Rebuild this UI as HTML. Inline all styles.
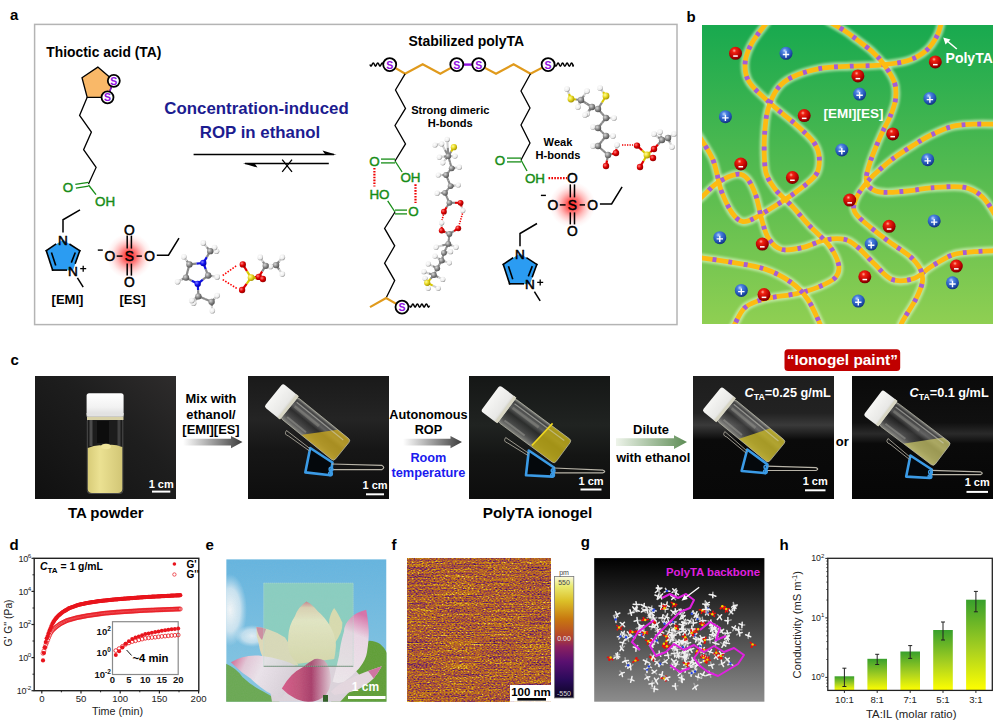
<!DOCTYPE html>
<html><head><meta charset="utf-8"><style>
html,body{margin:0;padding:0;background:#fff;}
body{width:1000px;height:721px;overflow:hidden;}
svg{display:block;font-family:"Liberation Sans", sans-serif;}
</style></head><body>
<svg width="1000" height="721" viewBox="0 0 1000 721" font-family='"Liberation Sans", sans-serif'>
<text x="10.0" y="19.5" font-size="15" font-weight="bold" fill="#000" text-anchor="start" >a</text>
<text x="686.5" y="21.6" font-size="15" font-weight="bold" fill="#000" text-anchor="start" >b</text>
<text x="10.5" y="364.8" font-size="15" font-weight="bold" fill="#000" text-anchor="start" >c</text>
<text x="9.5" y="549.5" font-size="15" font-weight="bold" fill="#000" text-anchor="start" >d</text>
<text x="205.5" y="550.0" font-size="15" font-weight="bold" fill="#000" text-anchor="start" >e</text>
<text x="391.5" y="550.0" font-size="15" font-weight="bold" fill="#000" text-anchor="start" >f</text>
<text x="580.8" y="547.0" font-size="15" font-weight="bold" fill="#000" text-anchor="start" >g</text>
<text x="779.5" y="550.0" font-size="15" font-weight="bold" fill="#000" text-anchor="start" >h</text>
<defs>
<radialGradient id="glow"><stop offset="0" stop-color="#ff1010" stop-opacity="0.95"/><stop offset="0.25" stop-color="#ff2a2a" stop-opacity="0.75"/><stop offset="0.55" stop-color="#ff4040" stop-opacity="0.35"/><stop offset="0.8" stop-color="#ff6060" stop-opacity="0.1"/><stop offset="1" stop-color="#ff8080" stop-opacity="0"/></radialGradient>
<radialGradient id="atomC" cx="0.35" cy="0.35" r="0.7"><stop offset="0" stop-color="#d8d8d8"/><stop offset="0.6" stop-color="#808080"/><stop offset="1" stop-color="#505050"/></radialGradient>
<radialGradient id="atomH" cx="0.38" cy="0.35" r="0.7"><stop offset="0" stop-color="#ffffff"/><stop offset="0.65" stop-color="#ececec"/><stop offset="1" stop-color="#8c8c8c"/></radialGradient>
<radialGradient id="atomO" cx="0.35" cy="0.35" r="0.7"><stop offset="0" stop-color="#ff8080"/><stop offset="0.5" stop-color="#e00000"/><stop offset="1" stop-color="#900000"/></radialGradient>
<radialGradient id="atomS" cx="0.35" cy="0.35" r="0.7"><stop offset="0" stop-color="#ffffa0"/><stop offset="0.5" stop-color="#e8d820"/><stop offset="1" stop-color="#a09000"/></radialGradient>
<radialGradient id="atomN" cx="0.35" cy="0.35" r="0.7"><stop offset="0" stop-color="#8080ff"/><stop offset="0.5" stop-color="#1010f0"/><stop offset="1" stop-color="#0000a0"/></radialGradient>
</defs>
<rect x="34.6" y="24.4" width="642.4" height="300.2" fill="none" stroke="#b4b4b4" stroke-width="1.5"/>
<text x="46.3" y="57.3" font-size="13.85" font-weight="bold" fill="#000" text-anchor="start" >Thioctic acid (TA)</text>
<polygon points="97.8,67.1 113.8,80.8 107.5,97.3 87.2,97.3 82,77.7" fill="#f9b868" stroke="#000" stroke-width="1.3"/>
<line x1="113.8" y1="80.8" x2="107.5" y2="97.3" stroke="#9010e0" stroke-width="1.4"/>
<circle cx="113.8" cy="80.8" r="6.0" fill="#fff" stroke="#000" stroke-width="1.8"/>
<text x="113.8" y="84.9" font-size="10.5" font-weight="bold" fill="#9010e0" text-anchor="middle" >S</text>
<circle cx="107.5" cy="97.3" r="6.0" fill="#fff" stroke="#000" stroke-width="1.8"/>
<text x="107.5" y="101.4" font-size="10.5" font-weight="bold" fill="#9010e0" text-anchor="middle" >S</text>
<polyline points="87.2,97.3 79.6,115.5 91.4,132.0 83.6,149.7 96.1,167.4 88.5,184.1" fill="none" stroke="#000" stroke-width="1.3" stroke-linejoin="miter" />
<line x1="88.5" y1="182.3" x2="75.3" y2="184.3" stroke="#168c16" stroke-width="1.3"/>
<line x1="88.5" y1="186.2" x2="75.9" y2="188.1" stroke="#168c16" stroke-width="1.3"/>
<line x1="88.5" y1="185" x2="96" y2="194.6" stroke="#168c16" stroke-width="1.3"/>
<text x="68.0" y="191.9" font-size="13.4" font-weight="normal" fill="#168c16" text-anchor="middle" stroke="#168c16" stroke-width="0.45">O</text>
<text x="95.1" y="205.7" font-size="13.4" font-weight="normal" fill="#168c16" text-anchor="start" stroke="#168c16" stroke-width="0.45">OH</text>
<text x="256.5" y="113.8" font-size="16.85" font-weight="bold" fill="#1c1c90" text-anchor="middle" >Concentration-induced</text>
<text x="260.0" y="137.6" font-size="16.85" font-weight="bold" fill="#1c1c90" text-anchor="middle" >ROP in ethanol</text>
<line x1="193.6" y1="154.6" x2="334" y2="154.6" stroke="#000" stroke-width="1.5"/>
<polygon points="336.5,154.8 322.5,150.6 325.5,154.8" fill="#000"/>
<line x1="245" y1="163.5" x2="328.8" y2="163.5" stroke="#000" stroke-width="1.5"/>
<polygon points="242.9,163.3 257.5,167.6 254.5,163.3" fill="#000"/>
<path d="M282.2,159.6 L292,171.8 M292,159.6 L282.2,171.8" stroke="#000" stroke-width="1.3"/>
<polygon points="63.0,239.8 79.8,250.7 73.0,270.6 52.6,270.1 46.3,250.7" fill="#2b9cf2"/>
<line x1="46.3" y1="250.7" x2="55.5" y2="244.4" stroke="#000" stroke-width="1.6" stroke-linecap="square"/>
<line x1="70.1" y1="244.4" x2="79.8" y2="250.7" stroke="#000" stroke-width="1.6" stroke-linecap="square"/>
<line x1="79.8" y1="250.7" x2="75.4" y2="262.9" stroke="#000" stroke-width="1.6" stroke-linecap="square"/>
<line x1="52.6" y1="270.1" x2="66.2" y2="270.1" stroke="#000" stroke-width="1.6" stroke-linecap="square"/>
<line x1="46.3" y1="250.7" x2="52.6" y2="270.1" stroke="#000" stroke-width="1.6" stroke-linecap="square"/>
<line x1="51.7" y1="253.2" x2="55.5" y2="264.8" stroke="#000" stroke-width="1.6" stroke-linecap="square"/>
<line x1="75.0" y1="253.2" x2="71.6" y2="261.9" stroke="#000" stroke-width="1.6" stroke-linecap="square"/>
<text x="63.0" y="244.8" font-size="13.6" font-weight="normal" fill="#000" text-anchor="middle" stroke="#000" stroke-width="0.5">N</text>
<text x="73.0" y="275.6" font-size="13.6" font-weight="normal" fill="#000" text-anchor="middle" stroke="#000" stroke-width="0.5">N</text>
<path d="M80.2,268.7 H86.2 M83.2,265.7 V271.7" stroke="#000" stroke-width="1.3"/>
<polyline points="63.0,232.5 63.0,219.8 80.0,209.8" fill="none" stroke="#000" stroke-width="1.5" stroke-linejoin="miter" />
<polyline points="77.4,277.9 83.2,287.1" fill="none" stroke="#000" stroke-width="1.5" stroke-linejoin="miter" />
<text x="67.5" y="303.5" font-size="13" font-weight="bold" fill="#000" text-anchor="middle" >[EMI]</text>
<circle cx="129.3" cy="256.1" r="23" fill="url(#glow)"/>
<line x1="127.20000000000002" y1="248.60000000000002" x2="127.20000000000002" y2="235.60000000000002" stroke="#000" stroke-width="1.5"/>
<line x1="127.20000000000002" y1="263.6" x2="127.20000000000002" y2="275.6" stroke="#000" stroke-width="1.5"/>
<line x1="131.4" y1="248.60000000000002" x2="131.4" y2="235.60000000000002" stroke="#000" stroke-width="1.5"/>
<line x1="131.4" y1="263.6" x2="131.4" y2="275.6" stroke="#000" stroke-width="1.5"/>
<line x1="116.70000000000002" y1="256.1" x2="122.50000000000001" y2="256.1" stroke="#000" stroke-width="1.5"/>
<line x1="136.5" y1="256.1" x2="141.9" y2="256.1" stroke="#000" stroke-width="1.5"/>
<text x="129.3" y="260.9" font-size="13.8" font-weight="normal" fill="#000" text-anchor="middle" stroke="#000" stroke-width="0.5">S</text>
<text x="129.3" y="234.6" font-size="13.8" font-weight="normal" fill="#000" text-anchor="middle" stroke="#000" stroke-width="0.5">O</text>
<text x="129.3" y="286.7" font-size="13.8" font-weight="normal" fill="#000" text-anchor="middle" stroke="#000" stroke-width="0.5">O</text>
<text x="109.8" y="260.9" font-size="13.8" font-weight="normal" fill="#000" text-anchor="middle" stroke="#000" stroke-width="0.5">O</text>
<text x="149.6" y="260.9" font-size="13.8" font-weight="normal" fill="#000" text-anchor="middle" stroke="#000" stroke-width="0.5">O</text>
<line x1="97.80000000000001" y1="250.10000000000002" x2="102.80000000000001" y2="250.10000000000002" stroke="#000" stroke-width="1.4"/>
<polyline points="156.8,255.2 168.5,255.2 179.0,238.1" fill="none" stroke="#000" stroke-width="1.5" stroke-linejoin="miter" />
<text x="132.5" y="303.5" font-size="13" font-weight="bold" fill="#000" text-anchor="middle" >[ES]</text>
<line x1="203.3" y1="263.0" x2="196.4" y2="263.7" stroke="#1010e0" stroke-width="2.2"/>
<line x1="196.4" y1="263.7" x2="189.4" y2="264.4" stroke="#8a8a8a" stroke-width="2.2"/>
<line x1="189.4" y1="264.4" x2="187.7" y2="271.0" stroke="#8a8a8a" stroke-width="2.2"/>
<line x1="187.7" y1="271.0" x2="186.0" y2="277.6" stroke="#8a8a8a" stroke-width="2.2"/>
<line x1="186.0" y1="277.6" x2="191.8" y2="280.7" stroke="#8a8a8a" stroke-width="2.2"/>
<line x1="191.8" y1="280.7" x2="197.7" y2="283.8" stroke="#1010e0" stroke-width="2.2"/>
<line x1="197.7" y1="283.8" x2="202.9" y2="279.6" stroke="#1010e0" stroke-width="2.2"/>
<line x1="202.9" y1="279.6" x2="208.1" y2="275.5" stroke="#8a8a8a" stroke-width="2.2"/>
<line x1="208.1" y1="275.5" x2="205.7" y2="269.2" stroke="#8a8a8a" stroke-width="2.2"/>
<line x1="205.7" y1="269.2" x2="203.3" y2="263.0" stroke="#1010e0" stroke-width="2.2"/>
<line x1="208.1" y1="275.5" x2="212.6" y2="276.2" stroke="#8a8a8a" stroke-width="2.2"/>
<line x1="212.6" y1="276.2" x2="217.2" y2="276.9" stroke="#d0d0d0" stroke-width="2.2"/>
<line x1="189.4" y1="264.4" x2="186.7" y2="260.6" stroke="#8a8a8a" stroke-width="2.2"/>
<line x1="186.7" y1="260.6" x2="183.9" y2="256.8" stroke="#d0d0d0" stroke-width="2.2"/>
<line x1="186.0" y1="277.6" x2="181.8" y2="279.6" stroke="#8a8a8a" stroke-width="2.2"/>
<line x1="181.8" y1="279.6" x2="177.6" y2="281.7" stroke="#d0d0d0" stroke-width="2.2"/>
<line x1="203.3" y1="263.0" x2="206.8" y2="257.1" stroke="#1010e0" stroke-width="2.2"/>
<line x1="206.8" y1="257.1" x2="210.2" y2="251.2" stroke="#8a8a8a" stroke-width="2.2"/>
<line x1="210.2" y1="251.2" x2="206.8" y2="247.1" stroke="#8a8a8a" stroke-width="2.2"/>
<line x1="206.8" y1="247.1" x2="203.3" y2="242.9" stroke="#d0d0d0" stroke-width="2.2"/>
<line x1="210.2" y1="251.2" x2="213.3" y2="251.2" stroke="#8a8a8a" stroke-width="2.2"/>
<line x1="213.3" y1="251.2" x2="216.5" y2="251.2" stroke="#d0d0d0" stroke-width="2.2"/>
<line x1="210.2" y1="251.2" x2="212.3" y2="249.3" stroke="#8a8a8a" stroke-width="2.2"/>
<line x1="212.3" y1="249.3" x2="214.5" y2="247.5" stroke="#d0d0d0" stroke-width="2.2"/>
<line x1="197.7" y1="283.8" x2="198.1" y2="290.1" stroke="#1010e0" stroke-width="2.2"/>
<line x1="198.1" y1="290.1" x2="198.4" y2="296.3" stroke="#8a8a8a" stroke-width="2.2"/>
<line x1="198.4" y1="296.3" x2="205.0" y2="299.1" stroke="#8a8a8a" stroke-width="2.2"/>
<line x1="205.0" y1="299.1" x2="211.6" y2="301.8" stroke="#8a8a8a" stroke-width="2.2"/>
<line x1="198.4" y1="296.3" x2="196.0" y2="299.8" stroke="#8a8a8a" stroke-width="2.2"/>
<line x1="196.0" y1="299.8" x2="193.6" y2="303.2" stroke="#d0d0d0" stroke-width="2.2"/>
<line x1="211.6" y1="301.8" x2="214.4" y2="298.7" stroke="#8a8a8a" stroke-width="2.2"/>
<line x1="214.4" y1="298.7" x2="217.2" y2="295.6" stroke="#d0d0d0" stroke-width="2.2"/>
<line x1="211.6" y1="301.8" x2="211.9" y2="306.3" stroke="#8a8a8a" stroke-width="2.2"/>
<line x1="211.9" y1="306.3" x2="212.3" y2="310.8" stroke="#d0d0d0" stroke-width="2.2"/>
<line x1="198.4" y1="296.3" x2="195.1" y2="298.4" stroke="#8a8a8a" stroke-width="2.2"/>
<line x1="195.1" y1="298.4" x2="191.8" y2="300.5" stroke="#d0d0d0" stroke-width="2.2"/>
<circle cx="217.2" cy="276.9" r="2.81" fill="url(#atomH)"/>
<circle cx="183.9" cy="256.8" r="2.81" fill="url(#atomH)"/>
<circle cx="177.6" cy="281.7" r="2.81" fill="url(#atomH)"/>
<circle cx="203.3" cy="242.9" r="2.81" fill="url(#atomH)"/>
<circle cx="216.5" cy="251.2" r="2.81" fill="url(#atomH)"/>
<circle cx="214.5" cy="247.5" r="2.81" fill="url(#atomH)"/>
<circle cx="193.6" cy="303.2" r="2.81" fill="url(#atomH)"/>
<circle cx="217.2" cy="295.6" r="2.81" fill="url(#atomH)"/>
<circle cx="212.3" cy="310.8" r="2.81" fill="url(#atomH)"/>
<circle cx="191.8" cy="300.5" r="2.81" fill="url(#atomH)"/>
<circle cx="203.3" cy="263.0" r="3.17" fill="url(#atomN)"/>
<circle cx="189.4" cy="264.4" r="3.17" fill="url(#atomC)"/>
<circle cx="186.0" cy="277.6" r="3.17" fill="url(#atomC)"/>
<circle cx="197.7" cy="283.8" r="3.17" fill="url(#atomN)"/>
<circle cx="208.1" cy="275.5" r="3.17" fill="url(#atomC)"/>
<circle cx="210.2" cy="251.2" r="3.17" fill="url(#atomC)"/>
<circle cx="198.4" cy="296.3" r="3.17" fill="url(#atomC)"/>
<circle cx="211.6" cy="301.8" r="3.17" fill="url(#atomC)"/>
<line x1="222.7" y1="275.5" x2="237.3" y2="265.1" stroke="#ff0000" stroke-width="1.6" stroke-dasharray="1.5 1.5"/>
<line x1="222.7" y1="279.6" x2="237.3" y2="288.7" stroke="#ff0000" stroke-width="1.6" stroke-dasharray="1.5 1.5"/>
<line x1="251.1" y1="277.6" x2="246.9" y2="271.0" stroke="#d8c800" stroke-width="2.2"/>
<line x1="246.9" y1="271.0" x2="242.8" y2="264.4" stroke="#e00000" stroke-width="2.2"/>
<line x1="251.1" y1="277.6" x2="246.6" y2="283.8" stroke="#d8c800" stroke-width="2.2"/>
<line x1="246.6" y1="283.8" x2="242.1" y2="290.0" stroke="#e00000" stroke-width="2.2"/>
<line x1="251.1" y1="277.6" x2="254.9" y2="277.2" stroke="#d8c800" stroke-width="2.2"/>
<line x1="254.9" y1="277.2" x2="258.8" y2="276.9" stroke="#e00000" stroke-width="2.2"/>
<line x1="258.8" y1="276.9" x2="262.2" y2="271.4" stroke="#e00000" stroke-width="2.2"/>
<line x1="262.2" y1="271.4" x2="265.7" y2="265.8" stroke="#8a8a8a" stroke-width="2.2"/>
<line x1="265.7" y1="265.8" x2="270.9" y2="265.5" stroke="#8a8a8a" stroke-width="2.2"/>
<line x1="270.9" y1="265.5" x2="276.1" y2="265.1" stroke="#8a8a8a" stroke-width="2.2"/>
<line x1="265.7" y1="265.8" x2="262.9" y2="261.6" stroke="#8a8a8a" stroke-width="2.2"/>
<line x1="262.9" y1="261.6" x2="260.2" y2="257.4" stroke="#d0d0d0" stroke-width="2.2"/>
<line x1="265.7" y1="265.8" x2="268.1" y2="266.1" stroke="#8a8a8a" stroke-width="2.2"/>
<line x1="268.1" y1="266.1" x2="270.6" y2="266.5" stroke="#d0d0d0" stroke-width="2.2"/>
<line x1="276.1" y1="265.1" x2="279.2" y2="261.2" stroke="#8a8a8a" stroke-width="2.2"/>
<line x1="279.2" y1="261.2" x2="282.3" y2="257.4" stroke="#d0d0d0" stroke-width="2.2"/>
<line x1="276.1" y1="265.1" x2="279.2" y2="269.6" stroke="#8a8a8a" stroke-width="2.2"/>
<line x1="279.2" y1="269.6" x2="282.3" y2="274.1" stroke="#d0d0d0" stroke-width="2.2"/>
<line x1="251.1" y1="277.6" x2="257.0" y2="278.3" stroke="#d8c800" stroke-width="2.2"/>
<line x1="257.0" y1="278.3" x2="262.9" y2="279.0" stroke="#e00000" stroke-width="2.2"/>
<circle cx="260.2" cy="257.4" r="2.81" fill="url(#atomH)"/>
<circle cx="270.6" cy="266.5" r="2.81" fill="url(#atomH)"/>
<circle cx="282.3" cy="257.4" r="2.81" fill="url(#atomH)"/>
<circle cx="282.3" cy="274.1" r="2.81" fill="url(#atomH)"/>
<circle cx="265.7" cy="265.8" r="3.17" fill="url(#atomC)"/>
<circle cx="276.1" cy="265.1" r="3.17" fill="url(#atomC)"/>
<circle cx="251.1" cy="277.6" r="3.42" fill="url(#atomS)"/>
<circle cx="242.8" cy="264.4" r="3.17" fill="url(#atomO)"/>
<circle cx="242.1" cy="290.0" r="3.17" fill="url(#atomO)"/>
<circle cx="258.8" cy="276.9" r="3.17" fill="url(#atomO)"/>
<circle cx="262.9" cy="279.0" r="3.17" fill="url(#atomO)"/>
<text x="466.3" y="45.9" font-size="14" font-weight="bold" fill="#000" text-anchor="middle" >Stabilized polyTA</text>
<path d="M369.9,64.6 Q371.0,67.8 372.1,64.6 Q373.3,61.4 374.4,64.6 Q375.5,67.8 376.6,64.6 Q377.8,61.4 378.9,64.6 Q380.0,67.8 381.1,64.6 Q382.3,61.4 383.4,64.6" fill="none" stroke="#000" stroke-width="1.5"/>
<path d="M554.7,64.6 Q555.8,67.8 557.0,64.6 Q558.1,61.4 559.2,64.6 Q560.3,67.8 561.5,64.6 Q562.6,61.4 563.7,64.6 Q564.8,67.8 566.0,64.6 Q567.1,61.4 568.2,64.6 Q569.3,67.8 570.5,64.6 Q571.6,61.4 572.7,64.6 Q573.0,67.8 573.4,64.6" fill="none" stroke="#000" stroke-width="1.5"/>
<polyline points="389.7,64.6 405.1,73.8 422.7,64.2 440.3,73.8 456.8,64.6" fill="none" stroke="#e09a1c" stroke-width="2.2" stroke-linejoin="miter" />
<polyline points="478.8,64.6 496.0,73.8 513.6,64.2 530.5,73.8 548.1,64.6" fill="none" stroke="#e09a1c" stroke-width="2.2" stroke-linejoin="miter" />
<line x1="456.8" y1="64.6" x2="478.8" y2="64.6" stroke="#9010e0" stroke-width="2.4"/>
<circle cx="389.7" cy="64.6" r="6.5" fill="#fff" stroke="#000" stroke-width="1.8"/>
<text x="389.7" y="68.7" font-size="10.5" font-weight="bold" fill="#9010e0" text-anchor="middle" >S</text>
<circle cx="456.8" cy="64.6" r="6.5" fill="#fff" stroke="#000" stroke-width="1.8"/>
<text x="456.8" y="68.7" font-size="10.5" font-weight="bold" fill="#9010e0" text-anchor="middle" >S</text>
<circle cx="478.8" cy="64.6" r="6.5" fill="#fff" stroke="#000" stroke-width="1.8"/>
<text x="478.8" y="68.7" font-size="10.5" font-weight="bold" fill="#9010e0" text-anchor="middle" >S</text>
<circle cx="548.1" cy="64.6" r="6.5" fill="#fff" stroke="#000" stroke-width="1.8"/>
<text x="548.1" y="68.7" font-size="10.5" font-weight="bold" fill="#9010e0" text-anchor="middle" >S</text>
<polyline points="405.1,73.8 395.5,90.0 405.5,108.4 395.0,125.5 405.5,143.9 395.0,161.0" fill="none" stroke="#000" stroke-width="1.3" stroke-linejoin="miter" />
<line x1="395" y1="159.1" x2="381" y2="159.1" stroke="#168c16" stroke-width="1.3"/>
<line x1="395" y1="162.9" x2="381" y2="162.9" stroke="#168c16" stroke-width="1.3"/>
<line x1="395" y1="161" x2="402.1" y2="172" stroke="#168c16" stroke-width="1.3"/>
<text x="374.4" y="165.8" font-size="13.4" font-weight="normal" fill="#168c16" text-anchor="middle" stroke="#168c16" stroke-width="0.45">O</text>
<text x="410.5" y="182.4" font-size="13.4" font-weight="normal" fill="#168c16" text-anchor="middle" stroke="#168c16" stroke-width="0.45">OH</text>
<line x1="374.4" y1="168" x2="374.4" y2="186.5" stroke="#f00000" stroke-width="2.2" stroke-dasharray="1.6 1.3"/>
<line x1="415.5" y1="184.3" x2="415.5" y2="203.1" stroke="#f00000" stroke-width="2.2" stroke-dasharray="1.6 1.3"/>
<text x="379.5" y="199.0" font-size="13.4" font-weight="normal" fill="#168c16" text-anchor="middle" stroke="#168c16" stroke-width="0.45">HO</text>
<line x1="387.7" y1="200.9" x2="395" y2="212" stroke="#168c16" stroke-width="1.3"/>
<line x1="395" y1="210.1" x2="407" y2="210.1" stroke="#168c16" stroke-width="1.3"/>
<line x1="395" y1="213.9" x2="407" y2="213.9" stroke="#168c16" stroke-width="1.3"/>
<text x="413.5" y="215.7" font-size="13.4" font-weight="normal" fill="#168c16" text-anchor="middle" stroke="#168c16" stroke-width="0.45">O</text>
<polyline points="395.0,212.0 384.6,228.4 394.7,245.8 384.6,263.2 394.7,280.6 386.1,298.0" fill="none" stroke="#000" stroke-width="1.3" stroke-linejoin="miter" />
<polyline points="370.0,307.1 386.1,298.0 402.0,307.1" fill="none" stroke="#e09a1c" stroke-width="2.2" stroke-linejoin="miter" />
<circle cx="402.0" cy="307.1" r="6.5" fill="#fff" stroke="#000" stroke-width="1.8"/>
<text x="402.0" y="311.2" font-size="10.5" font-weight="bold" fill="#9010e0" text-anchor="middle" >S</text>
<path d="M409.5,305.6 Q410.6,308.8 411.8,305.6 Q412.9,302.4 414.0,305.6 Q415.1,308.8 416.2,305.6 Q417.4,302.4 418.5,305.6 Q419.6,308.8 420.8,305.6 Q421.9,302.4 423.0,305.6 Q424.1,308.8 425.2,305.6 Q426.4,302.4 427.5,305.6 Q428.5,308.8 429.5,305.6" fill="none" stroke="#000" stroke-width="1.5"/>
<text x="450.3" y="113.7" font-size="11.1" font-weight="bold" fill="#000" text-anchor="middle" >Strong dimeric</text>
<text x="450.3" y="126.6" font-size="11.1" font-weight="bold" fill="#000" text-anchor="middle" >H-bonds</text>
<polyline points="530.5,73.8 521.0,91.0 530.0,108.0 521.0,125.0 530.0,143.0 521.0,160.0" fill="none" stroke="#000" stroke-width="1.3" stroke-linejoin="miter" />
<line x1="521" y1="158.1" x2="507" y2="158.1" stroke="#168c16" stroke-width="1.3"/>
<line x1="521" y1="161.9" x2="507" y2="161.9" stroke="#168c16" stroke-width="1.3"/>
<line x1="521" y1="160" x2="527" y2="171" stroke="#168c16" stroke-width="1.3"/>
<text x="500.0" y="165.0" font-size="13.4" font-weight="normal" fill="#168c16" text-anchor="middle" stroke="#168c16" stroke-width="0.45">O</text>
<text x="535.0" y="182.8" font-size="13.4" font-weight="normal" fill="#168c16" text-anchor="middle" stroke="#168c16" stroke-width="0.45">OH</text>
<line x1="548.5" y1="178.2" x2="567" y2="178.2" stroke="#f00000" stroke-width="2.2" stroke-dasharray="1.6 1.3"/>
<text x="558.0" y="145.5" font-size="11.1" font-weight="bold" fill="#000" text-anchor="middle" >Weak</text>
<text x="558.0" y="159.0" font-size="11.1" font-weight="bold" fill="#000" text-anchor="middle" >H-bonds</text>
<circle cx="572.4" cy="204.9" r="23" fill="url(#glow)"/>
<line x1="570.3" y1="197.4" x2="570.3" y2="184.4" stroke="#000" stroke-width="1.5"/>
<line x1="570.3" y1="212.4" x2="570.3" y2="224.4" stroke="#000" stroke-width="1.5"/>
<line x1="574.5" y1="197.4" x2="574.5" y2="184.4" stroke="#000" stroke-width="1.5"/>
<line x1="574.5" y1="212.4" x2="574.5" y2="224.4" stroke="#000" stroke-width="1.5"/>
<line x1="559.8" y1="204.9" x2="565.6" y2="204.9" stroke="#000" stroke-width="1.5"/>
<line x1="579.6" y1="204.9" x2="585.0" y2="204.9" stroke="#000" stroke-width="1.5"/>
<text x="572.4" y="209.7" font-size="13.8" font-weight="normal" fill="#000" text-anchor="middle" stroke="#000" stroke-width="0.5">S</text>
<text x="572.4" y="183.4" font-size="13.8" font-weight="normal" fill="#000" text-anchor="middle" stroke="#000" stroke-width="0.5">O</text>
<text x="572.4" y="235.5" font-size="13.8" font-weight="normal" fill="#000" text-anchor="middle" stroke="#000" stroke-width="0.5">O</text>
<text x="552.9" y="209.7" font-size="13.8" font-weight="normal" fill="#000" text-anchor="middle" stroke="#000" stroke-width="0.5">O</text>
<text x="592.7" y="209.7" font-size="13.8" font-weight="normal" fill="#000" text-anchor="middle" stroke="#000" stroke-width="0.5">O</text>
<line x1="540.9" y1="195.4" x2="545.9" y2="195.4" stroke="#000" stroke-width="1.4"/>
<polyline points="599.9,204.0 611.6,204.0 622.1,186.9" fill="none" stroke="#000" stroke-width="1.5" stroke-linejoin="miter" />
<polygon points="520.0,253.5 536.8,264.4 530.0,284.3 509.6,283.8 503.3,264.4" fill="#2b9cf2"/>
<line x1="503.3" y1="264.4" x2="512.5" y2="258.1" stroke="#000" stroke-width="1.6" stroke-linecap="square"/>
<line x1="527.1" y1="258.1" x2="536.8" y2="264.4" stroke="#000" stroke-width="1.6" stroke-linecap="square"/>
<line x1="536.8" y1="264.4" x2="532.4" y2="276.6" stroke="#000" stroke-width="1.6" stroke-linecap="square"/>
<line x1="509.6" y1="283.8" x2="523.2" y2="283.8" stroke="#000" stroke-width="1.6" stroke-linecap="square"/>
<line x1="503.3" y1="264.4" x2="509.6" y2="283.8" stroke="#000" stroke-width="1.6" stroke-linecap="square"/>
<line x1="508.7" y1="266.9" x2="512.5" y2="278.5" stroke="#000" stroke-width="1.6" stroke-linecap="square"/>
<line x1="532.0" y1="266.9" x2="528.6" y2="275.6" stroke="#000" stroke-width="1.6" stroke-linecap="square"/>
<text x="520.0" y="258.5" font-size="13.6" font-weight="normal" fill="#000" text-anchor="middle" stroke="#000" stroke-width="0.5">N</text>
<text x="530.0" y="289.3" font-size="13.6" font-weight="normal" fill="#000" text-anchor="middle" stroke="#000" stroke-width="0.5">N</text>
<path d="M537.2,282.4 H543.2 M540.2,279.4 V285.4" stroke="#000" stroke-width="1.3"/>
<polyline points="520.0,246.2 520.0,233.5 537.0,223.5" fill="none" stroke="#000" stroke-width="1.5" stroke-linejoin="miter" />
<polyline points="534.4,291.6 540.2,300.8" fill="none" stroke="#000" stroke-width="1.5" stroke-linejoin="miter" />
<line x1="447.2" y1="139.4" x2="447.8" y2="147.8" stroke="#d0d0d0" stroke-width="2.1"/>
<line x1="447.8" y1="147.8" x2="448.3" y2="156.1" stroke="#8a8a8a" stroke-width="2.1"/>
<line x1="435.0" y1="145.0" x2="438.4" y2="144.4" stroke="#d0d0d0" stroke-width="2.1"/>
<line x1="438.4" y1="144.4" x2="441.7" y2="143.9" stroke="#d0d0d0" stroke-width="2.1"/>
<line x1="441.7" y1="143.9" x2="445.0" y2="150.0" stroke="#d0d0d0" stroke-width="2.1"/>
<line x1="445.0" y1="150.0" x2="448.3" y2="156.1" stroke="#8a8a8a" stroke-width="2.1"/>
<line x1="453.9" y1="147.2" x2="451.1" y2="151.6" stroke="#d8c800" stroke-width="2.1"/>
<line x1="451.1" y1="151.6" x2="448.3" y2="156.1" stroke="#8a8a8a" stroke-width="2.1"/>
<line x1="448.3" y1="156.1" x2="451.6" y2="156.1" stroke="#8a8a8a" stroke-width="2.1"/>
<line x1="451.6" y1="156.1" x2="455.0" y2="156.1" stroke="#d0d0d0" stroke-width="2.1"/>
<line x1="448.3" y1="156.1" x2="443.9" y2="156.6" stroke="#8a8a8a" stroke-width="2.1"/>
<line x1="443.9" y1="156.6" x2="439.4" y2="157.2" stroke="#d0d0d0" stroke-width="2.1"/>
<line x1="448.3" y1="156.1" x2="445.6" y2="159.4" stroke="#8a8a8a" stroke-width="2.1"/>
<line x1="445.6" y1="159.4" x2="442.8" y2="162.8" stroke="#d0d0d0" stroke-width="2.1"/>
<line x1="448.3" y1="156.1" x2="450.0" y2="162.2" stroke="#8a8a8a" stroke-width="2.1"/>
<line x1="450.0" y1="162.2" x2="451.7" y2="168.3" stroke="#8a8a8a" stroke-width="2.1"/>
<line x1="451.7" y1="168.3" x2="455.5" y2="167.8" stroke="#8a8a8a" stroke-width="2.1"/>
<line x1="455.5" y1="167.8" x2="459.4" y2="167.2" stroke="#d0d0d0" stroke-width="2.1"/>
<line x1="451.7" y1="168.3" x2="448.9" y2="171.7" stroke="#8a8a8a" stroke-width="2.1"/>
<line x1="448.9" y1="171.7" x2="446.1" y2="175.0" stroke="#8a8a8a" stroke-width="2.1"/>
<line x1="446.1" y1="175.0" x2="442.2" y2="175.0" stroke="#8a8a8a" stroke-width="2.1"/>
<line x1="442.2" y1="175.0" x2="438.3" y2="175.0" stroke="#d0d0d0" stroke-width="2.1"/>
<line x1="446.1" y1="175.0" x2="448.4" y2="180.6" stroke="#8a8a8a" stroke-width="2.1"/>
<line x1="448.4" y1="180.6" x2="450.6" y2="186.1" stroke="#8a8a8a" stroke-width="2.1"/>
<line x1="450.6" y1="186.1" x2="454.5" y2="185.6" stroke="#8a8a8a" stroke-width="2.1"/>
<line x1="454.5" y1="185.6" x2="458.3" y2="185.0" stroke="#d0d0d0" stroke-width="2.1"/>
<line x1="450.6" y1="186.1" x2="447.8" y2="189.4" stroke="#8a8a8a" stroke-width="2.1"/>
<line x1="447.8" y1="189.4" x2="445.0" y2="192.8" stroke="#8a8a8a" stroke-width="2.1"/>
<line x1="445.0" y1="192.8" x2="441.1" y2="193.0" stroke="#8a8a8a" stroke-width="2.1"/>
<line x1="441.1" y1="193.0" x2="437.2" y2="193.2" stroke="#d0d0d0" stroke-width="2.1"/>
<line x1="445.0" y1="192.8" x2="447.2" y2="197.8" stroke="#8a8a8a" stroke-width="2.1"/>
<line x1="447.2" y1="197.8" x2="449.4" y2="202.8" stroke="#8a8a8a" stroke-width="2.1"/>
<line x1="449.4" y1="202.8" x2="455.0" y2="202.8" stroke="#8a8a8a" stroke-width="2.1"/>
<line x1="455.0" y1="202.8" x2="460.6" y2="202.8" stroke="#e00000" stroke-width="2.1"/>
<line x1="460.6" y1="202.8" x2="461.7" y2="206.7" stroke="#e00000" stroke-width="2.1"/>
<line x1="461.7" y1="206.7" x2="462.8" y2="210.6" stroke="#d0d0d0" stroke-width="2.1"/>
<line x1="449.4" y1="202.8" x2="446.6" y2="207.2" stroke="#8a8a8a" stroke-width="2.1"/>
<line x1="446.6" y1="207.2" x2="443.9" y2="211.7" stroke="#e00000" stroke-width="2.1"/>
<line x1="441.7" y1="230.6" x2="445.5" y2="232.2" stroke="#e00000" stroke-width="2.1"/>
<line x1="445.5" y1="232.2" x2="449.4" y2="233.9" stroke="#8a8a8a" stroke-width="2.1"/>
<line x1="458.3" y1="228.3" x2="453.9" y2="231.1" stroke="#e00000" stroke-width="2.1"/>
<line x1="453.9" y1="231.1" x2="449.4" y2="233.9" stroke="#8a8a8a" stroke-width="2.1"/>
<line x1="449.4" y1="233.9" x2="448.9" y2="238.9" stroke="#8a8a8a" stroke-width="2.1"/>
<line x1="448.9" y1="238.9" x2="448.3" y2="243.9" stroke="#8a8a8a" stroke-width="2.1"/>
<line x1="441.7" y1="230.6" x2="441.7" y2="226.7" stroke="#e00000" stroke-width="2.1"/>
<line x1="441.7" y1="226.7" x2="441.7" y2="222.8" stroke="#d0d0d0" stroke-width="2.1"/>
<line x1="448.3" y1="243.9" x2="452.2" y2="245.6" stroke="#8a8a8a" stroke-width="2.1"/>
<line x1="452.2" y1="245.6" x2="456.1" y2="247.2" stroke="#d0d0d0" stroke-width="2.1"/>
<line x1="448.3" y1="243.9" x2="442.2" y2="245.6" stroke="#8a8a8a" stroke-width="2.1"/>
<line x1="442.2" y1="245.6" x2="436.1" y2="247.2" stroke="#d0d0d0" stroke-width="2.1"/>
<line x1="448.3" y1="243.9" x2="446.1" y2="248.4" stroke="#8a8a8a" stroke-width="2.1"/>
<line x1="446.1" y1="248.4" x2="443.9" y2="252.8" stroke="#8a8a8a" stroke-width="2.1"/>
<line x1="443.9" y1="252.8" x2="447.2" y2="252.2" stroke="#8a8a8a" stroke-width="2.1"/>
<line x1="447.2" y1="252.2" x2="450.6" y2="251.7" stroke="#d0d0d0" stroke-width="2.1"/>
<line x1="443.9" y1="252.8" x2="442.8" y2="256.7" stroke="#8a8a8a" stroke-width="2.1"/>
<line x1="442.8" y1="256.7" x2="441.7" y2="260.6" stroke="#8a8a8a" stroke-width="2.1"/>
<line x1="441.7" y1="260.6" x2="445.5" y2="261.7" stroke="#8a8a8a" stroke-width="2.1"/>
<line x1="445.5" y1="261.7" x2="449.4" y2="262.8" stroke="#d0d0d0" stroke-width="2.1"/>
<line x1="441.7" y1="260.6" x2="438.4" y2="258.4" stroke="#8a8a8a" stroke-width="2.1"/>
<line x1="438.4" y1="258.4" x2="435.0" y2="256.1" stroke="#d0d0d0" stroke-width="2.1"/>
<line x1="441.7" y1="260.6" x2="439.4" y2="264.5" stroke="#8a8a8a" stroke-width="2.1"/>
<line x1="439.4" y1="264.5" x2="437.2" y2="268.3" stroke="#8a8a8a" stroke-width="2.1"/>
<line x1="437.2" y1="268.3" x2="432.8" y2="266.1" stroke="#8a8a8a" stroke-width="2.1"/>
<line x1="432.8" y1="266.1" x2="428.3" y2="263.9" stroke="#d0d0d0" stroke-width="2.1"/>
<line x1="437.2" y1="268.3" x2="435.5" y2="271.6" stroke="#8a8a8a" stroke-width="2.1"/>
<line x1="435.5" y1="271.6" x2="433.9" y2="275.0" stroke="#8a8a8a" stroke-width="2.1"/>
<line x1="433.9" y1="275.0" x2="428.9" y2="273.4" stroke="#8a8a8a" stroke-width="2.1"/>
<line x1="428.9" y1="273.4" x2="423.9" y2="271.7" stroke="#d0d0d0" stroke-width="2.1"/>
<line x1="433.9" y1="275.0" x2="438.4" y2="277.2" stroke="#8a8a8a" stroke-width="2.1"/>
<line x1="438.4" y1="277.2" x2="442.8" y2="279.4" stroke="#d0d0d0" stroke-width="2.1"/>
<line x1="433.9" y1="275.0" x2="430.5" y2="278.9" stroke="#8a8a8a" stroke-width="2.1"/>
<line x1="430.5" y1="278.9" x2="427.2" y2="282.8" stroke="#d8c800" stroke-width="2.1"/>
<line x1="427.2" y1="282.8" x2="426.1" y2="280.6" stroke="#d8c800" stroke-width="2.1"/>
<line x1="426.1" y1="280.6" x2="425.0" y2="278.3" stroke="#d0d0d0" stroke-width="2.1"/>
<line x1="427.2" y1="282.8" x2="432.8" y2="285.6" stroke="#d8c800" stroke-width="2.1"/>
<line x1="432.8" y1="285.6" x2="438.3" y2="288.3" stroke="#d0d0d0" stroke-width="2.1"/>
<line x1="427.2" y1="282.8" x2="427.8" y2="285.6" stroke="#d8c800" stroke-width="2.1"/>
<line x1="427.8" y1="285.6" x2="428.3" y2="288.3" stroke="#d0d0d0" stroke-width="2.1"/>
<circle cx="447.2" cy="139.4" r="2.58" fill="url(#atomH)"/>
<circle cx="435.0" cy="145.0" r="2.58" fill="url(#atomH)"/>
<circle cx="441.7" cy="143.9" r="2.58" fill="url(#atomH)"/>
<circle cx="455.0" cy="156.1" r="2.58" fill="url(#atomH)"/>
<circle cx="439.4" cy="157.2" r="2.58" fill="url(#atomH)"/>
<circle cx="442.8" cy="162.8" r="2.58" fill="url(#atomH)"/>
<circle cx="459.4" cy="167.2" r="2.58" fill="url(#atomH)"/>
<circle cx="438.3" cy="175.0" r="2.58" fill="url(#atomH)"/>
<circle cx="458.3" cy="185.0" r="2.58" fill="url(#atomH)"/>
<circle cx="437.2" cy="193.2" r="2.58" fill="url(#atomH)"/>
<circle cx="462.8" cy="210.6" r="2.58" fill="url(#atomH)"/>
<circle cx="441.7" cy="222.8" r="2.58" fill="url(#atomH)"/>
<circle cx="456.1" cy="247.2" r="2.58" fill="url(#atomH)"/>
<circle cx="436.1" cy="247.2" r="2.58" fill="url(#atomH)"/>
<circle cx="450.6" cy="251.7" r="2.58" fill="url(#atomH)"/>
<circle cx="449.4" cy="262.8" r="2.58" fill="url(#atomH)"/>
<circle cx="435.0" cy="256.1" r="2.58" fill="url(#atomH)"/>
<circle cx="428.3" cy="263.9" r="2.58" fill="url(#atomH)"/>
<circle cx="423.9" cy="271.7" r="2.58" fill="url(#atomH)"/>
<circle cx="442.8" cy="279.4" r="2.58" fill="url(#atomH)"/>
<circle cx="425.0" cy="278.3" r="2.58" fill="url(#atomH)"/>
<circle cx="438.3" cy="288.3" r="2.58" fill="url(#atomH)"/>
<circle cx="428.3" cy="288.3" r="2.58" fill="url(#atomH)"/>
<circle cx="448.3" cy="156.1" r="2.91" fill="url(#atomC)"/>
<circle cx="451.7" cy="168.3" r="2.91" fill="url(#atomC)"/>
<circle cx="446.1" cy="175.0" r="2.91" fill="url(#atomC)"/>
<circle cx="450.6" cy="186.1" r="2.91" fill="url(#atomC)"/>
<circle cx="445.0" cy="192.8" r="2.91" fill="url(#atomC)"/>
<circle cx="449.4" cy="202.8" r="2.91" fill="url(#atomC)"/>
<circle cx="449.4" cy="233.9" r="2.91" fill="url(#atomC)"/>
<circle cx="448.3" cy="243.9" r="2.91" fill="url(#atomC)"/>
<circle cx="443.9" cy="252.8" r="2.91" fill="url(#atomC)"/>
<circle cx="441.7" cy="260.6" r="2.91" fill="url(#atomC)"/>
<circle cx="437.2" cy="268.3" r="2.91" fill="url(#atomC)"/>
<circle cx="433.9" cy="275.0" r="2.91" fill="url(#atomC)"/>
<circle cx="453.9" cy="147.2" r="3.14" fill="url(#atomS)"/>
<circle cx="460.6" cy="202.8" r="2.91" fill="url(#atomO)"/>
<circle cx="443.9" cy="211.7" r="2.91" fill="url(#atomO)"/>
<circle cx="441.7" cy="230.6" r="2.91" fill="url(#atomO)"/>
<circle cx="458.3" cy="228.3" r="2.91" fill="url(#atomO)"/>
<circle cx="427.2" cy="282.8" r="3.14" fill="url(#atomS)"/>
<line x1="443.5" y1="214.5" x2="442" y2="220" stroke="#f00000" stroke-width="1.6" stroke-dasharray="1.3 1.2"/>
<line x1="462.5" y1="213.5" x2="459" y2="225.5" stroke="#f00000" stroke-width="1.6" stroke-dasharray="1.3 1.2"/>
<line x1="567.0" y1="89.0" x2="569.0" y2="94.0" stroke="#d0d0d0" stroke-width="2.2"/>
<line x1="569.0" y1="94.0" x2="571.0" y2="99.0" stroke="#d8c800" stroke-width="2.2"/>
<line x1="571.0" y1="99.0" x2="576.0" y2="99.5" stroke="#d8c800" stroke-width="2.2"/>
<line x1="576.0" y1="99.5" x2="581.0" y2="100.0" stroke="#8a8a8a" stroke-width="2.2"/>
<line x1="581.0" y1="100.0" x2="584.0" y2="95.5" stroke="#8a8a8a" stroke-width="2.2"/>
<line x1="584.0" y1="95.5" x2="587.0" y2="91.0" stroke="#d0d0d0" stroke-width="2.2"/>
<line x1="581.0" y1="100.0" x2="579.5" y2="103.5" stroke="#8a8a8a" stroke-width="2.2"/>
<line x1="579.5" y1="103.5" x2="578.0" y2="107.0" stroke="#d0d0d0" stroke-width="2.2"/>
<line x1="581.0" y1="100.0" x2="586.5" y2="103.5" stroke="#8a8a8a" stroke-width="2.2"/>
<line x1="586.5" y1="103.5" x2="592.0" y2="107.0" stroke="#8a8a8a" stroke-width="2.2"/>
<line x1="592.0" y1="107.0" x2="589.5" y2="110.5" stroke="#8a8a8a" stroke-width="2.2"/>
<line x1="589.5" y1="110.5" x2="587.0" y2="114.0" stroke="#d0d0d0" stroke-width="2.2"/>
<line x1="592.0" y1="107.0" x2="595.0" y2="108.0" stroke="#8a8a8a" stroke-width="2.2"/>
<line x1="595.0" y1="108.0" x2="598.0" y2="109.0" stroke="#8a8a8a" stroke-width="2.2"/>
<line x1="598.0" y1="109.0" x2="602.0" y2="102.5" stroke="#8a8a8a" stroke-width="2.2"/>
<line x1="602.0" y1="102.5" x2="606.0" y2="96.0" stroke="#d8c800" stroke-width="2.2"/>
<line x1="606.0" y1="96.0" x2="603.0" y2="92.0" stroke="#d8c800" stroke-width="2.2"/>
<line x1="603.0" y1="92.0" x2="600.0" y2="88.0" stroke="#d0d0d0" stroke-width="2.2"/>
<line x1="598.0" y1="109.0" x2="602.0" y2="113.5" stroke="#8a8a8a" stroke-width="2.2"/>
<line x1="602.0" y1="113.5" x2="606.0" y2="118.0" stroke="#8a8a8a" stroke-width="2.2"/>
<line x1="606.0" y1="118.0" x2="610.0" y2="118.0" stroke="#8a8a8a" stroke-width="2.2"/>
<line x1="610.0" y1="118.0" x2="614.0" y2="118.0" stroke="#d0d0d0" stroke-width="2.2"/>
<line x1="592.0" y1="107.0" x2="588.5" y2="111.0" stroke="#8a8a8a" stroke-width="2.2"/>
<line x1="588.5" y1="111.0" x2="585.0" y2="115.0" stroke="#d0d0d0" stroke-width="2.2"/>
<line x1="606.0" y1="118.0" x2="602.0" y2="123.0" stroke="#8a8a8a" stroke-width="2.2"/>
<line x1="602.0" y1="123.0" x2="598.0" y2="128.0" stroke="#8a8a8a" stroke-width="2.2"/>
<line x1="598.0" y1="128.0" x2="595.5" y2="127.5" stroke="#8a8a8a" stroke-width="2.2"/>
<line x1="595.5" y1="127.5" x2="593.0" y2="127.0" stroke="#d0d0d0" stroke-width="2.2"/>
<line x1="598.0" y1="128.0" x2="602.0" y2="132.0" stroke="#8a8a8a" stroke-width="2.2"/>
<line x1="602.0" y1="132.0" x2="606.0" y2="136.0" stroke="#8a8a8a" stroke-width="2.2"/>
<line x1="606.0" y1="136.0" x2="609.5" y2="136.0" stroke="#8a8a8a" stroke-width="2.2"/>
<line x1="609.5" y1="136.0" x2="613.0" y2="136.0" stroke="#d0d0d0" stroke-width="2.2"/>
<line x1="606.0" y1="136.0" x2="602.0" y2="141.0" stroke="#8a8a8a" stroke-width="2.2"/>
<line x1="602.0" y1="141.0" x2="598.0" y2="146.0" stroke="#8a8a8a" stroke-width="2.2"/>
<line x1="598.0" y1="146.0" x2="595.5" y2="146.0" stroke="#8a8a8a" stroke-width="2.2"/>
<line x1="595.5" y1="146.0" x2="593.0" y2="146.0" stroke="#d0d0d0" stroke-width="2.2"/>
<line x1="598.0" y1="146.0" x2="603.0" y2="150.5" stroke="#8a8a8a" stroke-width="2.2"/>
<line x1="603.0" y1="150.5" x2="608.0" y2="155.0" stroke="#8a8a8a" stroke-width="2.2"/>
<line x1="608.0" y1="155.0" x2="612.0" y2="154.0" stroke="#8a8a8a" stroke-width="2.2"/>
<line x1="612.0" y1="154.0" x2="616.0" y2="153.0" stroke="#e00000" stroke-width="2.2"/>
<line x1="616.0" y1="153.0" x2="616.5" y2="149.0" stroke="#e00000" stroke-width="2.2"/>
<line x1="616.5" y1="149.0" x2="617.0" y2="145.0" stroke="#d0d0d0" stroke-width="2.2"/>
<line x1="608.0" y1="155.0" x2="607.0" y2="160.5" stroke="#8a8a8a" stroke-width="2.2"/>
<line x1="607.0" y1="160.5" x2="606.0" y2="166.0" stroke="#e00000" stroke-width="2.2"/>
<circle cx="567.0" cy="89.0" r="2.81" fill="url(#atomH)"/>
<circle cx="587.0" cy="91.0" r="2.81" fill="url(#atomH)"/>
<circle cx="578.0" cy="107.0" r="2.81" fill="url(#atomH)"/>
<circle cx="587.0" cy="114.0" r="2.81" fill="url(#atomH)"/>
<circle cx="600.0" cy="88.0" r="2.81" fill="url(#atomH)"/>
<circle cx="614.0" cy="118.0" r="2.81" fill="url(#atomH)"/>
<circle cx="585.0" cy="115.0" r="2.81" fill="url(#atomH)"/>
<circle cx="593.0" cy="127.0" r="2.81" fill="url(#atomH)"/>
<circle cx="613.0" cy="136.0" r="2.81" fill="url(#atomH)"/>
<circle cx="593.0" cy="146.0" r="2.81" fill="url(#atomH)"/>
<circle cx="617.0" cy="145.0" r="2.81" fill="url(#atomH)"/>
<circle cx="581.0" cy="100.0" r="3.17" fill="url(#atomC)"/>
<circle cx="592.0" cy="107.0" r="3.17" fill="url(#atomC)"/>
<circle cx="598.0" cy="109.0" r="3.17" fill="url(#atomC)"/>
<circle cx="606.0" cy="118.0" r="3.17" fill="url(#atomC)"/>
<circle cx="598.0" cy="128.0" r="3.17" fill="url(#atomC)"/>
<circle cx="606.0" cy="136.0" r="3.17" fill="url(#atomC)"/>
<circle cx="598.0" cy="146.0" r="3.17" fill="url(#atomC)"/>
<circle cx="608.0" cy="155.0" r="3.17" fill="url(#atomC)"/>
<circle cx="571.0" cy="99.0" r="3.42" fill="url(#atomS)"/>
<circle cx="606.0" cy="96.0" r="3.42" fill="url(#atomS)"/>
<circle cx="616.0" cy="153.0" r="3.17" fill="url(#atomO)"/>
<circle cx="606.0" cy="166.0" r="3.17" fill="url(#atomO)"/>
<line x1="622" y1="145" x2="633" y2="145" stroke="#f00000" stroke-width="1.5" stroke-dasharray="1.3 1.2"/>
<line x1="647.0" y1="155.0" x2="642.0" y2="150.3" stroke="#d8c800" stroke-width="2.2"/>
<line x1="642.0" y1="150.3" x2="637.0" y2="145.6" stroke="#e00000" stroke-width="2.2"/>
<line x1="647.0" y1="155.0" x2="650.5" y2="152.0" stroke="#d8c800" stroke-width="2.2"/>
<line x1="650.5" y1="152.0" x2="654.0" y2="149.0" stroke="#e00000" stroke-width="2.2"/>
<line x1="647.0" y1="155.0" x2="650.0" y2="156.5" stroke="#d8c800" stroke-width="2.2"/>
<line x1="650.0" y1="156.5" x2="653.0" y2="158.0" stroke="#e00000" stroke-width="2.2"/>
<line x1="647.0" y1="155.0" x2="643.5" y2="161.0" stroke="#d8c800" stroke-width="2.2"/>
<line x1="643.5" y1="161.0" x2="640.0" y2="167.0" stroke="#e00000" stroke-width="2.2"/>
<line x1="654.0" y1="149.0" x2="658.0" y2="144.5" stroke="#e00000" stroke-width="2.2"/>
<line x1="658.0" y1="144.5" x2="662.0" y2="140.0" stroke="#8a8a8a" stroke-width="2.2"/>
<line x1="662.0" y1="140.0" x2="665.0" y2="139.0" stroke="#8a8a8a" stroke-width="2.2"/>
<line x1="665.0" y1="139.0" x2="668.0" y2="138.0" stroke="#8a8a8a" stroke-width="2.2"/>
<line x1="662.0" y1="140.0" x2="658.0" y2="137.0" stroke="#8a8a8a" stroke-width="2.2"/>
<line x1="658.0" y1="137.0" x2="654.0" y2="134.0" stroke="#d0d0d0" stroke-width="2.2"/>
<line x1="662.0" y1="140.0" x2="661.0" y2="136.0" stroke="#8a8a8a" stroke-width="2.2"/>
<line x1="661.0" y1="136.0" x2="660.0" y2="132.0" stroke="#d0d0d0" stroke-width="2.2"/>
<line x1="668.0" y1="138.0" x2="670.0" y2="142.5" stroke="#8a8a8a" stroke-width="2.2"/>
<line x1="670.0" y1="142.5" x2="672.0" y2="147.0" stroke="#d0d0d0" stroke-width="2.2"/>
<line x1="668.0" y1="138.0" x2="671.0" y2="136.0" stroke="#8a8a8a" stroke-width="2.2"/>
<line x1="671.0" y1="136.0" x2="674.0" y2="134.0" stroke="#d0d0d0" stroke-width="2.2"/>
<circle cx="654.0" cy="134.0" r="2.81" fill="url(#atomH)"/>
<circle cx="660.0" cy="132.0" r="2.81" fill="url(#atomH)"/>
<circle cx="672.0" cy="147.0" r="2.81" fill="url(#atomH)"/>
<circle cx="674.0" cy="134.0" r="2.81" fill="url(#atomH)"/>
<circle cx="662.0" cy="140.0" r="3.17" fill="url(#atomC)"/>
<circle cx="668.0" cy="138.0" r="3.17" fill="url(#atomC)"/>
<circle cx="647.0" cy="155.0" r="3.42" fill="url(#atomS)"/>
<circle cx="637.0" cy="145.6" r="3.17" fill="url(#atomO)"/>
<circle cx="654.0" cy="149.0" r="3.17" fill="url(#atomO)"/>
<circle cx="653.0" cy="158.0" r="3.17" fill="url(#atomO)"/>
<circle cx="640.0" cy="167.0" r="3.17" fill="url(#atomO)"/>
<defs>
<linearGradient id="bgB" x1="0" y1="0" x2="0" y2="1"><stop offset="0" stop-color="#18a94f"/><stop offset="0.5" stop-color="#55bb50"/><stop offset="1" stop-color="#8fcf52"/></linearGradient>
<radialGradient id="redS" cx="0.4" cy="0.3" r="0.75"><stop offset="0" stop-color="#ffb0a0"/><stop offset="0.2" stop-color="#f02010"/><stop offset="0.7" stop-color="#b00000"/><stop offset="1" stop-color="#600000"/></radialGradient>
<radialGradient id="bluS" cx="0.4" cy="0.3" r="0.75"><stop offset="0" stop-color="#c0d8ff"/><stop offset="0.25" stop-color="#4a80e0"/><stop offset="0.7" stop-color="#2050b0"/><stop offset="1" stop-color="#102a70"/></radialGradient>
<filter id="blur2" x="-10%" y="-10%" width="120%" height="120%"><feGaussianBlur stdDeviation="1.3"/></filter>
<clipPath id="clipB"><rect x="702" y="25" width="291" height="299"/></clipPath>
</defs>
<rect x="702" y="25" width="291" height="299" fill="url(#bgB)"/>
<g clip-path="url(#clipB)">
<path d="M768.8,20.0 C765.9,23.9 755.5,36.4 751.6,43.6 C747.7,50.8 745.5,56.5 745.1,63.0 C744.7,69.5 745.1,75.5 749.4,82.3 C753.7,89.1 763.0,96.6 770.9,103.8 C778.8,111.0 789.5,118.8 796.7,125.3 C803.9,131.8 810.1,137.1 813.9,142.5 C817.7,147.9 818.9,152.1 819.3,157.5 C819.6,162.9 819.8,169.0 816.0,174.7 C812.2,180.4 803.1,186.6 796.7,191.5 C790.3,196.4 784.2,200.1 777.4,204.4 C770.6,208.7 761.6,214.4 755.9,217.3 C750.2,220.2 747.0,222.3 743.0,221.6 C739.0,220.9 735.8,218.0 732.2,213.0 C728.6,208.0 724.0,197.9 721.5,191.5 C719.0,185.1 718.6,180.0 717.2,174.7 C715.8,169.4 715.2,165.1 712.9,159.7 C710.6,154.3 705.9,146.9 703.2,142.5 C700.6,138.1 698.0,134.6 697.0,133.0" fill="none" stroke="#d8f4c0" stroke-opacity="0.65" stroke-width="9" filter="url(#blur2)"/>
<path d="M697.0,201.0 C698.0,200.1 699.8,198.8 703.2,195.8 C706.6,192.8 711.7,186.5 717.2,182.9 C722.8,179.3 731.5,175.0 736.5,174.3 C741.5,173.6 744.1,175.0 747.3,178.6 C750.5,182.2 753.4,188.6 755.9,195.8 C758.4,203.0 760.1,214.4 762.3,221.6 C764.4,228.8 765.6,234.2 768.8,238.8 C772.0,243.5 776.0,248.1 781.7,249.5 C787.4,250.9 796.0,249.0 803.2,247.4 C810.4,245.8 817.7,241.3 824.7,240.0 C831.7,238.7 839.5,238.3 845.0,239.5 C850.5,240.7 852.9,243.2 857.9,247.4 C862.9,251.6 869.4,259.2 875.1,264.6 C880.8,270.0 885.8,277.3 892.3,279.6 C898.8,281.9 907.3,280.6 913.8,278.5 C920.2,276.4 924.5,270.6 931.0,266.7 C937.5,262.8 945.3,257.4 952.5,254.9 C959.7,252.4 966.6,252.4 974.0,251.7 C981.4,251.0 993.2,250.8 997.0,250.6" fill="none" stroke="#d8f4c0" stroke-opacity="0.65" stroke-width="9" filter="url(#blur2)"/>
<path d="M942.0,20.0 C941.2,22.5 939.9,30.0 937.4,35.0 C934.9,40.0 931.7,45.8 926.7,50.1 C921.7,54.4 915.2,58.3 907.3,60.8 C899.4,63.3 888.9,64.2 879.4,65.1 C869.9,66.0 859.8,65.7 850.0,66.2 C840.2,66.8 830.0,66.6 820.4,68.4 C810.8,70.2 799.6,73.6 792.4,77.0 C785.2,80.4 781.5,83.2 777.4,88.8 C773.3,94.3 769.9,102.4 767.7,110.3 C765.6,118.2 765.0,127.8 764.5,136.0 C764.0,144.2 764.1,153.2 764.5,159.7 C764.9,166.1 764.8,169.8 766.6,174.7 C768.4,179.6 770.9,184.0 775.2,189.3 C779.5,194.6 786.7,200.4 792.4,206.5 C798.1,212.6 803.5,219.5 809.6,225.9 C815.7,232.3 824.2,238.8 829.0,245.2 C833.8,251.6 837.5,259.2 838.6,264.6 C839.7,270.0 838.8,273.8 835.4,277.5 C832.0,281.2 824.7,284.4 818.2,287.1 C811.8,289.8 805.7,291.6 796.7,293.6 C787.8,295.6 773.1,296.7 764.5,299.0 C755.9,301.3 750.1,303.2 745.1,307.5 C740.1,311.8 736.8,320.8 734.4,324.7 C732.0,328.6 731.6,329.9 731.0,331.0" fill="none" stroke="#d8f4c0" stroke-opacity="0.65" stroke-width="9" filter="url(#blur2)"/>
<path d="M826.0,20.0 C829.2,21.8 839.7,27.6 845.0,31.0 C850.3,34.4 853.2,36.9 857.9,40.4 C862.5,43.9 868.6,48.2 872.9,52.2 C877.2,56.2 880.1,59.1 883.7,64.1 C887.3,69.1 892.4,76.4 894.4,82.3 C896.4,88.2 896.2,93.8 895.5,99.5 C894.8,105.2 892.1,111.6 890.1,116.7 C888.1,121.8 885.5,125.5 883.4,130.0 C881.2,134.5 879.4,138.6 877.2,143.9 C875.0,149.2 872.0,156.4 870.2,161.9 C868.4,167.4 866.6,173.3 866.3,177.2 C865.9,181.1 866.5,183.2 868.1,185.5 C869.7,187.8 872.4,189.8 875.8,191.0 C879.2,192.2 882.1,192.5 888.3,192.4 C894.5,192.3 906.1,191.1 913.2,190.3 C920.3,189.5 922.7,188.3 931.0,187.8 C939.3,187.3 954.6,185.7 963.2,187.2 C971.8,188.7 976.9,191.8 982.5,196.9 C988.1,202.0 994.6,214.5 997.0,218.0" fill="none" stroke="#d8f4c0" stroke-opacity="0.65" stroke-width="9" filter="url(#blur2)"/>
<path d="M997.0,124.2 C993.2,124.2 981.4,123.8 974.0,124.2 C966.6,124.6 959.8,124.5 952.5,126.4 C945.2,128.3 936.5,132.3 930.0,135.5 C923.5,138.7 919.5,141.4 913.2,145.3 C906.9,149.2 899.1,154.0 892.4,159.1 C885.7,164.2 877.9,171.2 873.0,175.8 C868.1,180.4 866.0,183.4 863.3,186.9 C860.6,190.4 858.6,193.1 857.0,196.6 C855.4,200.1 853.5,204.5 853.6,207.7 C853.7,210.9 854.9,212.8 857.7,216.0 C860.5,219.2 865.2,222.9 870.2,227.1 C875.2,231.2 881.5,236.1 888.0,240.9 C894.5,245.7 904.1,251.3 909.5,256.0 C914.9,260.7 918.1,264.6 920.2,268.9 C922.4,273.2 923.1,276.8 922.4,281.8 C921.7,286.8 919.1,292.6 915.9,299.0 C912.7,305.4 905.8,315.2 903.0,320.4 C900.2,325.6 899.7,328.4 899.0,330.0" fill="none" stroke="#d8f4c0" stroke-opacity="0.65" stroke-width="9" filter="url(#blur2)"/>
<path d="M697.0,258.0 C698.0,258.0 697.3,257.4 703.2,258.1 C709.1,258.8 722.0,260.6 732.2,262.4 C742.4,264.2 754.8,265.7 764.5,268.9 C774.2,272.1 783.1,276.8 790.3,281.8 C797.5,286.8 802.5,291.9 807.5,299.0 C812.5,306.1 817.8,319.4 820.4,324.7 C823.0,330.0 822.6,329.9 823.0,331.0" fill="none" stroke="#d8f4c0" stroke-opacity="0.65" stroke-width="9" filter="url(#blur2)"/>
<path d="M768.8,20.0 C765.9,23.9 755.5,36.4 751.6,43.6 C747.7,50.8 745.5,56.5 745.1,63.0 C744.7,69.5 745.1,75.5 749.4,82.3 C753.7,89.1 763.0,96.6 770.9,103.8 C778.8,111.0 789.5,118.8 796.7,125.3 C803.9,131.8 810.1,137.1 813.9,142.5 C817.7,147.9 818.9,152.1 819.3,157.5 C819.6,162.9 819.8,169.0 816.0,174.7 C812.2,180.4 803.1,186.6 796.7,191.5 C790.3,196.4 784.2,200.1 777.4,204.4 C770.6,208.7 761.6,214.4 755.9,217.3 C750.2,220.2 747.0,222.3 743.0,221.6 C739.0,220.9 735.8,218.0 732.2,213.0 C728.6,208.0 724.0,197.9 721.5,191.5 C719.0,185.1 718.6,180.0 717.2,174.7 C715.8,169.4 715.2,165.1 712.9,159.7 C710.6,154.3 705.9,146.9 703.2,142.5 C700.6,138.1 698.0,134.6 697.0,133.0" fill="none" stroke="#fdbb12" stroke-width="4.8"/>
<path d="M768.8,20.0 C765.9,23.9 755.5,36.4 751.6,43.6 C747.7,50.8 745.5,56.5 745.1,63.0 C744.7,69.5 745.1,75.5 749.4,82.3 C753.7,89.1 763.0,96.6 770.9,103.8 C778.8,111.0 789.5,118.8 796.7,125.3 C803.9,131.8 810.1,137.1 813.9,142.5 C817.7,147.9 818.9,152.1 819.3,157.5 C819.6,162.9 819.8,169.0 816.0,174.7 C812.2,180.4 803.1,186.6 796.7,191.5 C790.3,196.4 784.2,200.1 777.4,204.4 C770.6,208.7 761.6,214.4 755.9,217.3 C750.2,220.2 747.0,222.3 743.0,221.6 C739.0,220.9 735.8,218.0 732.2,213.0 C728.6,208.0 724.0,197.9 721.5,191.5 C719.0,185.1 718.6,180.0 717.2,174.7 C715.8,169.4 715.2,165.1 712.9,159.7 C710.6,154.3 705.9,146.9 703.2,142.5 C700.6,138.1 698.0,134.6 697.0,133.0" fill="none" stroke="#a35cd8" stroke-width="4.8" stroke-dasharray="3.8 12"/>
<path d="M697.0,201.0 C698.0,200.1 699.8,198.8 703.2,195.8 C706.6,192.8 711.7,186.5 717.2,182.9 C722.8,179.3 731.5,175.0 736.5,174.3 C741.5,173.6 744.1,175.0 747.3,178.6 C750.5,182.2 753.4,188.6 755.9,195.8 C758.4,203.0 760.1,214.4 762.3,221.6 C764.4,228.8 765.6,234.2 768.8,238.8 C772.0,243.5 776.0,248.1 781.7,249.5 C787.4,250.9 796.0,249.0 803.2,247.4 C810.4,245.8 817.7,241.3 824.7,240.0 C831.7,238.7 839.5,238.3 845.0,239.5 C850.5,240.7 852.9,243.2 857.9,247.4 C862.9,251.6 869.4,259.2 875.1,264.6 C880.8,270.0 885.8,277.3 892.3,279.6 C898.8,281.9 907.3,280.6 913.8,278.5 C920.2,276.4 924.5,270.6 931.0,266.7 C937.5,262.8 945.3,257.4 952.5,254.9 C959.7,252.4 966.6,252.4 974.0,251.7 C981.4,251.0 993.2,250.8 997.0,250.6" fill="none" stroke="#fdbb12" stroke-width="4.8"/>
<path d="M697.0,201.0 C698.0,200.1 699.8,198.8 703.2,195.8 C706.6,192.8 711.7,186.5 717.2,182.9 C722.8,179.3 731.5,175.0 736.5,174.3 C741.5,173.6 744.1,175.0 747.3,178.6 C750.5,182.2 753.4,188.6 755.9,195.8 C758.4,203.0 760.1,214.4 762.3,221.6 C764.4,228.8 765.6,234.2 768.8,238.8 C772.0,243.5 776.0,248.1 781.7,249.5 C787.4,250.9 796.0,249.0 803.2,247.4 C810.4,245.8 817.7,241.3 824.7,240.0 C831.7,238.7 839.5,238.3 845.0,239.5 C850.5,240.7 852.9,243.2 857.9,247.4 C862.9,251.6 869.4,259.2 875.1,264.6 C880.8,270.0 885.8,277.3 892.3,279.6 C898.8,281.9 907.3,280.6 913.8,278.5 C920.2,276.4 924.5,270.6 931.0,266.7 C937.5,262.8 945.3,257.4 952.5,254.9 C959.7,252.4 966.6,252.4 974.0,251.7 C981.4,251.0 993.2,250.8 997.0,250.6" fill="none" stroke="#a35cd8" stroke-width="4.8" stroke-dasharray="3.8 12"/>
<path d="M942.0,20.0 C941.2,22.5 939.9,30.0 937.4,35.0 C934.9,40.0 931.7,45.8 926.7,50.1 C921.7,54.4 915.2,58.3 907.3,60.8 C899.4,63.3 888.9,64.2 879.4,65.1 C869.9,66.0 859.8,65.7 850.0,66.2 C840.2,66.8 830.0,66.6 820.4,68.4 C810.8,70.2 799.6,73.6 792.4,77.0 C785.2,80.4 781.5,83.2 777.4,88.8 C773.3,94.3 769.9,102.4 767.7,110.3 C765.6,118.2 765.0,127.8 764.5,136.0 C764.0,144.2 764.1,153.2 764.5,159.7 C764.9,166.1 764.8,169.8 766.6,174.7 C768.4,179.6 770.9,184.0 775.2,189.3 C779.5,194.6 786.7,200.4 792.4,206.5 C798.1,212.6 803.5,219.5 809.6,225.9 C815.7,232.3 824.2,238.8 829.0,245.2 C833.8,251.6 837.5,259.2 838.6,264.6 C839.7,270.0 838.8,273.8 835.4,277.5 C832.0,281.2 824.7,284.4 818.2,287.1 C811.8,289.8 805.7,291.6 796.7,293.6 C787.8,295.6 773.1,296.7 764.5,299.0 C755.9,301.3 750.1,303.2 745.1,307.5 C740.1,311.8 736.8,320.8 734.4,324.7 C732.0,328.6 731.6,329.9 731.0,331.0" fill="none" stroke="#fdbb12" stroke-width="4.8"/>
<path d="M942.0,20.0 C941.2,22.5 939.9,30.0 937.4,35.0 C934.9,40.0 931.7,45.8 926.7,50.1 C921.7,54.4 915.2,58.3 907.3,60.8 C899.4,63.3 888.9,64.2 879.4,65.1 C869.9,66.0 859.8,65.7 850.0,66.2 C840.2,66.8 830.0,66.6 820.4,68.4 C810.8,70.2 799.6,73.6 792.4,77.0 C785.2,80.4 781.5,83.2 777.4,88.8 C773.3,94.3 769.9,102.4 767.7,110.3 C765.6,118.2 765.0,127.8 764.5,136.0 C764.0,144.2 764.1,153.2 764.5,159.7 C764.9,166.1 764.8,169.8 766.6,174.7 C768.4,179.6 770.9,184.0 775.2,189.3 C779.5,194.6 786.7,200.4 792.4,206.5 C798.1,212.6 803.5,219.5 809.6,225.9 C815.7,232.3 824.2,238.8 829.0,245.2 C833.8,251.6 837.5,259.2 838.6,264.6 C839.7,270.0 838.8,273.8 835.4,277.5 C832.0,281.2 824.7,284.4 818.2,287.1 C811.8,289.8 805.7,291.6 796.7,293.6 C787.8,295.6 773.1,296.7 764.5,299.0 C755.9,301.3 750.1,303.2 745.1,307.5 C740.1,311.8 736.8,320.8 734.4,324.7 C732.0,328.6 731.6,329.9 731.0,331.0" fill="none" stroke="#a35cd8" stroke-width="4.8" stroke-dasharray="3.8 12"/>
<path d="M826.0,20.0 C829.2,21.8 839.7,27.6 845.0,31.0 C850.3,34.4 853.2,36.9 857.9,40.4 C862.5,43.9 868.6,48.2 872.9,52.2 C877.2,56.2 880.1,59.1 883.7,64.1 C887.3,69.1 892.4,76.4 894.4,82.3 C896.4,88.2 896.2,93.8 895.5,99.5 C894.8,105.2 892.1,111.6 890.1,116.7 C888.1,121.8 885.5,125.5 883.4,130.0 C881.2,134.5 879.4,138.6 877.2,143.9 C875.0,149.2 872.0,156.4 870.2,161.9 C868.4,167.4 866.6,173.3 866.3,177.2 C865.9,181.1 866.5,183.2 868.1,185.5 C869.7,187.8 872.4,189.8 875.8,191.0 C879.2,192.2 882.1,192.5 888.3,192.4 C894.5,192.3 906.1,191.1 913.2,190.3 C920.3,189.5 922.7,188.3 931.0,187.8 C939.3,187.3 954.6,185.7 963.2,187.2 C971.8,188.7 976.9,191.8 982.5,196.9 C988.1,202.0 994.6,214.5 997.0,218.0" fill="none" stroke="#fdbb12" stroke-width="4.8"/>
<path d="M826.0,20.0 C829.2,21.8 839.7,27.6 845.0,31.0 C850.3,34.4 853.2,36.9 857.9,40.4 C862.5,43.9 868.6,48.2 872.9,52.2 C877.2,56.2 880.1,59.1 883.7,64.1 C887.3,69.1 892.4,76.4 894.4,82.3 C896.4,88.2 896.2,93.8 895.5,99.5 C894.8,105.2 892.1,111.6 890.1,116.7 C888.1,121.8 885.5,125.5 883.4,130.0 C881.2,134.5 879.4,138.6 877.2,143.9 C875.0,149.2 872.0,156.4 870.2,161.9 C868.4,167.4 866.6,173.3 866.3,177.2 C865.9,181.1 866.5,183.2 868.1,185.5 C869.7,187.8 872.4,189.8 875.8,191.0 C879.2,192.2 882.1,192.5 888.3,192.4 C894.5,192.3 906.1,191.1 913.2,190.3 C920.3,189.5 922.7,188.3 931.0,187.8 C939.3,187.3 954.6,185.7 963.2,187.2 C971.8,188.7 976.9,191.8 982.5,196.9 C988.1,202.0 994.6,214.5 997.0,218.0" fill="none" stroke="#a35cd8" stroke-width="4.8" stroke-dasharray="3.8 12"/>
<path d="M997.0,124.2 C993.2,124.2 981.4,123.8 974.0,124.2 C966.6,124.6 959.8,124.5 952.5,126.4 C945.2,128.3 936.5,132.3 930.0,135.5 C923.5,138.7 919.5,141.4 913.2,145.3 C906.9,149.2 899.1,154.0 892.4,159.1 C885.7,164.2 877.9,171.2 873.0,175.8 C868.1,180.4 866.0,183.4 863.3,186.9 C860.6,190.4 858.6,193.1 857.0,196.6 C855.4,200.1 853.5,204.5 853.6,207.7 C853.7,210.9 854.9,212.8 857.7,216.0 C860.5,219.2 865.2,222.9 870.2,227.1 C875.2,231.2 881.5,236.1 888.0,240.9 C894.5,245.7 904.1,251.3 909.5,256.0 C914.9,260.7 918.1,264.6 920.2,268.9 C922.4,273.2 923.1,276.8 922.4,281.8 C921.7,286.8 919.1,292.6 915.9,299.0 C912.7,305.4 905.8,315.2 903.0,320.4 C900.2,325.6 899.7,328.4 899.0,330.0" fill="none" stroke="#fdbb12" stroke-width="4.8"/>
<path d="M997.0,124.2 C993.2,124.2 981.4,123.8 974.0,124.2 C966.6,124.6 959.8,124.5 952.5,126.4 C945.2,128.3 936.5,132.3 930.0,135.5 C923.5,138.7 919.5,141.4 913.2,145.3 C906.9,149.2 899.1,154.0 892.4,159.1 C885.7,164.2 877.9,171.2 873.0,175.8 C868.1,180.4 866.0,183.4 863.3,186.9 C860.6,190.4 858.6,193.1 857.0,196.6 C855.4,200.1 853.5,204.5 853.6,207.7 C853.7,210.9 854.9,212.8 857.7,216.0 C860.5,219.2 865.2,222.9 870.2,227.1 C875.2,231.2 881.5,236.1 888.0,240.9 C894.5,245.7 904.1,251.3 909.5,256.0 C914.9,260.7 918.1,264.6 920.2,268.9 C922.4,273.2 923.1,276.8 922.4,281.8 C921.7,286.8 919.1,292.6 915.9,299.0 C912.7,305.4 905.8,315.2 903.0,320.4 C900.2,325.6 899.7,328.4 899.0,330.0" fill="none" stroke="#a35cd8" stroke-width="4.8" stroke-dasharray="3.8 12"/>
<path d="M697.0,258.0 C698.0,258.0 697.3,257.4 703.2,258.1 C709.1,258.8 722.0,260.6 732.2,262.4 C742.4,264.2 754.8,265.7 764.5,268.9 C774.2,272.1 783.1,276.8 790.3,281.8 C797.5,286.8 802.5,291.9 807.5,299.0 C812.5,306.1 817.8,319.4 820.4,324.7 C823.0,330.0 822.6,329.9 823.0,331.0" fill="none" stroke="#fdbb12" stroke-width="4.8"/>
<path d="M697.0,258.0 C698.0,258.0 697.3,257.4 703.2,258.1 C709.1,258.8 722.0,260.6 732.2,262.4 C742.4,264.2 754.8,265.7 764.5,268.9 C774.2,272.1 783.1,276.8 790.3,281.8 C797.5,286.8 802.5,291.9 807.5,299.0 C812.5,306.1 817.8,319.4 820.4,324.7 C823.0,330.0 822.6,329.9 823.0,331.0" fill="none" stroke="#a35cd8" stroke-width="4.8" stroke-dasharray="3.8 12"/>
<circle cx="735.5" cy="53.3" r="6.5" fill="url(#redS)"/>
<rect x="733.2" y="55.3" width="4.6" height="1.5" fill="#fff"/>
<circle cx="804.2" cy="115.6" r="6.5" fill="url(#redS)"/>
<rect x="801.9" y="117.6" width="4.6" height="1.5" fill="#fff"/>
<circle cx="740.8" cy="164" r="6.5" fill="url(#redS)"/>
<rect x="738.5" y="166.0" width="4.6" height="1.5" fill="#fff"/>
<circle cx="792.4" cy="177.5" r="6.5" fill="url(#redS)"/>
<rect x="790.1" y="179.5" width="4.6" height="1.5" fill="#fff"/>
<circle cx="762.3" cy="244.1" r="6.5" fill="url(#redS)"/>
<rect x="760.0" y="246.1" width="4.6" height="1.5" fill="#fff"/>
<circle cx="764" cy="294.6" r="6.5" fill="url(#redS)"/>
<rect x="761.7" y="296.6" width="4.6" height="1.5" fill="#fff"/>
<circle cx="857.9" cy="75.9" r="6.5" fill="url(#redS)"/>
<rect x="855.6" y="77.9" width="4.6" height="1.5" fill="#fff"/>
<circle cx="935.3" cy="61.9" r="6.5" fill="url(#redS)"/>
<rect x="933.0" y="63.9" width="4.6" height="1.5" fill="#fff"/>
<circle cx="892.7" cy="133.9" r="6.5" fill="url(#redS)"/>
<rect x="890.4" y="135.9" width="4.6" height="1.5" fill="#fff"/>
<circle cx="849.7" cy="200.1" r="6.5" fill="url(#redS)"/>
<rect x="847.4" y="202.1" width="4.6" height="1.5" fill="#fff"/>
<circle cx="889.1" cy="226.3" r="6.5" fill="url(#redS)"/>
<rect x="886.8" y="228.3" width="4.6" height="1.5" fill="#fff"/>
<circle cx="864.8" cy="276.8" r="6.5" fill="url(#redS)"/>
<rect x="862.5" y="278.8" width="4.6" height="1.5" fill="#fff"/>
<circle cx="956.3" cy="266.1" r="6.5" fill="url(#redS)"/>
<rect x="954.0" y="268.1" width="4.6" height="1.5" fill="#fff"/>
<circle cx="786" cy="53.3" r="6.5" fill="url(#bluS)"/>
<path d="M782.8,54.5 H789.2 M786.0,51.3 V57.7" stroke="#fff" stroke-width="1.4"/>
<circle cx="725.4" cy="116.7" r="6.5" fill="url(#bluS)"/>
<path d="M722.2,117.9 H728.6 M725.4,114.7 V121.1" stroke="#fff" stroke-width="1.4"/>
<circle cx="841.8" cy="150" r="6.5" fill="url(#bluS)"/>
<path d="M838.6,151.2 H845.0 M841.8,148.0 V154.4" stroke="#fff" stroke-width="1.4"/>
<circle cx="859.6" cy="94.1" r="6.5" fill="url(#bluS)"/>
<path d="M856.4,95.3 H862.8 M859.6,92.1 V98.5" stroke="#fff" stroke-width="1.4"/>
<circle cx="929.9" cy="98.4" r="6.5" fill="url(#bluS)"/>
<path d="M926.7,99.6 H933.1 M929.9,96.4 V102.8" stroke="#fff" stroke-width="1.4"/>
<circle cx="927.7" cy="159.7" r="6.5" fill="url(#bluS)"/>
<path d="M924.5,160.9 H930.9 M927.7,157.7 V164.1" stroke="#fff" stroke-width="1.4"/>
<circle cx="719.8" cy="237.7" r="6.5" fill="url(#bluS)"/>
<path d="M716.6,238.9 H723.0 M719.8,235.7 V242.1" stroke="#fff" stroke-width="1.4"/>
<circle cx="741.3" cy="290.4" r="6.5" fill="url(#bluS)"/>
<path d="M738.1,291.6 H744.5 M741.3,288.4 V294.8" stroke="#fff" stroke-width="1.4"/>
<circle cx="934.2" cy="220.9" r="6.5" fill="url(#bluS)"/>
<path d="M931.0,222.1 H937.4 M934.2,218.9 V225.3" stroke="#fff" stroke-width="1.4"/>
<circle cx="871.2" cy="244.1" r="6.5" fill="url(#bluS)"/>
<path d="M868.0,245.3 H874.4 M871.2,242.1 V248.5" stroke="#fff" stroke-width="1.4"/>
<circle cx="858.3" cy="301.1" r="6.5" fill="url(#bluS)"/>
<path d="M855.1,302.3 H861.5 M858.3,299.1 V305.5" stroke="#fff" stroke-width="1.4"/>
<circle cx="952.5" cy="282.8" r="6.5" fill="url(#bluS)"/>
<path d="M949.3,284.0 H955.7 M952.5,280.8 V287.2" stroke="#fff" stroke-width="1.4"/>
</g>
<text x="853.5" y="118.2" font-size="13.5" font-weight="bold" fill="#fff" text-anchor="middle" >[EMI][ES]</text>
<text x="969.2" y="63.0" font-size="14.0" font-weight="bold" fill="#fff" text-anchor="middle" >PolyTA</text>
<line x1="956.8" y1="49" x2="946" y2="40" stroke="#fff" stroke-width="1.6"/>
<polygon points="943.2,37.6 950.5,39.5 945.5,44.5" fill="#fff"/>
<defs>
<linearGradient id="ph1" x1="0" y1="1" x2="1" y2="0"><stop offset="0" stop-color="#101010"/><stop offset="0.6" stop-color="#1e1e1e"/><stop offset="1" stop-color="#2e2c2c"/></linearGradient>
<linearGradient id="ph2" x1="0" y1="0" x2="0" y2="1"><stop offset="0" stop-color="#1a1a1a"/><stop offset="0.35" stop-color="#242424"/><stop offset="0.6" stop-color="#161616"/><stop offset="1" stop-color="#0e0e0e"/></linearGradient>
<linearGradient id="ph3" x1="0" y1="0" x2="0" y2="1"><stop offset="0" stop-color="#151716"/><stop offset="0.4" stop-color="#202321"/><stop offset="0.65" stop-color="#141514"/><stop offset="1" stop-color="#0d0d0d"/></linearGradient>
<linearGradient id="ph4" x1="0" y1="0" x2="0" y2="1"><stop offset="0" stop-color="#1e1e1e"/><stop offset="0.3" stop-color="#222"/><stop offset="0.4" stop-color="#3a3a3a"/><stop offset="0.52" stop-color="#0a0a0a"/><stop offset="1" stop-color="#080808"/></linearGradient>
<linearGradient id="ph5" x1="0" y1="0" x2="0" y2="1"><stop offset="0" stop-color="#0a0a0a"/><stop offset="0.38" stop-color="#101010"/><stop offset="0.47" stop-color="#2a2a2a"/><stop offset="0.55" stop-color="#0a0a0a"/><stop offset="1" stop-color="#060606"/></linearGradient>
<linearGradient id="capG" x1="0" y1="0" x2="1" y2="0"><stop offset="0" stop-color="#f6f6f4"/><stop offset="0.75" stop-color="#e8e8e6"/><stop offset="1" stop-color="#c8c8c0"/></linearGradient>
<linearGradient id="capV" x1="0" y1="0" x2="0" y2="1"><stop offset="0" stop-color="#ffffff"/><stop offset="0.6" stop-color="#f2f2f2"/><stop offset="1" stop-color="#d8d8d8"/></linearGradient>
<linearGradient id="powG" x1="0" y1="0" x2="1" y2="0"><stop offset="0" stop-color="#d8cc78"/><stop offset="0.35" stop-color="#ebe192"/><stop offset="1" stop-color="#d2c676"/></linearGradient>
<linearGradient id="glassG" x1="0" y1="0" x2="0" y2="1"><stop offset="0" stop-color="#c8c8c0" stop-opacity="0.7"/><stop offset="0.1" stop-color="#707070" stop-opacity="0.45"/><stop offset="0.32" stop-color="#a0a0a0" stop-opacity="0.5"/><stop offset="0.5" stop-color="#404040" stop-opacity="0.4"/><stop offset="0.78" stop-color="#808080" stop-opacity="0.45"/><stop offset="1" stop-color="#c0c0b8" stop-opacity="0.65"/></linearGradient>
<linearGradient id="arrG" x1="0" y1="0" x2="1" y2="0"><stop offset="0" stop-color="#ffffff"/><stop offset="1" stop-color="#3c3c3c"/></linearGradient>
<linearGradient id="arrGr" x1="0" y1="0" x2="1" y2="0"><stop offset="0" stop-color="#eef4ea"/><stop offset="1" stop-color="#5d8c55"/></linearGradient>
</defs>
<rect x="35" y="376" width="141" height="123" fill="url(#ph1)"/>
<rect x="248" y="376" width="141" height="123" fill="url(#ph2)"/>
<rect x="469" y="376" width="141" height="123" fill="url(#ph3)"/>
<rect x="693" y="376" width="141" height="123" fill="url(#ph4)"/>
<rect x="852" y="376" width="141" height="123" fill="url(#ph5)"/>
<rect x="87.3" y="418" width="35.5" height="75.5" rx="3" fill="#1c1c1c" stroke="#5a5a5a" stroke-width="0.8"/>
<rect x="89.5" y="420" width="3" height="26" fill="#6a6a6a" opacity="0.6"/>
<rect x="117.5" y="420" width="3" height="26" fill="#5a5a5a" opacity="0.6"/>
<rect x="97" y="421" width="12" height="22" fill="#0a0a0a" opacity="0.8"/>
<path d="M87.8,448 Q97,444 105,446 Q112,443 122.3,447 L122.3,489 Q122.3,493 118,493 L92,493 Q87.8,493 87.8,489 Z" fill="url(#powG)"/>
<ellipse cx="106" cy="446.5" rx="5" ry="2.8" fill="#efe59a"/>
<rect x="87" y="416.5" width="36.5" height="3.5" fill="#d9d2a8"/>
<rect x="86.6" y="393.3" width="37" height="23.3" rx="2.5" fill="url(#capV)"/>
<rect x="86.6" y="413" width="37" height="3.6" fill="#e2e2e2"/>
<clipPath id="vb2"><rect x="19.5" y="-13.5" width="69.0" height="27" rx="3" transform="translate(273.5,395.0) rotate(39.0)"/></clipPath>
<g transform="translate(273.5,395.0) rotate(39.0)">
<rect x="19.5" y="-13.5" width="69.0" height="27" rx="3" fill="url(#glassG)"/>
</g>
<g clip-path="url(#vb2)"><polygon points="280,437.8 348,428.2 365,490 265,490" fill="#c8a820" fill-opacity="0.8"/></g>
<g transform="translate(273.5,395.0) rotate(39.0)">
<rect x="19.5" y="-13.5" width="69.0" height="27" rx="3" fill="none" stroke="#b8b8a8" stroke-width="0.9" stroke-opacity="0.75"/>
<line x1="22.5" y1="-9.0" x2="82.5" y2="-9.0" stroke="#d8d8d0" stroke-opacity="0.5" stroke-width="1.2"/>
<line x1="23.5" y1="-4.5" x2="54.87" y2="-4.5" stroke="#a0a098" stroke-opacity="0.35" stroke-width="3"/>
<line x1="24.5" y1="8.5" x2="48.675000000000004" y2="8.5" stroke="#b0b0a8" stroke-opacity="0.4" stroke-width="2"/>
<rect x="0" y="-15.0" width="20.5" height="30" rx="2.5" fill="url(#capG)"/>
<rect x="17.5" y="-15.0" width="3" height="30" fill="#d8d6c4"/>
</g>
<clipPath id="vb3"><rect x="19.7" y="-14.5" width="70.89999999999999" height="29" rx="3" transform="translate(490.3,398.2) rotate(36.5)"/></clipPath>
<g transform="translate(490.3,398.2) rotate(36.5)">
<rect x="19.7" y="-14.5" width="70.89999999999999" height="29" rx="3" fill="url(#glassG)"/>
</g>
<g clip-path="url(#vb3)"><polygon points="531.6,445.8 552.6,423.4 600,460 560,490" fill="#b8a414" fill-opacity="0.85"/></g>
<g transform="translate(490.3,398.2) rotate(36.5)">
<rect x="19.7" y="-14.5" width="70.89999999999999" height="29" rx="3" fill="none" stroke="#b8b8a8" stroke-width="0.9" stroke-opacity="0.75"/>
<line x1="22.7" y1="-10.0" x2="84.6" y2="-10.0" stroke="#d8d8d0" stroke-opacity="0.5" stroke-width="1.2"/>
<line x1="23.7" y1="-5.5" x2="56.172" y2="-5.5" stroke="#a0a098" stroke-opacity="0.35" stroke-width="3"/>
<line x1="24.7" y1="9.5" x2="49.83" y2="9.5" stroke="#b0b0a8" stroke-opacity="0.4" stroke-width="2"/>
<rect x="0" y="-16.0" width="20.7" height="32" rx="2.5" fill="url(#capG)"/>
<rect x="17.7" y="-16.0" width="3" height="32" fill="#d8d6c4"/>
</g>
<line x1="531.8" y1="445.5" x2="552.6" y2="423.4" stroke="#f0d820" stroke-width="1.6"/>
<clipPath id="vb4"><rect x="17.5" y="-14.0" width="66.8" height="28" rx="3" transform="translate(711.9,398.6) rotate(39.4)"/></clipPath>
<g transform="translate(711.9,398.6) rotate(39.4)">
<rect x="17.5" y="-14.0" width="66.8" height="28" rx="3" fill="url(#glassG)"/>
</g>
<g clip-path="url(#vb4)"><polygon points="728,442.5 790,421.7 800,480 720,480" fill="#c8b828" fill-opacity="0.8"/></g>
<g transform="translate(711.9,398.6) rotate(39.4)">
<rect x="17.5" y="-14.0" width="66.8" height="28" rx="3" fill="none" stroke="#b8b8a8" stroke-width="0.9" stroke-opacity="0.75"/>
<line x1="20.5" y1="-9.5" x2="78.3" y2="-9.5" stroke="#d8d8d0" stroke-opacity="0.5" stroke-width="1.2"/>
<line x1="21.5" y1="-5.0" x2="52.266" y2="-5.0" stroke="#a0a098" stroke-opacity="0.35" stroke-width="3"/>
<line x1="22.5" y1="9.0" x2="46.365" y2="9.0" stroke="#b0b0a8" stroke-opacity="0.4" stroke-width="2"/>
<rect x="0" y="-15.5" width="18.5" height="31" rx="2.5" fill="url(#capG)"/>
<rect x="15.5" y="-15.5" width="3" height="31" fill="#d8d6c4"/>
</g>
<clipPath id="vb5"><rect x="17.8" y="-14.5" width="69.10000000000001" height="29" rx="3" transform="translate(873.0,402.4) rotate(37.1)"/></clipPath>
<g transform="translate(873.0,402.4) rotate(37.1)">
<rect x="17.8" y="-14.5" width="69.10000000000001" height="29" rx="3" fill="url(#glassG)"/>
</g>
<g clip-path="url(#vb5)"><polygon points="885,446.5 960,435 960,490 880,490" fill="#ccc868" fill-opacity="0.72"/></g>
<g transform="translate(873.0,402.4) rotate(37.1)">
<rect x="17.8" y="-14.5" width="69.10000000000001" height="29" rx="3" fill="none" stroke="#b8b8a8" stroke-width="0.9" stroke-opacity="0.75"/>
<line x1="20.8" y1="-10.0" x2="80.9" y2="-10.0" stroke="#d8d8d0" stroke-opacity="0.5" stroke-width="1.2"/>
<line x1="21.8" y1="-5.5" x2="53.878" y2="-5.5" stroke="#a0a098" stroke-opacity="0.35" stroke-width="3"/>
<line x1="22.8" y1="9.5" x2="47.79500000000001" y2="9.5" stroke="#b0b0a8" stroke-opacity="0.4" stroke-width="2"/>
<rect x="0" y="-16.0" width="18.8" height="32" rx="2.5" fill="url(#capG)"/>
<rect x="15.8" y="-16.0" width="3" height="32" fill="#d8d6c4"/>
</g>
<polygon points="310.2,448.0 332.5,462.5 330.5,475.2 305.3,472.4" fill="#04080c" stroke="#3b9be6" stroke-width="2.6" stroke-linejoin="round"/>
<path d="M331.9,464.0 L382.0,465.4 Q385.5,467.5 382.0,469.6 L331.9,469.6" fill="none" stroke="#b8b4a8" stroke-width="1.2"/>
<circle cx="331.0" cy="469.2" r="1.9" fill="none" stroke="#3b9be6" stroke-width="1.4"/>
<circle cx="330.5" cy="473.7" r="1.9" fill="none" stroke="#3b9be6" stroke-width="1.4"/>
<polygon points="528.8,450.5 554.0,467.5 552.6,476.6 526.0,475.2" fill="#04080c" stroke="#3b9be6" stroke-width="2.6" stroke-linejoin="round"/>
<path d="M554.0,468.0 L603.0,470.2 Q606.5,471.5 603.0,472.8 L554.0,472.8" fill="none" stroke="#b8b4a8" stroke-width="1.2"/>
<circle cx="553.1" cy="470.6" r="1.9" fill="none" stroke="#3b9be6" stroke-width="1.4"/>
<circle cx="552.6" cy="475.1" r="1.9" fill="none" stroke="#3b9be6" stroke-width="1.4"/>
<polygon points="747.2,449.5 767.5,464.5 765.4,473.1 741.6,471.0" fill="#04080c" stroke="#3b9be6" stroke-width="2.6" stroke-linejoin="round"/>
<path d="M766.8,466.1 L816.0,467.6 Q819.5,469.1 816.0,470.5 L766.8,470.5" fill="none" stroke="#b8b4a8" stroke-width="1.2"/>
<circle cx="765.9" cy="467.1" r="1.9" fill="none" stroke="#3b9be6" stroke-width="1.4"/>
<circle cx="765.4" cy="471.6" r="1.9" fill="none" stroke="#3b9be6" stroke-width="1.4"/>
<polygon points="910.4,455.5 931.8,469.5 930.0,478.0 906.2,476.6" fill="#04080c" stroke="#3b9be6" stroke-width="2.6" stroke-linejoin="round"/>
<path d="M931.4,470.3 L980.5,471.8 Q984.0,473.2 980.5,474.6 L931.4,474.6" fill="none" stroke="#b8b4a8" stroke-width="1.2"/>
<circle cx="930.5" cy="472.0" r="1.9" fill="none" stroke="#3b9be6" stroke-width="1.4"/>
<circle cx="930.0" cy="476.5" r="1.9" fill="none" stroke="#3b9be6" stroke-width="1.4"/>
<path d="M310.5,449.0 L286.5,430.5 Q283.5,434.5 288.5,436.0 L309.5,451.0" fill="none" stroke="#a8a498" stroke-width="1" stroke-opacity="0.9"/>
<path d="M529.0,453.5 L505.7,437.5 Q502.7,441.5 507.7,443.0 L528.0,455.5" fill="none" stroke="#a8a498" stroke-width="1" stroke-opacity="0.9"/>
<path d="M747.0,451.0 L724.8,431.5 Q721.8,435.5 726.8,437.0 L746.0,453.0" fill="none" stroke="#a8a498" stroke-width="1" stroke-opacity="0.9"/>
<path d="M910.5,457.5 L888.0,438.5 Q885.0,442.5 890.0,444.0 L909.5,459.5" fill="none" stroke="#a8a498" stroke-width="1" stroke-opacity="0.9"/>
<text x="161.2" y="488.0" font-size="11" font-weight="bold" fill="#fff" text-anchor="middle" >1 cm</text>
<rect x="152" y="490.6" width="18.30000000000001" height="2" fill="#fff"/>
<text x="375.0" y="489.3" font-size="11" font-weight="bold" fill="#fff" text-anchor="middle" >1 cm</text>
<rect x="366" y="493.3" width="18" height="2" fill="#fff"/>
<text x="591.0" y="484.9" font-size="11" font-weight="bold" fill="#fff" text-anchor="middle" >1 cm</text>
<rect x="580.5" y="488.5" width="21.0" height="2" fill="#fff"/>
<text x="815.2" y="485.0" font-size="11" font-weight="bold" fill="#fff" text-anchor="middle" >1 cm</text>
<rect x="805" y="489.3" width="20.5" height="2" fill="#fff"/>
<text x="977.2" y="485.7" font-size="11" font-weight="bold" fill="#fff" text-anchor="middle" >1 cm</text>
<rect x="966.5" y="490.9" width="21.5" height="2" fill="#fff"/>
<text x="105.8" y="517.6" font-size="15.0" font-weight="bold" fill="#000" text-anchor="middle" >TA powder</text>
<text x="537.5" y="517.6" font-size="15.3" font-weight="bold" fill="#000" text-anchor="middle" >PolyTA ionogel</text>
<text x="211.0" y="403.3" font-size="12.9" font-weight="bold" fill="#000" text-anchor="middle" >Mix with</text>
<text x="211.0" y="418.6" font-size="12.9" font-weight="bold" fill="#000" text-anchor="middle" >ethanol/</text>
<text x="211.0" y="434.4" font-size="12.9" font-weight="bold" fill="#000" text-anchor="middle" >[EMI][ES]</text>
<polygon points="183,438.8 231,438.8 231,436 242.5,442.1 231,448.2 231,445.4 183,445.4" fill="url(#arrG)"/>
<text x="428.4" y="419.2" font-size="12.7" font-weight="bold" fill="#000" text-anchor="middle" >Autonomous</text>
<text x="428.4" y="433.6" font-size="12.7" font-weight="bold" fill="#000" text-anchor="middle" >ROP</text>
<polygon points="403,438.8 450.5,438.8 450.5,436 462,442.1 450.5,448.2 450.5,445.4 403,445.4" fill="url(#arrG)"/>
<text x="428.4" y="462.4" font-size="12.7" font-weight="bold" fill="#1a1aee" text-anchor="middle" >Room</text>
<text x="428.4" y="476.8" font-size="12.8" font-weight="bold" fill="#1a1aee" text-anchor="middle" >temperature</text>
<text x="651.0" y="433.6" font-size="12.9" font-weight="bold" fill="#000" text-anchor="middle" >Dilute</text>
<text x="653.2" y="462.4" font-size="12.7" font-weight="bold" fill="#000" text-anchor="middle" >with ethanol</text>
<polygon points="616,438.3 674,438.3 674,435.2 687,442.1 674,449 674,445.9 616,445.9" fill="url(#arrGr)"/>
<text x="842.2" y="446.3" font-size="13" font-weight="bold" fill="#000" text-anchor="middle" >or</text>
<rect x="784.5" y="349.3" width="115.7" height="21.7" rx="3.5" fill="#c00000"/>
<text x="842.3" y="365.4" font-size="15.4" font-weight="bold" fill="#fff" text-anchor="middle" >“Ionogel paint”</text>
<text x="744.6" y="397.3" font-size="12.7" font-weight="bold" fill="#fff"><tspan font-style="italic">C</tspan><tspan font-size="8.8" dy="2.6">TA</tspan><tspan dy="-2.6">=0.25 g/mL</tspan></text>
<text x="909.5" y="397.3" font-size="12.7" font-weight="bold" fill="#fff"><tspan font-style="italic">C</tspan><tspan font-size="8.8" dy="2.6">TA</tspan><tspan dy="-2.6">=0.1 g/mL</tspan></text>
<rect x="34.2" y="558.3" width="164.6" height="132.4" fill="none" stroke="#222" stroke-width="1.4"/>
<line x1="41.8" y1="690.7" x2="41.8" y2="693.5" stroke="#222" stroke-width="1.2"/>
<text x="41.8" y="701.8" font-size="9.6" font-weight="normal" fill="#222" text-anchor="middle" >0</text>
<line x1="81.0" y1="690.7" x2="81.0" y2="693.5" stroke="#222" stroke-width="1.2"/>
<text x="81.0" y="701.8" font-size="9.6" font-weight="normal" fill="#222" text-anchor="middle" >50</text>
<line x1="120.2" y1="690.7" x2="120.2" y2="693.5" stroke="#222" stroke-width="1.2"/>
<text x="120.2" y="701.8" font-size="9.6" font-weight="normal" fill="#222" text-anchor="middle" >100</text>
<line x1="159.4" y1="690.7" x2="159.4" y2="693.5" stroke="#222" stroke-width="1.2"/>
<text x="159.4" y="701.8" font-size="9.6" font-weight="normal" fill="#222" text-anchor="middle" >150</text>
<line x1="198.6" y1="690.7" x2="198.6" y2="693.5" stroke="#222" stroke-width="1.2"/>
<text x="198.6" y="701.8" font-size="9.6" font-weight="normal" fill="#222" text-anchor="middle" >200</text>
<line x1="61.4" y1="690.7" x2="61.4" y2="692.3" stroke="#222" stroke-width="1"/>
<line x1="100.6" y1="690.7" x2="100.6" y2="692.3" stroke="#222" stroke-width="1"/>
<line x1="139.8" y1="690.7" x2="139.8" y2="692.3" stroke="#222" stroke-width="1"/>
<line x1="179.0" y1="690.7" x2="179.0" y2="692.3" stroke="#222" stroke-width="1"/>
<line x1="31.5" y1="690.7" x2="34.2" y2="690.7" stroke="#222" stroke-width="1.2"/>
<text x="31" y="694.0" font-size="9" fill="#222" text-anchor="end" letter-spacing="-0.3">10<tspan font-size="6.2" dy="-4">-2</tspan></text>
<line x1="31.5" y1="657.6" x2="34.2" y2="657.6" stroke="#222" stroke-width="1.2"/>
<text x="31" y="660.9" font-size="9" fill="#222" text-anchor="end" letter-spacing="-0.3">10<tspan font-size="6.2" dy="-4">0</tspan></text>
<line x1="31.5" y1="624.5" x2="34.2" y2="624.5" stroke="#222" stroke-width="1.2"/>
<text x="31" y="627.8" font-size="9" fill="#222" text-anchor="end" letter-spacing="-0.3">10<tspan font-size="6.2" dy="-4">2</tspan></text>
<line x1="31.5" y1="591.4" x2="34.2" y2="591.4" stroke="#222" stroke-width="1.2"/>
<text x="31" y="594.7" font-size="9" fill="#222" text-anchor="end" letter-spacing="-0.3">10<tspan font-size="6.2" dy="-4">4</tspan></text>
<line x1="31.5" y1="558.3" x2="34.2" y2="558.3" stroke="#222" stroke-width="1.2"/>
<text x="31" y="561.6" font-size="9" fill="#222" text-anchor="end" letter-spacing="-0.3">10<tspan font-size="6.2" dy="-4">6</tspan></text>
<line x1="32.5" y1="674.2" x2="34.2" y2="674.2" stroke="#222" stroke-width="1"/>
<line x1="32.5" y1="641.0" x2="34.2" y2="641.0" stroke="#222" stroke-width="1"/>
<line x1="32.5" y1="608.0" x2="34.2" y2="608.0" stroke="#222" stroke-width="1"/>
<line x1="32.5" y1="574.8" x2="34.2" y2="574.8" stroke="#222" stroke-width="1"/>
<text x="92.0" y="714.5" font-size="10.75" font-weight="normal" fill="#222" text-anchor="start" >Time (min)</text>
<text transform="translate(12.3,623) rotate(-90)" font-size="10.3" fill="#222" text-anchor="middle">G' G'' (Pa)</text>
<text x="40" y="570.1" font-size="10.4" font-weight="bold" fill="#000"><tspan font-style="italic">C</tspan><tspan font-size="8" dy="2.5">TA</tspan><tspan dy="-2.5"> = 1 g/mL</tspan></text>
<circle cx="174.4" cy="564" r="1.8" fill="#e8141c"/>
<circle cx="174.4" cy="574.5" r="1.7" fill="none" stroke="#e8141c" stroke-width="0.7"/>
<text x="186.5" y="567.5" font-size="10" font-weight="bold" fill="#000" text-anchor="start" >G'</text>
<text x="186.5" y="578.0" font-size="10" font-weight="bold" fill="#000" text-anchor="start" >G''</text>
<circle cx="43.0" cy="653.3" r="2" fill="none" stroke="#e8141c" stroke-width="0.65"/>
<circle cx="43.9" cy="650.9" r="2" fill="none" stroke="#e8141c" stroke-width="0.65"/>
<circle cx="44.9" cy="647.7" r="2" fill="none" stroke="#e8141c" stroke-width="0.65"/>
<circle cx="45.8" cy="644.9" r="2" fill="none" stroke="#e8141c" stroke-width="0.65"/>
<circle cx="46.7" cy="642.6" r="2" fill="none" stroke="#e8141c" stroke-width="0.65"/>
<circle cx="47.7" cy="640.2" r="2" fill="none" stroke="#e8141c" stroke-width="0.65"/>
<circle cx="48.6" cy="637.8" r="2" fill="none" stroke="#e8141c" stroke-width="0.65"/>
<circle cx="49.6" cy="635.4" r="2" fill="none" stroke="#e8141c" stroke-width="0.65"/>
<circle cx="50.5" cy="633.3" r="2" fill="none" stroke="#e8141c" stroke-width="0.65"/>
<circle cx="51.4" cy="631.9" r="2" fill="none" stroke="#e8141c" stroke-width="0.65"/>
<circle cx="52.4" cy="630.5" r="2" fill="none" stroke="#e8141c" stroke-width="0.65"/>
<circle cx="53.3" cy="629.5" r="2" fill="none" stroke="#e8141c" stroke-width="0.65"/>
<circle cx="54.3" cy="628.6" r="2" fill="none" stroke="#e8141c" stroke-width="0.65"/>
<circle cx="55.2" cy="627.7" r="2" fill="none" stroke="#e8141c" stroke-width="0.65"/>
<circle cx="56.1" cy="626.9" r="2" fill="none" stroke="#e8141c" stroke-width="0.65"/>
<circle cx="57.1" cy="626.2" r="2" fill="none" stroke="#e8141c" stroke-width="0.65"/>
<circle cx="58.0" cy="625.5" r="2" fill="none" stroke="#e8141c" stroke-width="0.65"/>
<circle cx="59.0" cy="624.8" r="2" fill="none" stroke="#e8141c" stroke-width="0.65"/>
<circle cx="59.9" cy="624.1" r="2" fill="none" stroke="#e8141c" stroke-width="0.65"/>
<circle cx="60.9" cy="623.5" r="2" fill="none" stroke="#e8141c" stroke-width="0.65"/>
<circle cx="61.8" cy="623.1" r="2" fill="none" stroke="#e8141c" stroke-width="0.65"/>
<circle cx="62.7" cy="622.6" r="2" fill="none" stroke="#e8141c" stroke-width="0.65"/>
<circle cx="63.7" cy="622.1" r="2" fill="none" stroke="#e8141c" stroke-width="0.65"/>
<circle cx="64.6" cy="621.7" r="2" fill="none" stroke="#e8141c" stroke-width="0.65"/>
<circle cx="65.6" cy="621.2" r="2" fill="none" stroke="#e8141c" stroke-width="0.65"/>
<circle cx="66.5" cy="620.7" r="2" fill="none" stroke="#e8141c" stroke-width="0.65"/>
<circle cx="67.4" cy="620.4" r="2" fill="none" stroke="#e8141c" stroke-width="0.65"/>
<circle cx="68.4" cy="620.1" r="2" fill="none" stroke="#e8141c" stroke-width="0.65"/>
<circle cx="69.3" cy="619.8" r="2" fill="none" stroke="#e8141c" stroke-width="0.65"/>
<circle cx="70.3" cy="619.6" r="2" fill="none" stroke="#e8141c" stroke-width="0.65"/>
<circle cx="71.2" cy="619.3" r="2" fill="none" stroke="#e8141c" stroke-width="0.65"/>
<circle cx="72.1" cy="619.0" r="2" fill="none" stroke="#e8141c" stroke-width="0.65"/>
<circle cx="73.1" cy="618.8" r="2" fill="none" stroke="#e8141c" stroke-width="0.65"/>
<circle cx="74.0" cy="618.5" r="2" fill="none" stroke="#e8141c" stroke-width="0.65"/>
<circle cx="75.0" cy="618.2" r="2" fill="none" stroke="#e8141c" stroke-width="0.65"/>
<circle cx="75.9" cy="618.0" r="2" fill="none" stroke="#e8141c" stroke-width="0.65"/>
<circle cx="76.8" cy="617.7" r="2" fill="none" stroke="#e8141c" stroke-width="0.65"/>
<circle cx="77.8" cy="617.5" r="2" fill="none" stroke="#e8141c" stroke-width="0.65"/>
<circle cx="78.7" cy="617.3" r="2" fill="none" stroke="#e8141c" stroke-width="0.65"/>
<circle cx="79.7" cy="617.2" r="2" fill="none" stroke="#e8141c" stroke-width="0.65"/>
<circle cx="80.6" cy="617.0" r="2" fill="none" stroke="#e8141c" stroke-width="0.65"/>
<circle cx="81.5" cy="616.8" r="2" fill="none" stroke="#e8141c" stroke-width="0.65"/>
<circle cx="82.5" cy="616.6" r="2" fill="none" stroke="#e8141c" stroke-width="0.65"/>
<circle cx="83.4" cy="616.4" r="2" fill="none" stroke="#e8141c" stroke-width="0.65"/>
<circle cx="84.4" cy="616.3" r="2" fill="none" stroke="#e8141c" stroke-width="0.65"/>
<circle cx="85.3" cy="616.1" r="2" fill="none" stroke="#e8141c" stroke-width="0.65"/>
<circle cx="86.3" cy="615.9" r="2" fill="none" stroke="#e8141c" stroke-width="0.65"/>
<circle cx="87.2" cy="615.7" r="2" fill="none" stroke="#e8141c" stroke-width="0.65"/>
<circle cx="88.1" cy="615.6" r="2" fill="none" stroke="#e8141c" stroke-width="0.65"/>
<circle cx="89.1" cy="615.4" r="2" fill="none" stroke="#e8141c" stroke-width="0.65"/>
<circle cx="90.0" cy="615.3" r="2" fill="none" stroke="#e8141c" stroke-width="0.65"/>
<circle cx="91.0" cy="615.2" r="2" fill="none" stroke="#e8141c" stroke-width="0.65"/>
<circle cx="91.9" cy="615.0" r="2" fill="none" stroke="#e8141c" stroke-width="0.65"/>
<circle cx="92.8" cy="614.9" r="2" fill="none" stroke="#e8141c" stroke-width="0.65"/>
<circle cx="93.8" cy="614.8" r="2" fill="none" stroke="#e8141c" stroke-width="0.65"/>
<circle cx="94.7" cy="614.6" r="2" fill="none" stroke="#e8141c" stroke-width="0.65"/>
<circle cx="95.7" cy="614.5" r="2" fill="none" stroke="#e8141c" stroke-width="0.65"/>
<circle cx="96.6" cy="614.4" r="2" fill="none" stroke="#e8141c" stroke-width="0.65"/>
<circle cx="97.5" cy="614.2" r="2" fill="none" stroke="#e8141c" stroke-width="0.65"/>
<circle cx="98.5" cy="614.1" r="2" fill="none" stroke="#e8141c" stroke-width="0.65"/>
<circle cx="99.4" cy="614.0" r="2" fill="none" stroke="#e8141c" stroke-width="0.65"/>
<circle cx="100.4" cy="613.8" r="2" fill="none" stroke="#e8141c" stroke-width="0.65"/>
<circle cx="101.3" cy="613.7" r="2" fill="none" stroke="#e8141c" stroke-width="0.65"/>
<circle cx="102.2" cy="613.6" r="2" fill="none" stroke="#e8141c" stroke-width="0.65"/>
<circle cx="103.2" cy="613.4" r="2" fill="none" stroke="#e8141c" stroke-width="0.65"/>
<circle cx="104.1" cy="613.3" r="2" fill="none" stroke="#e8141c" stroke-width="0.65"/>
<circle cx="105.1" cy="613.2" r="2" fill="none" stroke="#e8141c" stroke-width="0.65"/>
<circle cx="106.0" cy="613.1" r="2" fill="none" stroke="#e8141c" stroke-width="0.65"/>
<circle cx="107.0" cy="613.0" r="2" fill="none" stroke="#e8141c" stroke-width="0.65"/>
<circle cx="107.9" cy="613.0" r="2" fill="none" stroke="#e8141c" stroke-width="0.65"/>
<circle cx="108.8" cy="612.9" r="2" fill="none" stroke="#e8141c" stroke-width="0.65"/>
<circle cx="109.8" cy="612.8" r="2" fill="none" stroke="#e8141c" stroke-width="0.65"/>
<circle cx="110.7" cy="612.7" r="2" fill="none" stroke="#e8141c" stroke-width="0.65"/>
<circle cx="111.7" cy="612.6" r="2" fill="none" stroke="#e8141c" stroke-width="0.65"/>
<circle cx="112.6" cy="612.6" r="2" fill="none" stroke="#e8141c" stroke-width="0.65"/>
<circle cx="113.5" cy="612.5" r="2" fill="none" stroke="#e8141c" stroke-width="0.65"/>
<circle cx="114.5" cy="612.4" r="2" fill="none" stroke="#e8141c" stroke-width="0.65"/>
<circle cx="115.4" cy="612.3" r="2" fill="none" stroke="#e8141c" stroke-width="0.65"/>
<circle cx="116.4" cy="612.2" r="2" fill="none" stroke="#e8141c" stroke-width="0.65"/>
<circle cx="117.3" cy="612.1" r="2" fill="none" stroke="#e8141c" stroke-width="0.65"/>
<circle cx="118.2" cy="612.1" r="2" fill="none" stroke="#e8141c" stroke-width="0.65"/>
<circle cx="119.2" cy="612.0" r="2" fill="none" stroke="#e8141c" stroke-width="0.65"/>
<circle cx="120.1" cy="612.0" r="2" fill="none" stroke="#e8141c" stroke-width="0.65"/>
<circle cx="121.1" cy="611.9" r="2" fill="none" stroke="#e8141c" stroke-width="0.65"/>
<circle cx="122.0" cy="611.8" r="2" fill="none" stroke="#e8141c" stroke-width="0.65"/>
<circle cx="122.9" cy="611.8" r="2" fill="none" stroke="#e8141c" stroke-width="0.65"/>
<circle cx="123.9" cy="611.7" r="2" fill="none" stroke="#e8141c" stroke-width="0.65"/>
<circle cx="124.8" cy="611.6" r="2" fill="none" stroke="#e8141c" stroke-width="0.65"/>
<circle cx="125.8" cy="611.6" r="2" fill="none" stroke="#e8141c" stroke-width="0.65"/>
<circle cx="126.7" cy="611.5" r="2" fill="none" stroke="#e8141c" stroke-width="0.65"/>
<circle cx="127.6" cy="611.5" r="2" fill="none" stroke="#e8141c" stroke-width="0.65"/>
<circle cx="128.6" cy="611.4" r="2" fill="none" stroke="#e8141c" stroke-width="0.65"/>
<circle cx="129.5" cy="611.3" r="2" fill="none" stroke="#e8141c" stroke-width="0.65"/>
<circle cx="130.5" cy="611.3" r="2" fill="none" stroke="#e8141c" stroke-width="0.65"/>
<circle cx="131.4" cy="611.2" r="2" fill="none" stroke="#e8141c" stroke-width="0.65"/>
<circle cx="132.4" cy="611.2" r="2" fill="none" stroke="#e8141c" stroke-width="0.65"/>
<circle cx="133.3" cy="611.1" r="2" fill="none" stroke="#e8141c" stroke-width="0.65"/>
<circle cx="134.2" cy="611.0" r="2" fill="none" stroke="#e8141c" stroke-width="0.65"/>
<circle cx="135.2" cy="611.0" r="2" fill="none" stroke="#e8141c" stroke-width="0.65"/>
<circle cx="136.1" cy="610.9" r="2" fill="none" stroke="#e8141c" stroke-width="0.65"/>
<circle cx="137.1" cy="610.9" r="2" fill="none" stroke="#e8141c" stroke-width="0.65"/>
<circle cx="138.0" cy="610.8" r="2" fill="none" stroke="#e8141c" stroke-width="0.65"/>
<circle cx="138.9" cy="610.7" r="2" fill="none" stroke="#e8141c" stroke-width="0.65"/>
<circle cx="139.9" cy="610.7" r="2" fill="none" stroke="#e8141c" stroke-width="0.65"/>
<circle cx="140.8" cy="610.6" r="2" fill="none" stroke="#e8141c" stroke-width="0.65"/>
<circle cx="141.8" cy="610.6" r="2" fill="none" stroke="#e8141c" stroke-width="0.65"/>
<circle cx="142.7" cy="610.5" r="2" fill="none" stroke="#e8141c" stroke-width="0.65"/>
<circle cx="143.6" cy="610.4" r="2" fill="none" stroke="#e8141c" stroke-width="0.65"/>
<circle cx="144.6" cy="610.4" r="2" fill="none" stroke="#e8141c" stroke-width="0.65"/>
<circle cx="145.5" cy="610.4" r="2" fill="none" stroke="#e8141c" stroke-width="0.65"/>
<circle cx="146.5" cy="610.3" r="2" fill="none" stroke="#e8141c" stroke-width="0.65"/>
<circle cx="147.4" cy="610.3" r="2" fill="none" stroke="#e8141c" stroke-width="0.65"/>
<circle cx="148.3" cy="610.2" r="2" fill="none" stroke="#e8141c" stroke-width="0.65"/>
<circle cx="149.3" cy="610.2" r="2" fill="none" stroke="#e8141c" stroke-width="0.65"/>
<circle cx="150.2" cy="610.2" r="2" fill="none" stroke="#e8141c" stroke-width="0.65"/>
<circle cx="151.2" cy="610.1" r="2" fill="none" stroke="#e8141c" stroke-width="0.65"/>
<circle cx="152.1" cy="610.1" r="2" fill="none" stroke="#e8141c" stroke-width="0.65"/>
<circle cx="153.0" cy="610.1" r="2" fill="none" stroke="#e8141c" stroke-width="0.65"/>
<circle cx="154.0" cy="610.0" r="2" fill="none" stroke="#e8141c" stroke-width="0.65"/>
<circle cx="154.9" cy="610.0" r="2" fill="none" stroke="#e8141c" stroke-width="0.65"/>
<circle cx="155.9" cy="609.9" r="2" fill="none" stroke="#e8141c" stroke-width="0.65"/>
<circle cx="156.8" cy="609.9" r="2" fill="none" stroke="#e8141c" stroke-width="0.65"/>
<circle cx="157.8" cy="609.9" r="2" fill="none" stroke="#e8141c" stroke-width="0.65"/>
<circle cx="158.7" cy="609.8" r="2" fill="none" stroke="#e8141c" stroke-width="0.65"/>
<circle cx="159.6" cy="609.8" r="2" fill="none" stroke="#e8141c" stroke-width="0.65"/>
<circle cx="160.6" cy="609.8" r="2" fill="none" stroke="#e8141c" stroke-width="0.65"/>
<circle cx="161.5" cy="609.7" r="2" fill="none" stroke="#e8141c" stroke-width="0.65"/>
<circle cx="162.5" cy="609.7" r="2" fill="none" stroke="#e8141c" stroke-width="0.65"/>
<circle cx="163.4" cy="609.6" r="2" fill="none" stroke="#e8141c" stroke-width="0.65"/>
<circle cx="164.3" cy="609.6" r="2" fill="none" stroke="#e8141c" stroke-width="0.65"/>
<circle cx="165.3" cy="609.6" r="2" fill="none" stroke="#e8141c" stroke-width="0.65"/>
<circle cx="166.2" cy="609.5" r="2" fill="none" stroke="#e8141c" stroke-width="0.65"/>
<circle cx="167.2" cy="609.5" r="2" fill="none" stroke="#e8141c" stroke-width="0.65"/>
<circle cx="168.1" cy="609.4" r="2" fill="none" stroke="#e8141c" stroke-width="0.65"/>
<circle cx="169.0" cy="609.4" r="2" fill="none" stroke="#e8141c" stroke-width="0.65"/>
<circle cx="170.0" cy="609.4" r="2" fill="none" stroke="#e8141c" stroke-width="0.65"/>
<circle cx="170.9" cy="609.3" r="2" fill="none" stroke="#e8141c" stroke-width="0.65"/>
<circle cx="171.9" cy="609.3" r="2" fill="none" stroke="#e8141c" stroke-width="0.65"/>
<circle cx="172.8" cy="609.3" r="2" fill="none" stroke="#e8141c" stroke-width="0.65"/>
<circle cx="173.7" cy="609.2" r="2" fill="none" stroke="#e8141c" stroke-width="0.65"/>
<circle cx="174.7" cy="609.2" r="2" fill="none" stroke="#e8141c" stroke-width="0.65"/>
<circle cx="175.6" cy="609.1" r="2" fill="none" stroke="#e8141c" stroke-width="0.65"/>
<circle cx="176.6" cy="609.1" r="2" fill="none" stroke="#e8141c" stroke-width="0.65"/>
<circle cx="177.5" cy="609.1" r="2" fill="none" stroke="#e8141c" stroke-width="0.65"/>
<circle cx="178.5" cy="609.0" r="2" fill="none" stroke="#e8141c" stroke-width="0.65"/>
<circle cx="179.4" cy="609.0" r="2" fill="none" stroke="#e8141c" stroke-width="0.65"/>
<circle cx="180.3" cy="609.0" r="2" fill="none" stroke="#e8141c" stroke-width="0.65"/>
<circle cx="43.0" cy="660.4" r="2.1" fill="#e8141c"/>
<circle cx="43.9" cy="653.0" r="2.1" fill="#e8141c"/>
<circle cx="44.9" cy="647.3" r="2.1" fill="#e8141c"/>
<circle cx="45.8" cy="642.0" r="2.1" fill="#e8141c"/>
<circle cx="46.7" cy="638.3" r="2.1" fill="#e8141c"/>
<circle cx="47.7" cy="636.1" r="2.1" fill="#e8141c"/>
<circle cx="48.6" cy="633.2" r="2.1" fill="#e8141c"/>
<circle cx="49.6" cy="630.5" r="2.1" fill="#e8141c"/>
<circle cx="50.5" cy="628.4" r="2.1" fill="#e8141c"/>
<circle cx="51.4" cy="626.1" r="2.1" fill="#e8141c"/>
<circle cx="52.4" cy="623.8" r="2.1" fill="#e8141c"/>
<circle cx="53.3" cy="622.2" r="2.1" fill="#e8141c"/>
<circle cx="54.3" cy="620.6" r="2.1" fill="#e8141c"/>
<circle cx="55.2" cy="619.3" r="2.1" fill="#e8141c"/>
<circle cx="56.1" cy="618.2" r="2.1" fill="#e8141c"/>
<circle cx="57.1" cy="617.1" r="2.1" fill="#e8141c"/>
<circle cx="58.0" cy="616.1" r="2.1" fill="#e8141c"/>
<circle cx="59.0" cy="615.2" r="2.1" fill="#e8141c"/>
<circle cx="59.9" cy="614.4" r="2.1" fill="#e8141c"/>
<circle cx="60.9" cy="613.6" r="2.1" fill="#e8141c"/>
<circle cx="61.8" cy="612.8" r="2.1" fill="#e8141c"/>
<circle cx="62.7" cy="612.1" r="2.1" fill="#e8141c"/>
<circle cx="63.7" cy="611.5" r="2.1" fill="#e8141c"/>
<circle cx="64.6" cy="610.9" r="2.1" fill="#e8141c"/>
<circle cx="65.6" cy="610.4" r="2.1" fill="#e8141c"/>
<circle cx="66.5" cy="609.8" r="2.1" fill="#e8141c"/>
<circle cx="67.4" cy="609.3" r="2.1" fill="#e8141c"/>
<circle cx="68.4" cy="608.7" r="2.1" fill="#e8141c"/>
<circle cx="69.3" cy="608.2" r="2.1" fill="#e8141c"/>
<circle cx="70.3" cy="607.8" r="2.1" fill="#e8141c"/>
<circle cx="71.2" cy="607.5" r="2.1" fill="#e8141c"/>
<circle cx="72.1" cy="607.1" r="2.1" fill="#e8141c"/>
<circle cx="73.1" cy="606.8" r="2.1" fill="#e8141c"/>
<circle cx="74.0" cy="606.5" r="2.1" fill="#e8141c"/>
<circle cx="75.0" cy="606.1" r="2.1" fill="#e8141c"/>
<circle cx="75.9" cy="605.8" r="2.1" fill="#e8141c"/>
<circle cx="76.8" cy="605.4" r="2.1" fill="#e8141c"/>
<circle cx="77.8" cy="605.1" r="2.1" fill="#e8141c"/>
<circle cx="78.7" cy="604.8" r="2.1" fill="#e8141c"/>
<circle cx="79.7" cy="604.6" r="2.1" fill="#e8141c"/>
<circle cx="80.6" cy="604.4" r="2.1" fill="#e8141c"/>
<circle cx="81.5" cy="604.2" r="2.1" fill="#e8141c"/>
<circle cx="82.5" cy="604.0" r="2.1" fill="#e8141c"/>
<circle cx="83.4" cy="603.8" r="2.1" fill="#e8141c"/>
<circle cx="84.4" cy="603.6" r="2.1" fill="#e8141c"/>
<circle cx="85.3" cy="603.4" r="2.1" fill="#e8141c"/>
<circle cx="86.3" cy="603.2" r="2.1" fill="#e8141c"/>
<circle cx="87.2" cy="603.0" r="2.1" fill="#e8141c"/>
<circle cx="88.1" cy="602.8" r="2.1" fill="#e8141c"/>
<circle cx="89.1" cy="602.7" r="2.1" fill="#e8141c"/>
<circle cx="90.0" cy="602.5" r="2.1" fill="#e8141c"/>
<circle cx="91.0" cy="602.4" r="2.1" fill="#e8141c"/>
<circle cx="91.9" cy="602.2" r="2.1" fill="#e8141c"/>
<circle cx="92.8" cy="602.1" r="2.1" fill="#e8141c"/>
<circle cx="93.8" cy="602.0" r="2.1" fill="#e8141c"/>
<circle cx="94.7" cy="601.8" r="2.1" fill="#e8141c"/>
<circle cx="95.7" cy="601.7" r="2.1" fill="#e8141c"/>
<circle cx="96.6" cy="601.5" r="2.1" fill="#e8141c"/>
<circle cx="97.5" cy="601.4" r="2.1" fill="#e8141c"/>
<circle cx="98.5" cy="601.2" r="2.1" fill="#e8141c"/>
<circle cx="99.4" cy="601.1" r="2.1" fill="#e8141c"/>
<circle cx="100.4" cy="601.0" r="2.1" fill="#e8141c"/>
<circle cx="101.3" cy="600.9" r="2.1" fill="#e8141c"/>
<circle cx="102.2" cy="600.8" r="2.1" fill="#e8141c"/>
<circle cx="103.2" cy="600.7" r="2.1" fill="#e8141c"/>
<circle cx="104.1" cy="600.6" r="2.1" fill="#e8141c"/>
<circle cx="105.1" cy="600.5" r="2.1" fill="#e8141c"/>
<circle cx="106.0" cy="600.4" r="2.1" fill="#e8141c"/>
<circle cx="107.0" cy="600.3" r="2.1" fill="#e8141c"/>
<circle cx="107.9" cy="600.2" r="2.1" fill="#e8141c"/>
<circle cx="108.8" cy="600.1" r="2.1" fill="#e8141c"/>
<circle cx="109.8" cy="600.0" r="2.1" fill="#e8141c"/>
<circle cx="110.7" cy="599.9" r="2.1" fill="#e8141c"/>
<circle cx="111.7" cy="599.8" r="2.1" fill="#e8141c"/>
<circle cx="112.6" cy="599.7" r="2.1" fill="#e8141c"/>
<circle cx="113.5" cy="599.6" r="2.1" fill="#e8141c"/>
<circle cx="114.5" cy="599.5" r="2.1" fill="#e8141c"/>
<circle cx="115.4" cy="599.4" r="2.1" fill="#e8141c"/>
<circle cx="116.4" cy="599.4" r="2.1" fill="#e8141c"/>
<circle cx="117.3" cy="599.3" r="2.1" fill="#e8141c"/>
<circle cx="118.2" cy="599.2" r="2.1" fill="#e8141c"/>
<circle cx="119.2" cy="599.1" r="2.1" fill="#e8141c"/>
<circle cx="120.1" cy="599.0" r="2.1" fill="#e8141c"/>
<circle cx="121.1" cy="598.9" r="2.1" fill="#e8141c"/>
<circle cx="122.0" cy="598.9" r="2.1" fill="#e8141c"/>
<circle cx="122.9" cy="598.8" r="2.1" fill="#e8141c"/>
<circle cx="123.9" cy="598.7" r="2.1" fill="#e8141c"/>
<circle cx="124.8" cy="598.7" r="2.1" fill="#e8141c"/>
<circle cx="125.8" cy="598.6" r="2.1" fill="#e8141c"/>
<circle cx="126.7" cy="598.5" r="2.1" fill="#e8141c"/>
<circle cx="127.6" cy="598.4" r="2.1" fill="#e8141c"/>
<circle cx="128.6" cy="598.4" r="2.1" fill="#e8141c"/>
<circle cx="129.5" cy="598.3" r="2.1" fill="#e8141c"/>
<circle cx="130.5" cy="598.2" r="2.1" fill="#e8141c"/>
<circle cx="131.4" cy="598.1" r="2.1" fill="#e8141c"/>
<circle cx="132.4" cy="598.1" r="2.1" fill="#e8141c"/>
<circle cx="133.3" cy="598.0" r="2.1" fill="#e8141c"/>
<circle cx="134.2" cy="597.9" r="2.1" fill="#e8141c"/>
<circle cx="135.2" cy="597.9" r="2.1" fill="#e8141c"/>
<circle cx="136.1" cy="597.8" r="2.1" fill="#e8141c"/>
<circle cx="137.1" cy="597.7" r="2.1" fill="#e8141c"/>
<circle cx="138.0" cy="597.6" r="2.1" fill="#e8141c"/>
<circle cx="138.9" cy="597.6" r="2.1" fill="#e8141c"/>
<circle cx="139.9" cy="597.5" r="2.1" fill="#e8141c"/>
<circle cx="140.8" cy="597.4" r="2.1" fill="#e8141c"/>
<circle cx="141.8" cy="597.3" r="2.1" fill="#e8141c"/>
<circle cx="142.7" cy="597.3" r="2.1" fill="#e8141c"/>
<circle cx="143.6" cy="597.2" r="2.1" fill="#e8141c"/>
<circle cx="144.6" cy="597.1" r="2.1" fill="#e8141c"/>
<circle cx="145.5" cy="597.1" r="2.1" fill="#e8141c"/>
<circle cx="146.5" cy="597.0" r="2.1" fill="#e8141c"/>
<circle cx="147.4" cy="597.0" r="2.1" fill="#e8141c"/>
<circle cx="148.3" cy="596.9" r="2.1" fill="#e8141c"/>
<circle cx="149.3" cy="596.9" r="2.1" fill="#e8141c"/>
<circle cx="150.2" cy="596.8" r="2.1" fill="#e8141c"/>
<circle cx="151.2" cy="596.8" r="2.1" fill="#e8141c"/>
<circle cx="152.1" cy="596.7" r="2.1" fill="#e8141c"/>
<circle cx="153.0" cy="596.7" r="2.1" fill="#e8141c"/>
<circle cx="154.0" cy="596.6" r="2.1" fill="#e8141c"/>
<circle cx="154.9" cy="596.6" r="2.1" fill="#e8141c"/>
<circle cx="155.9" cy="596.5" r="2.1" fill="#e8141c"/>
<circle cx="156.8" cy="596.5" r="2.1" fill="#e8141c"/>
<circle cx="157.8" cy="596.4" r="2.1" fill="#e8141c"/>
<circle cx="158.7" cy="596.4" r="2.1" fill="#e8141c"/>
<circle cx="159.6" cy="596.3" r="2.1" fill="#e8141c"/>
<circle cx="160.6" cy="596.3" r="2.1" fill="#e8141c"/>
<circle cx="161.5" cy="596.2" r="2.1" fill="#e8141c"/>
<circle cx="162.5" cy="596.2" r="2.1" fill="#e8141c"/>
<circle cx="163.4" cy="596.1" r="2.1" fill="#e8141c"/>
<circle cx="164.3" cy="596.1" r="2.1" fill="#e8141c"/>
<circle cx="165.3" cy="596.0" r="2.1" fill="#e8141c"/>
<circle cx="166.2" cy="596.0" r="2.1" fill="#e8141c"/>
<circle cx="167.2" cy="595.9" r="2.1" fill="#e8141c"/>
<circle cx="168.1" cy="595.9" r="2.1" fill="#e8141c"/>
<circle cx="169.0" cy="595.8" r="2.1" fill="#e8141c"/>
<circle cx="170.0" cy="595.8" r="2.1" fill="#e8141c"/>
<circle cx="170.9" cy="595.7" r="2.1" fill="#e8141c"/>
<circle cx="171.9" cy="595.7" r="2.1" fill="#e8141c"/>
<circle cx="172.8" cy="595.6" r="2.1" fill="#e8141c"/>
<circle cx="173.7" cy="595.6" r="2.1" fill="#e8141c"/>
<circle cx="174.7" cy="595.5" r="2.1" fill="#e8141c"/>
<circle cx="175.6" cy="595.5" r="2.1" fill="#e8141c"/>
<circle cx="176.6" cy="595.4" r="2.1" fill="#e8141c"/>
<circle cx="177.5" cy="595.4" r="2.1" fill="#e8141c"/>
<circle cx="178.5" cy="595.3" r="2.1" fill="#e8141c"/>
<circle cx="179.4" cy="595.3" r="2.1" fill="#e8141c"/>
<circle cx="180.3" cy="595.2" r="2.1" fill="#e8141c"/>
<rect x="112.5" y="621.7" width="65.7" height="52.8" fill="#fff" stroke="#8a8a8a" stroke-width="1.2"/>
<text x="112.5" y="683.3" font-size="9.5" font-weight="bold" fill="#111" text-anchor="middle" >0</text>
<text x="128.9" y="683.3" font-size="9.5" font-weight="bold" fill="#111" text-anchor="middle" >5</text>
<text x="145.3" y="683.3" font-size="9.5" font-weight="bold" fill="#111" text-anchor="middle" >10</text>
<text x="161.8" y="683.3" font-size="9.5" font-weight="bold" fill="#111" text-anchor="middle" >15</text>
<text x="178.2" y="683.3" font-size="9.5" font-weight="bold" fill="#111" text-anchor="middle" >20</text>
<text x="110.8" y="678.0" font-size="9.5" font-weight="bold" fill="#111" text-anchor="end">10<tspan font-size="6.5" dy="-4">-2</tspan></text>
<text x="110.8" y="656.4" font-size="9.5" font-weight="bold" fill="#111" text-anchor="end">10<tspan font-size="6.5" dy="-4">0</tspan></text>
<text x="110.8" y="634.8" font-size="9.5" font-weight="bold" fill="#111" text-anchor="end">10<tspan font-size="6.5" dy="-4">2</tspan></text>
<circle cx="115.8" cy="650.6" r="1.9" fill="none" stroke="#e8141c" stroke-width="0.8"/>
<circle cx="119.1" cy="648.6" r="1.9" fill="none" stroke="#e8141c" stroke-width="0.8"/>
<circle cx="122.4" cy="646.4" r="1.9" fill="none" stroke="#e8141c" stroke-width="0.8"/>
<circle cx="125.6" cy="644.3" r="1.9" fill="none" stroke="#e8141c" stroke-width="0.8"/>
<circle cx="128.9" cy="642.9" r="1.9" fill="none" stroke="#e8141c" stroke-width="0.8"/>
<circle cx="132.2" cy="641.6" r="1.9" fill="none" stroke="#e8141c" stroke-width="0.8"/>
<circle cx="135.5" cy="640.8" r="1.9" fill="none" stroke="#e8141c" stroke-width="0.8"/>
<circle cx="138.8" cy="639.9" r="1.9" fill="none" stroke="#e8141c" stroke-width="0.8"/>
<circle cx="142.1" cy="639.1" r="1.9" fill="none" stroke="#e8141c" stroke-width="0.8"/>
<circle cx="145.3" cy="638.3" r="1.9" fill="none" stroke="#e8141c" stroke-width="0.8"/>
<circle cx="148.6" cy="637.9" r="1.9" fill="none" stroke="#e8141c" stroke-width="0.8"/>
<circle cx="151.9" cy="637.5" r="1.9" fill="none" stroke="#e8141c" stroke-width="0.8"/>
<circle cx="155.2" cy="637.2" r="1.9" fill="none" stroke="#e8141c" stroke-width="0.8"/>
<circle cx="158.5" cy="636.8" r="1.9" fill="none" stroke="#e8141c" stroke-width="0.8"/>
<circle cx="161.8" cy="636.4" r="1.9" fill="none" stroke="#e8141c" stroke-width="0.8"/>
<circle cx="165.1" cy="636.1" r="1.9" fill="none" stroke="#e8141c" stroke-width="0.8"/>
<circle cx="168.3" cy="635.8" r="1.9" fill="none" stroke="#e8141c" stroke-width="0.8"/>
<circle cx="171.6" cy="635.5" r="1.9" fill="none" stroke="#e8141c" stroke-width="0.8"/>
<circle cx="174.9" cy="635.3" r="1.9" fill="none" stroke="#e8141c" stroke-width="0.8"/>
<circle cx="178.2" cy="635.0" r="1.9" fill="none" stroke="#e8141c" stroke-width="0.8"/>
<circle cx="115.8" cy="655.0" r="2" fill="#e8141c"/>
<circle cx="119.1" cy="651.2" r="2" fill="#e8141c"/>
<circle cx="122.4" cy="647.4" r="2" fill="#e8141c"/>
<circle cx="125.6" cy="643.7" r="2" fill="#e8141c"/>
<circle cx="128.9" cy="641.3" r="2" fill="#e8141c"/>
<circle cx="132.2" cy="638.9" r="2" fill="#e8141c"/>
<circle cx="135.5" cy="637.6" r="2" fill="#e8141c"/>
<circle cx="138.8" cy="636.4" r="2" fill="#e8141c"/>
<circle cx="142.1" cy="635.2" r="2" fill="#e8141c"/>
<circle cx="145.3" cy="634.0" r="2" fill="#e8141c"/>
<circle cx="148.6" cy="633.4" r="2" fill="#e8141c"/>
<circle cx="151.9" cy="632.7" r="2" fill="#e8141c"/>
<circle cx="155.2" cy="632.1" r="2" fill="#e8141c"/>
<circle cx="158.5" cy="631.4" r="2" fill="#e8141c"/>
<circle cx="161.8" cy="630.8" r="2" fill="#e8141c"/>
<circle cx="165.1" cy="630.3" r="2" fill="#e8141c"/>
<circle cx="168.3" cy="629.8" r="2" fill="#e8141c"/>
<circle cx="171.6" cy="629.3" r="2" fill="#e8141c"/>
<circle cx="174.9" cy="628.9" r="2" fill="#e8141c"/>
<circle cx="178.2" cy="628.4" r="2" fill="#e8141c"/>
<line x1="131.6" y1="655.5" x2="126.6" y2="650" stroke="#000" stroke-width="0.9"/>
<text x="132.4" y="661.8" font-size="11.3" font-weight="bold" fill="#000" text-anchor="start" >~4 min</text>
<defs>
<linearGradient id="skyE" x1="0" y1="0" x2="0" y2="1"><stop offset="0" stop-color="#62b4e0"/><stop offset="1" stop-color="#88c8e4"/></linearGradient>
<linearGradient id="petW" x1="0" y1="0" x2="0" y2="1"><stop offset="0" stop-color="#d85a8a"/><stop offset="0.35" stop-color="#ead6e0"/><stop offset="1" stop-color="#f2eef0"/></linearGradient>
<linearGradient id="petC" x1="0" y1="0" x2="0" y2="1"><stop offset="0" stop-color="#c87888"/><stop offset="0.1" stop-color="#e0d0b0"/><stop offset="0.3" stop-color="#eae8c4"/><stop offset="1" stop-color="#dcd8a8"/></linearGradient>
<linearGradient id="petL" x1="0" y1="0" x2="1" y2="0.3"><stop offset="0" stop-color="#d05888"/><stop offset="0.25" stop-color="#e4c8d8"/><stop offset="0.5" stop-color="#ece4ec"/><stop offset="1" stop-color="#d8d0d8"/></linearGradient>
<linearGradient id="petR" x1="0.5" y1="0" x2="0.3" y2="1"><stop offset="0" stop-color="#d870a8"/><stop offset="0.3" stop-color="#ecd8e6"/><stop offset="1" stop-color="#eee8ec"/></linearGradient>
<linearGradient id="petF" x1="0" y1="0" x2="1" y2="0"><stop offset="0" stop-color="#d85888"/><stop offset="0.35" stop-color="#c05078"/><stop offset="0.6" stop-color="#a83a68"/><stop offset="1" stop-color="#e0c8d4"/></linearGradient>
<radialGradient id="cloud"><stop offset="0" stop-color="#f4f8fa"/><stop offset="0.6" stop-color="#e0eef6" stop-opacity="0.8"/><stop offset="1" stop-color="#c8e4f4" stop-opacity="0"/></radialGradient>
<filter id="noiseE" x="0" y="0" width="100%" height="100%"><feTurbulence type="fractalNoise" baseFrequency="0.9" numOctaves="1" seed="3" result="n"/><feColorMatrix in="n" type="matrix" values="0 0 0 0 0.5  0 0 0 0 0.5  0 0 0 0 0.5  0 0 0 0.12 0"/><feComposite in2="SourceGraphic" operator="in"/></filter>
<clipPath id="clipE"><rect x="226.2" y="559.2" width="160.3" height="142.5"/></clipPath>
</defs>
<g clip-path="url(#clipE)">
<rect x="226.2" y="559.2" width="160.3" height="142.5" fill="url(#skyE)"/>
<ellipse cx="230" cy="610" rx="17" ry="36" fill="url(#cloud)"/>
<ellipse cx="252" cy="636" rx="17" ry="11" fill="url(#cloud)" opacity="0.85"/>
<path d="M226,663.8 Q236,668 242.4,676.9 Q252,686 263.7,691.7 Q272,696 280.1,702 L226,702 Z" fill="#68a850"/>
<path d="M368.7,640.8 Q376,641 380.1,644.1 Q385,648 387,653 L387,702 L331,702 Q340,680 352,665 Q362,648 368.7,640.8 Z" fill="#5e9e34"/>
<path d="M265,660 L340,652 L362,678 L340,702 L272,702 Z" fill="#ddd4dc"/>
<rect x="263.7" y="583.1" width="89.5" height="83.2" fill="#86cebe" fill-opacity="0.9"/>
<path d="M366.2,609.7 Q356,612 350.6,617.9 Q344,624 344.1,631 Q340,645 339.1,655.6 Q336,670 332.6,681.8 Q338,684 344.1,681.8 Q352,676 358.8,668.7 Q366,660 367,652.3 Q369,640 368.7,631 Q368,618 366.2,609.7 Z" fill="url(#petR)"/>
<path d="M334.2,608 Q331,612 329.3,619.5 Q328,632 334.2,644.1 Q343,632 342.4,622.8 Q338,613 334.2,608 Z" fill="#e0dcac"/>
<path d="M256.3,626.9 Q262,627 268.6,629.4 Q277,632 285,637.6 Q291,646 294.9,655.6 Q297,660 298.2,665.4 L265.4,662.2 Q260,654 258.8,644.1 Q256,636 256.3,626.9 Z" fill="#e0dab8"/>
<path d="M256.3,626.9 Q262,627 266,629 L262,640 Q258,636 256.3,626.9 Z" fill="#c87898" opacity="0.8"/>
<path d="M306.4,601.5 Q298,607 294.9,616.2 Q289,625 288.3,635.9 Q287,648 290.8,655.6 Q294,661 298.2,663.8 L334.2,658.9 Q336,650 335.9,644.1 Q335,635 331,627.7 Q325,617 317.8,611.3 Q312,604 306.4,601.5 Z" fill="url(#petC)"/>
<path d="M230.9,662.2 Q236,659 242.4,657.2 Q250,655 258.8,655.6 Q272,657 283.4,660.5 Q292,663 298.2,667 Q290,685 281.8,698.2 Q274,696 267,691.7 Q258,686 250.6,678.6 Q242,673 235.8,667 Z" fill="url(#petL)"/>
<path d="M381.8,666.3 Q374,669 365.4,672 Q354,676 344.1,681.8 Q336,686 331,691.7 L334.2,695 Q346,694 357.2,690 Q367,685 373.6,678.6 Q378,673 381.8,666.3 Z" fill="#e6d8e0"/>
<path d="M381.8,666.3 Q374,669 368,671 Q372,676 373.6,678.6 Q378,673 381.8,666.3 Z" fill="#d070a0"/>
<path d="M281.8,688.4 Q286,681 291.6,675.3 Q297,670 303.1,667 Q309,662 314.6,658.9 Q320,658 324.4,660.5 Q328,664 329.3,668.7 Q331,675 331,681.8 Q330,689 326,694.9 Q318,702 308,702 Q300,701 294.9,698.2 Q287,694 281.8,688.4 Z" fill="url(#petF)"/>
<rect x="323" y="695" width="5" height="8" fill="#2a5a20"/>
<rect x="263.7" y="583.1" width="89.5" height="83.2" fill="#b0e0c0" fill-opacity="0.12" stroke="#b8e0d0" stroke-width="0.8" stroke-dasharray="1 1"/>
<line x1="263.7" y1="666.3" x2="353.2" y2="666.3" stroke="#5a7a60" stroke-width="1.2" stroke-opacity="0.6"/>
<rect x="226.2" y="559.2" width="160.3" height="142.5" fill="#000" filter="url(#noiseE)"/>
</g>
<text x="365.5" y="691.3" font-size="12" font-weight="bold" fill="#fff" text-anchor="middle" >1 cm</text>
<rect x="348" y="696" width="37.5" height="3" fill="#fff"/>
<defs>
<linearGradient id="cbar" x1="0" y1="1" x2="0" y2="0">
<stop offset="0" stop-color="#0a0520"/><stop offset="0.15" stop-color="#2a0a5a"/><stop offset="0.3" stop-color="#5a1070"/>
<stop offset="0.42" stop-color="#8a2060"/><stop offset="0.52" stop-color="#b84a28"/><stop offset="0.65" stop-color="#c87810"/>
<stop offset="0.8" stop-color="#dcc028"/><stop offset="0.92" stop-color="#eaea70"/><stop offset="1" stop-color="#fafae0"/></linearGradient>
<filter id="afm" x="0" y="0" width="100%" height="100%" color-interpolation-filters="sRGB">
<feTurbulence type="fractalNoise" baseFrequency="0.5 0.85" numOctaves="2" seed="7" result="t1"/>
<feTurbulence type="fractalNoise" baseFrequency="0.025 0.9" numOctaves="1" seed="4" result="t2"/>
<feComposite in="t1" in2="t2" operator="arithmetic" k1="0" k2="0.75" k3="0.4" k4="0.0" result="t"/>
<feColorMatrix in="t" type="matrix" values="1.9 0 0 0 -0.42  1.9 0 0 0 -0.42  1.9 0 0 0 -0.42  0 0 0 0 1" result="g"/>
<feComponentTransfer in="g">
<feFuncR type="table" tableValues="0.22 0.38 0.52 0.68 0.76 0.86 0.94"/>
<feFuncG type="table" tableValues="0.07 0.12 0.20 0.34 0.48 0.66 0.82"/>
<feFuncB type="table" tableValues="0.30 0.42 0.36 0.20 0.08 0.12 0.30"/>
</feComponentTransfer>
</filter>
</defs>
<rect x="407" y="558.2" width="144" height="143.6" fill="#b06a30" filter="url(#afm)"/>
<rect x="554.5" y="576.5" width="19.3" height="121.4" fill="url(#cbar)" stroke="#777" stroke-width="0.8"/>
<text x="564.0" y="574.5" font-size="7" font-weight="normal" fill="#444" text-anchor="middle" >pm</text>
<text x="564.0" y="584.5" font-size="7" font-weight="normal" fill="#444" text-anchor="middle" >550</text>
<text x="564.0" y="641.0" font-size="7" font-weight="normal" fill="#eee" text-anchor="middle" >0.00</text>
<text x="564.0" y="696.0" font-size="7" font-weight="normal" fill="#ddd" text-anchor="middle" >-550</text>
<rect x="510" y="685" width="41" height="16.8" fill="#fff"/>
<text x="531.0" y="695.8" font-size="11.5" font-weight="bold" fill="#000" text-anchor="middle" >100 nm</text>
<rect x="517.4" y="698" width="28.6" height="2.6" fill="#000"/>
<defs>
<linearGradient id="bgG" x1="0" y1="0" x2="0" y2="1"><stop offset="0" stop-color="#000"/><stop offset="1" stop-color="#8c8c8c"/></linearGradient>
<clipPath id="clipG"><rect x="594.2" y="558.1" width="170.2" height="143.6"/></clipPath>
</defs>
<rect x="594.2" y="558.1" width="170.2" height="143.6" fill="url(#bgG)"/>
<g clip-path="url(#clipG)">
<line x1="636.1" y1="647.8" x2="639.0" y2="649.8" stroke="#a8a8a8" stroke-width="1.5" stroke-linecap="round"/>
<line x1="636.1" y1="647.8" x2="635.9" y2="651.3" stroke="#f0f0f0" stroke-width="1.5" stroke-linecap="round"/>
<line x1="636.1" y1="647.8" x2="633.2" y2="647.0" stroke="#f0f0f0" stroke-width="1.5" stroke-linecap="round"/>
<line x1="636.1" y1="647.8" x2="637.7" y2="645.5" stroke="#f0f0f0" stroke-width="1.5" stroke-linecap="round"/>
<line x1="712.0" y1="624.7" x2="714.9" y2="623.9" stroke="#a8a8a8" stroke-width="1.5" stroke-linecap="round"/>
<line x1="712.0" y1="624.7" x2="712.4" y2="628.1" stroke="#f0f0f0" stroke-width="1.5" stroke-linecap="round"/>
<line x1="712.0" y1="624.7" x2="709.5" y2="625.6" stroke="#f0f0f0" stroke-width="1.5" stroke-linecap="round"/>
<line x1="712.0" y1="624.7" x2="711.1" y2="621.8" stroke="#f0f0f0" stroke-width="1.5" stroke-linecap="round"/>
<line x1="632.5" y1="636.3" x2="635.4" y2="637.3" stroke="#e0e0e0" stroke-width="1.5" stroke-linecap="round"/>
<line x1="632.5" y1="636.3" x2="629.6" y2="635.8" stroke="#e0e0e0" stroke-width="1.5" stroke-linecap="round"/>
<line x1="632.5" y1="636.3" x2="634.7" y2="638.4" stroke="#e0e0e0" stroke-width="1.5" stroke-linecap="round"/>
<circle cx="632.5" cy="636.3" r="1.2" fill="#2040e0"/>
<line x1="694.3" y1="666.5" x2="692.9" y2="664.1" stroke="#a8a8a8" stroke-width="1.5" stroke-linecap="round"/>
<line x1="694.3" y1="666.5" x2="697.0" y2="665.1" stroke="#f0f0f0" stroke-width="1.5" stroke-linecap="round"/>
<line x1="694.3" y1="666.5" x2="695.4" y2="669.4" stroke="#f0f0f0" stroke-width="1.5" stroke-linecap="round"/>
<line x1="694.3" y1="666.5" x2="690.9" y2="667.2" stroke="#f0f0f0" stroke-width="1.5" stroke-linecap="round"/>
<line x1="636.4" y1="604.5" x2="637.5" y2="607.8" stroke="#a8a8a8" stroke-width="1.5" stroke-linecap="round"/>
<line x1="636.4" y1="604.5" x2="633.2" y2="604.2" stroke="#f0f0f0" stroke-width="1.5" stroke-linecap="round"/>
<line x1="636.4" y1="604.5" x2="636.0" y2="601.7" stroke="#f0f0f0" stroke-width="1.5" stroke-linecap="round"/>
<line x1="636.4" y1="604.5" x2="639.5" y2="604.6" stroke="#f0f0f0" stroke-width="1.5" stroke-linecap="round"/>
<line x1="702.1" y1="650.3" x2="700.7" y2="648.0" stroke="#a8a8a8" stroke-width="1.5" stroke-linecap="round"/>
<line x1="702.1" y1="650.3" x2="704.4" y2="647.5" stroke="#f0f0f0" stroke-width="1.5" stroke-linecap="round"/>
<line x1="702.1" y1="650.3" x2="703.8" y2="653.4" stroke="#f0f0f0" stroke-width="1.5" stroke-linecap="round"/>
<line x1="702.1" y1="650.3" x2="700.8" y2="652.5" stroke="#f0f0f0" stroke-width="1.5" stroke-linecap="round"/>
<line x1="730.5" y1="663.5" x2="727.8" y2="664.8" stroke="#e0e0e0" stroke-width="1.5" stroke-linecap="round"/>
<line x1="730.5" y1="663.5" x2="728.3" y2="661.4" stroke="#e0e0e0" stroke-width="1.5" stroke-linecap="round"/>
<line x1="730.5" y1="663.5" x2="732.9" y2="665.3" stroke="#e0e0e0" stroke-width="1.5" stroke-linecap="round"/>
<circle cx="730.5" cy="663.5" r="1.2" fill="#2040e0"/>
<line x1="674.5" y1="630.9" x2="677.7" y2="631.6" stroke="#a8a8a8" stroke-width="1.5" stroke-linecap="round"/>
<line x1="674.5" y1="630.9" x2="673.0" y2="633.7" stroke="#f0f0f0" stroke-width="1.5" stroke-linecap="round"/>
<line x1="674.5" y1="630.9" x2="671.7" y2="629.8" stroke="#f0f0f0" stroke-width="1.5" stroke-linecap="round"/>
<line x1="674.5" y1="630.9" x2="675.3" y2="628.1" stroke="#f0f0f0" stroke-width="1.5" stroke-linecap="round"/>
<line x1="651.2" y1="608.5" x2="651.9" y2="606.0" stroke="#a8a8a8" stroke-width="1.5" stroke-linecap="round"/>
<line x1="651.2" y1="608.5" x2="653.5" y2="610.6" stroke="#f0f0f0" stroke-width="1.5" stroke-linecap="round"/>
<line x1="651.2" y1="608.5" x2="649.4" y2="610.6" stroke="#f0f0f0" stroke-width="1.5" stroke-linecap="round"/>
<line x1="651.2" y1="608.5" x2="648.7" y2="607.1" stroke="#f0f0f0" stroke-width="1.5" stroke-linecap="round"/>
<line x1="681.3" y1="641.8" x2="678.6" y2="644.2" stroke="#a8a8a8" stroke-width="1.5" stroke-linecap="round"/>
<line x1="681.3" y1="641.8" x2="678.8" y2="639.9" stroke="#f0f0f0" stroke-width="1.5" stroke-linecap="round"/>
<line x1="681.3" y1="641.8" x2="684.0" y2="639.6" stroke="#f0f0f0" stroke-width="1.5" stroke-linecap="round"/>
<line x1="681.3" y1="641.8" x2="683.5" y2="643.6" stroke="#f0f0f0" stroke-width="1.5" stroke-linecap="round"/>
<line x1="666.2" y1="636.4" x2="668.3" y2="634.3" stroke="#e81010" stroke-width="1.6" stroke-linecap="round"/>
<line x1="666.2" y1="636.4" x2="668.8" y2="637.8" stroke="#e81010" stroke-width="1.6" stroke-linecap="round"/>
<line x1="666.2" y1="636.4" x2="668.8" y2="637.9" stroke="#e81010" stroke-width="1.6" stroke-linecap="round"/>
<line x1="666.2" y1="636.4" x2="663.4" y2="635.2" stroke="#e81010" stroke-width="1.6" stroke-linecap="round"/>
<circle cx="666.2" cy="636.4" r="1.2" fill="#e8d800"/>
<line x1="687.3" y1="655.9" x2="685.7" y2="653.0" stroke="#a8a8a8" stroke-width="1.5" stroke-linecap="round"/>
<line x1="687.3" y1="655.9" x2="689.5" y2="654.3" stroke="#f0f0f0" stroke-width="1.5" stroke-linecap="round"/>
<line x1="687.3" y1="655.9" x2="688.1" y2="658.4" stroke="#f0f0f0" stroke-width="1.5" stroke-linecap="round"/>
<line x1="687.3" y1="655.9" x2="684.5" y2="657.6" stroke="#f0f0f0" stroke-width="1.5" stroke-linecap="round"/>
<line x1="715.5" y1="643.4" x2="715.5" y2="646.3" stroke="#a8a8a8" stroke-width="1.5" stroke-linecap="round"/>
<line x1="715.5" y1="643.4" x2="712.8" y2="642.5" stroke="#f0f0f0" stroke-width="1.5" stroke-linecap="round"/>
<line x1="715.5" y1="643.4" x2="715.4" y2="640.2" stroke="#f0f0f0" stroke-width="1.5" stroke-linecap="round"/>
<line x1="715.5" y1="643.4" x2="718.9" y2="644.3" stroke="#f0f0f0" stroke-width="1.5" stroke-linecap="round"/>
<line x1="616.8" y1="656.2" x2="619.6" y2="654.3" stroke="#a8a8a8" stroke-width="1.5" stroke-linecap="round"/>
<line x1="616.8" y1="656.2" x2="618.5" y2="658.4" stroke="#f0f0f0" stroke-width="1.5" stroke-linecap="round"/>
<line x1="616.8" y1="656.2" x2="613.9" y2="658.2" stroke="#f0f0f0" stroke-width="1.5" stroke-linecap="round"/>
<line x1="616.8" y1="656.2" x2="616.0" y2="653.5" stroke="#f0f0f0" stroke-width="1.5" stroke-linecap="round"/>
<line x1="629.4" y1="633.6" x2="627.7" y2="635.9" stroke="#a8a8a8" stroke-width="1.5" stroke-linecap="round"/>
<line x1="629.4" y1="633.6" x2="627.3" y2="631.9" stroke="#f0f0f0" stroke-width="1.5" stroke-linecap="round"/>
<line x1="629.4" y1="633.6" x2="631.8" y2="631.1" stroke="#f0f0f0" stroke-width="1.5" stroke-linecap="round"/>
<line x1="629.4" y1="633.6" x2="631.9" y2="635.9" stroke="#f0f0f0" stroke-width="1.5" stroke-linecap="round"/>
<line x1="627.6" y1="638.1" x2="628.6" y2="641.4" stroke="#a8a8a8" stroke-width="1.5" stroke-linecap="round"/>
<line x1="627.6" y1="638.1" x2="625.5" y2="639.5" stroke="#f0f0f0" stroke-width="1.5" stroke-linecap="round"/>
<line x1="627.6" y1="638.1" x2="626.2" y2="635.3" stroke="#f0f0f0" stroke-width="1.5" stroke-linecap="round"/>
<line x1="627.6" y1="638.1" x2="630.8" y2="636.6" stroke="#f0f0f0" stroke-width="1.5" stroke-linecap="round"/>
<line x1="651.4" y1="643.5" x2="651.6" y2="640.5" stroke="#a8a8a8" stroke-width="1.5" stroke-linecap="round"/>
<line x1="651.4" y1="643.5" x2="653.6" y2="644.8" stroke="#f0f0f0" stroke-width="1.5" stroke-linecap="round"/>
<line x1="651.4" y1="643.5" x2="651.1" y2="646.8" stroke="#f0f0f0" stroke-width="1.5" stroke-linecap="round"/>
<line x1="651.4" y1="643.5" x2="649.2" y2="642.1" stroke="#f0f0f0" stroke-width="1.5" stroke-linecap="round"/>
<line x1="706.8" y1="603.7" x2="708.4" y2="606.5" stroke="#a8a8a8" stroke-width="1.5" stroke-linecap="round"/>
<line x1="706.8" y1="603.7" x2="704.9" y2="605.7" stroke="#f0f0f0" stroke-width="1.5" stroke-linecap="round"/>
<line x1="706.8" y1="603.7" x2="705.3" y2="601.0" stroke="#f0f0f0" stroke-width="1.5" stroke-linecap="round"/>
<line x1="706.8" y1="603.7" x2="709.4" y2="602.3" stroke="#f0f0f0" stroke-width="1.5" stroke-linecap="round"/>
<line x1="668.1" y1="655.2" x2="671.2" y2="654.9" stroke="#a8a8a8" stroke-width="1.5" stroke-linecap="round"/>
<line x1="668.1" y1="655.2" x2="668.7" y2="658.4" stroke="#f0f0f0" stroke-width="1.5" stroke-linecap="round"/>
<line x1="668.1" y1="655.2" x2="664.7" y2="655.4" stroke="#f0f0f0" stroke-width="1.5" stroke-linecap="round"/>
<line x1="668.1" y1="655.2" x2="667.3" y2="651.9" stroke="#f0f0f0" stroke-width="1.5" stroke-linecap="round"/>
<line x1="674.8" y1="647.6" x2="677.4" y2="645.3" stroke="#a8a8a8" stroke-width="1.5" stroke-linecap="round"/>
<line x1="674.8" y1="647.6" x2="677.1" y2="650.3" stroke="#f0f0f0" stroke-width="1.5" stroke-linecap="round"/>
<line x1="674.8" y1="647.6" x2="672.8" y2="649.9" stroke="#f0f0f0" stroke-width="1.5" stroke-linecap="round"/>
<line x1="674.8" y1="647.6" x2="672.4" y2="645.2" stroke="#f0f0f0" stroke-width="1.5" stroke-linecap="round"/>
<line x1="681.5" y1="611.9" x2="679.0" y2="614.1" stroke="#a8a8a8" stroke-width="1.5" stroke-linecap="round"/>
<line x1="681.5" y1="611.9" x2="680.9" y2="609.1" stroke="#f0f0f0" stroke-width="1.5" stroke-linecap="round"/>
<line x1="681.5" y1="611.9" x2="683.6" y2="610.2" stroke="#f0f0f0" stroke-width="1.5" stroke-linecap="round"/>
<line x1="681.5" y1="611.9" x2="683.0" y2="614.3" stroke="#f0f0f0" stroke-width="1.5" stroke-linecap="round"/>
<line x1="697.3" y1="617.0" x2="699.8" y2="617.6" stroke="#a8a8a8" stroke-width="1.5" stroke-linecap="round"/>
<line x1="697.3" y1="617.0" x2="695.8" y2="620.0" stroke="#f0f0f0" stroke-width="1.5" stroke-linecap="round"/>
<line x1="697.3" y1="617.0" x2="694.8" y2="616.5" stroke="#f0f0f0" stroke-width="1.5" stroke-linecap="round"/>
<line x1="697.3" y1="617.0" x2="698.3" y2="614.0" stroke="#f0f0f0" stroke-width="1.5" stroke-linecap="round"/>
<line x1="742.0" y1="624.9" x2="744.7" y2="624.9" stroke="#a8a8a8" stroke-width="1.5" stroke-linecap="round"/>
<line x1="742.0" y1="624.9" x2="741.9" y2="627.7" stroke="#f0f0f0" stroke-width="1.5" stroke-linecap="round"/>
<line x1="742.0" y1="624.9" x2="739.1" y2="623.8" stroke="#f0f0f0" stroke-width="1.5" stroke-linecap="round"/>
<line x1="742.0" y1="624.9" x2="742.2" y2="622.2" stroke="#f0f0f0" stroke-width="1.5" stroke-linecap="round"/>
<line x1="701.5" y1="638.1" x2="702.4" y2="640.7" stroke="#a8a8a8" stroke-width="1.5" stroke-linecap="round"/>
<line x1="701.5" y1="638.1" x2="698.4" y2="639.6" stroke="#f0f0f0" stroke-width="1.5" stroke-linecap="round"/>
<line x1="701.5" y1="638.1" x2="700.1" y2="635.6" stroke="#f0f0f0" stroke-width="1.5" stroke-linecap="round"/>
<line x1="701.5" y1="638.1" x2="704.9" y2="637.2" stroke="#f0f0f0" stroke-width="1.5" stroke-linecap="round"/>
<line x1="710.6" y1="622.4" x2="708.0" y2="620.8" stroke="#a8a8a8" stroke-width="1.5" stroke-linecap="round"/>
<line x1="710.6" y1="622.4" x2="710.9" y2="619.9" stroke="#f0f0f0" stroke-width="1.5" stroke-linecap="round"/>
<line x1="710.6" y1="622.4" x2="713.4" y2="624.2" stroke="#f0f0f0" stroke-width="1.5" stroke-linecap="round"/>
<line x1="710.6" y1="622.4" x2="709.9" y2="625.4" stroke="#f0f0f0" stroke-width="1.5" stroke-linecap="round"/>
<line x1="712.2" y1="634.8" x2="710.8" y2="637.7" stroke="#a8a8a8" stroke-width="1.5" stroke-linecap="round"/>
<line x1="712.2" y1="634.8" x2="709.6" y2="634.8" stroke="#f0f0f0" stroke-width="1.5" stroke-linecap="round"/>
<line x1="712.2" y1="634.8" x2="712.6" y2="631.9" stroke="#f0f0f0" stroke-width="1.5" stroke-linecap="round"/>
<line x1="712.2" y1="634.8" x2="715.3" y2="635.9" stroke="#f0f0f0" stroke-width="1.5" stroke-linecap="round"/>
<line x1="721.2" y1="654.2" x2="723.2" y2="656.2" stroke="#a8a8a8" stroke-width="1.5" stroke-linecap="round"/>
<line x1="721.2" y1="654.2" x2="718.6" y2="656.5" stroke="#f0f0f0" stroke-width="1.5" stroke-linecap="round"/>
<line x1="721.2" y1="654.2" x2="719.5" y2="651.5" stroke="#f0f0f0" stroke-width="1.5" stroke-linecap="round"/>
<line x1="721.2" y1="654.2" x2="723.9" y2="653.4" stroke="#f0f0f0" stroke-width="1.5" stroke-linecap="round"/>
<line x1="682.8" y1="617.8" x2="683.9" y2="620.0" stroke="#a8a8a8" stroke-width="1.5" stroke-linecap="round"/>
<line x1="682.8" y1="617.8" x2="679.7" y2="619.2" stroke="#f0f0f0" stroke-width="1.5" stroke-linecap="round"/>
<line x1="682.8" y1="617.8" x2="681.8" y2="615.4" stroke="#f0f0f0" stroke-width="1.5" stroke-linecap="round"/>
<line x1="682.8" y1="617.8" x2="685.2" y2="615.5" stroke="#f0f0f0" stroke-width="1.5" stroke-linecap="round"/>
<line x1="704.3" y1="650.1" x2="701.3" y2="650.5" stroke="#e81010" stroke-width="1.6" stroke-linecap="round"/>
<line x1="704.3" y1="650.1" x2="701.3" y2="650.7" stroke="#e81010" stroke-width="1.6" stroke-linecap="round"/>
<line x1="704.3" y1="650.1" x2="707.1" y2="649.3" stroke="#e81010" stroke-width="1.6" stroke-linecap="round"/>
<line x1="704.3" y1="650.1" x2="701.7" y2="648.6" stroke="#e81010" stroke-width="1.6" stroke-linecap="round"/>
<circle cx="704.3" cy="650.1" r="1.2" fill="#e8d800"/>
<line x1="734.2" y1="628.2" x2="732.7" y2="630.8" stroke="#a8a8a8" stroke-width="1.5" stroke-linecap="round"/>
<line x1="734.2" y1="628.2" x2="732.0" y2="626.8" stroke="#f0f0f0" stroke-width="1.5" stroke-linecap="round"/>
<line x1="734.2" y1="628.2" x2="735.5" y2="625.9" stroke="#f0f0f0" stroke-width="1.5" stroke-linecap="round"/>
<line x1="734.2" y1="628.2" x2="737.0" y2="629.3" stroke="#f0f0f0" stroke-width="1.5" stroke-linecap="round"/>
<line x1="697.0" y1="651.2" x2="698.5" y2="648.6" stroke="#e81010" stroke-width="1.6" stroke-linecap="round"/>
<line x1="697.0" y1="651.2" x2="695.8" y2="653.9" stroke="#e81010" stroke-width="1.6" stroke-linecap="round"/>
<line x1="697.0" y1="651.2" x2="695.9" y2="653.9" stroke="#e81010" stroke-width="1.6" stroke-linecap="round"/>
<line x1="697.0" y1="651.2" x2="699.6" y2="652.5" stroke="#e81010" stroke-width="1.6" stroke-linecap="round"/>
<circle cx="697.0" cy="651.2" r="1.2" fill="#e8d800"/>
<line x1="687.7" y1="643.4" x2="684.8" y2="643.6" stroke="#a8a8a8" stroke-width="1.5" stroke-linecap="round"/>
<line x1="687.7" y1="643.4" x2="687.4" y2="640.8" stroke="#f0f0f0" stroke-width="1.5" stroke-linecap="round"/>
<line x1="687.7" y1="643.4" x2="690.6" y2="642.6" stroke="#f0f0f0" stroke-width="1.5" stroke-linecap="round"/>
<line x1="687.7" y1="643.4" x2="687.4" y2="646.8" stroke="#f0f0f0" stroke-width="1.5" stroke-linecap="round"/>
<line x1="684.2" y1="622.5" x2="687.5" y2="622.5" stroke="#a8a8a8" stroke-width="1.5" stroke-linecap="round"/>
<line x1="684.2" y1="622.5" x2="684.5" y2="625.6" stroke="#f0f0f0" stroke-width="1.5" stroke-linecap="round"/>
<line x1="684.2" y1="622.5" x2="681.7" y2="622.4" stroke="#f0f0f0" stroke-width="1.5" stroke-linecap="round"/>
<line x1="684.2" y1="622.5" x2="685.5" y2="619.3" stroke="#f0f0f0" stroke-width="1.5" stroke-linecap="round"/>
<line x1="643.3" y1="627.7" x2="641.1" y2="625.7" stroke="#e0e0e0" stroke-width="1.5" stroke-linecap="round"/>
<line x1="643.3" y1="627.7" x2="642.6" y2="630.6" stroke="#e0e0e0" stroke-width="1.5" stroke-linecap="round"/>
<line x1="643.3" y1="627.7" x2="641.2" y2="629.8" stroke="#e0e0e0" stroke-width="1.5" stroke-linecap="round"/>
<circle cx="643.3" cy="627.7" r="1.2" fill="#2040e0"/>
<line x1="698.2" y1="677.2" x2="697.6" y2="680.0" stroke="#a8a8a8" stroke-width="1.5" stroke-linecap="round"/>
<line x1="698.2" y1="677.2" x2="695.6" y2="676.1" stroke="#f0f0f0" stroke-width="1.5" stroke-linecap="round"/>
<line x1="698.2" y1="677.2" x2="698.6" y2="673.9" stroke="#f0f0f0" stroke-width="1.5" stroke-linecap="round"/>
<line x1="698.2" y1="677.2" x2="701.7" y2="677.9" stroke="#f0f0f0" stroke-width="1.5" stroke-linecap="round"/>
<line x1="711.4" y1="665.3" x2="710.5" y2="662.0" stroke="#a8a8a8" stroke-width="1.5" stroke-linecap="round"/>
<line x1="711.4" y1="665.3" x2="713.9" y2="664.2" stroke="#f0f0f0" stroke-width="1.5" stroke-linecap="round"/>
<line x1="711.4" y1="665.3" x2="712.7" y2="668.3" stroke="#f0f0f0" stroke-width="1.5" stroke-linecap="round"/>
<line x1="711.4" y1="665.3" x2="708.7" y2="665.4" stroke="#f0f0f0" stroke-width="1.5" stroke-linecap="round"/>
<line x1="704.6" y1="656.1" x2="706.1" y2="654.0" stroke="#a8a8a8" stroke-width="1.5" stroke-linecap="round"/>
<line x1="704.6" y1="656.1" x2="707.1" y2="657.1" stroke="#f0f0f0" stroke-width="1.5" stroke-linecap="round"/>
<line x1="704.6" y1="656.1" x2="703.7" y2="658.9" stroke="#f0f0f0" stroke-width="1.5" stroke-linecap="round"/>
<line x1="704.6" y1="656.1" x2="701.2" y2="655.1" stroke="#f0f0f0" stroke-width="1.5" stroke-linecap="round"/>
<line x1="684.3" y1="658.0" x2="681.0" y2="657.5" stroke="#a8a8a8" stroke-width="1.5" stroke-linecap="round"/>
<line x1="684.3" y1="658.0" x2="685.0" y2="655.2" stroke="#f0f0f0" stroke-width="1.5" stroke-linecap="round"/>
<line x1="684.3" y1="658.0" x2="687.2" y2="657.9" stroke="#f0f0f0" stroke-width="1.5" stroke-linecap="round"/>
<line x1="684.3" y1="658.0" x2="684.9" y2="660.9" stroke="#f0f0f0" stroke-width="1.5" stroke-linecap="round"/>
<line x1="738.7" y1="629.5" x2="741.9" y2="629.7" stroke="#a8a8a8" stroke-width="1.5" stroke-linecap="round"/>
<line x1="738.7" y1="629.5" x2="738.8" y2="632.0" stroke="#f0f0f0" stroke-width="1.5" stroke-linecap="round"/>
<line x1="738.7" y1="629.5" x2="735.8" y2="630.1" stroke="#f0f0f0" stroke-width="1.5" stroke-linecap="round"/>
<line x1="738.7" y1="629.5" x2="738.6" y2="626.9" stroke="#f0f0f0" stroke-width="1.5" stroke-linecap="round"/>
<line x1="654.3" y1="688.8" x2="651.0" y2="688.0" stroke="#a8a8a8" stroke-width="1.5" stroke-linecap="round"/>
<line x1="654.3" y1="688.8" x2="654.6" y2="686.2" stroke="#f0f0f0" stroke-width="1.5" stroke-linecap="round"/>
<line x1="654.3" y1="688.8" x2="657.7" y2="689.6" stroke="#f0f0f0" stroke-width="1.5" stroke-linecap="round"/>
<line x1="654.3" y1="688.8" x2="654.0" y2="691.7" stroke="#f0f0f0" stroke-width="1.5" stroke-linecap="round"/>
<line x1="686.4" y1="663.2" x2="688.2" y2="666.2" stroke="#a8a8a8" stroke-width="1.5" stroke-linecap="round"/>
<line x1="686.4" y1="663.2" x2="683.8" y2="665.2" stroke="#f0f0f0" stroke-width="1.5" stroke-linecap="round"/>
<line x1="686.4" y1="663.2" x2="685.1" y2="660.8" stroke="#f0f0f0" stroke-width="1.5" stroke-linecap="round"/>
<line x1="686.4" y1="663.2" x2="689.3" y2="661.9" stroke="#f0f0f0" stroke-width="1.5" stroke-linecap="round"/>
<line x1="707.9" y1="608.6" x2="710.5" y2="610.1" stroke="#e0e0e0" stroke-width="1.5" stroke-linecap="round"/>
<line x1="707.9" y1="608.6" x2="708.0" y2="611.6" stroke="#e0e0e0" stroke-width="1.5" stroke-linecap="round"/>
<line x1="707.9" y1="608.6" x2="705.2" y2="607.2" stroke="#e0e0e0" stroke-width="1.5" stroke-linecap="round"/>
<circle cx="707.9" cy="608.6" r="1.2" fill="#2040e0"/>
<line x1="684.1" y1="657.5" x2="682.1" y2="659.6" stroke="#a8a8a8" stroke-width="1.5" stroke-linecap="round"/>
<line x1="684.1" y1="657.5" x2="681.7" y2="656.3" stroke="#f0f0f0" stroke-width="1.5" stroke-linecap="round"/>
<line x1="684.1" y1="657.5" x2="685.9" y2="655.6" stroke="#f0f0f0" stroke-width="1.5" stroke-linecap="round"/>
<line x1="684.1" y1="657.5" x2="686.3" y2="659.6" stroke="#f0f0f0" stroke-width="1.5" stroke-linecap="round"/>
<line x1="682.3" y1="615.1" x2="678.9" y2="614.3" stroke="#a8a8a8" stroke-width="1.5" stroke-linecap="round"/>
<line x1="682.3" y1="615.1" x2="684.5" y2="612.4" stroke="#f0f0f0" stroke-width="1.5" stroke-linecap="round"/>
<line x1="682.3" y1="615.1" x2="684.7" y2="616.2" stroke="#f0f0f0" stroke-width="1.5" stroke-linecap="round"/>
<line x1="682.3" y1="615.1" x2="680.8" y2="617.4" stroke="#f0f0f0" stroke-width="1.5" stroke-linecap="round"/>
<line x1="674.2" y1="647.7" x2="674.2" y2="651.1" stroke="#a8a8a8" stroke-width="1.5" stroke-linecap="round"/>
<line x1="674.2" y1="647.7" x2="671.2" y2="648.5" stroke="#f0f0f0" stroke-width="1.5" stroke-linecap="round"/>
<line x1="674.2" y1="647.7" x2="673.4" y2="645.3" stroke="#f0f0f0" stroke-width="1.5" stroke-linecap="round"/>
<line x1="674.2" y1="647.7" x2="677.6" y2="646.8" stroke="#f0f0f0" stroke-width="1.5" stroke-linecap="round"/>
<line x1="716.2" y1="656.4" x2="714.1" y2="653.9" stroke="#a8a8a8" stroke-width="1.5" stroke-linecap="round"/>
<line x1="716.2" y1="656.4" x2="718.8" y2="655.2" stroke="#f0f0f0" stroke-width="1.5" stroke-linecap="round"/>
<line x1="716.2" y1="656.4" x2="717.8" y2="659.3" stroke="#f0f0f0" stroke-width="1.5" stroke-linecap="round"/>
<line x1="716.2" y1="656.4" x2="714.4" y2="658.5" stroke="#f0f0f0" stroke-width="1.5" stroke-linecap="round"/>
<line x1="680.0" y1="673.1" x2="682.1" y2="675.4" stroke="#a8a8a8" stroke-width="1.5" stroke-linecap="round"/>
<line x1="680.0" y1="673.1" x2="678.1" y2="675.5" stroke="#f0f0f0" stroke-width="1.5" stroke-linecap="round"/>
<line x1="680.0" y1="673.1" x2="677.8" y2="671.0" stroke="#f0f0f0" stroke-width="1.5" stroke-linecap="round"/>
<line x1="680.0" y1="673.1" x2="682.3" y2="670.9" stroke="#f0f0f0" stroke-width="1.5" stroke-linecap="round"/>
<line x1="652.0" y1="658.6" x2="650.6" y2="655.9" stroke="#e81010" stroke-width="1.6" stroke-linecap="round"/>
<line x1="652.0" y1="658.6" x2="653.8" y2="660.9" stroke="#e81010" stroke-width="1.6" stroke-linecap="round"/>
<line x1="652.0" y1="658.6" x2="654.9" y2="657.8" stroke="#e81010" stroke-width="1.6" stroke-linecap="round"/>
<line x1="652.0" y1="658.6" x2="649.6" y2="656.8" stroke="#e81010" stroke-width="1.6" stroke-linecap="round"/>
<circle cx="652.0" cy="658.6" r="1.2" fill="#e8d800"/>
<line x1="716.0" y1="630.4" x2="713.2" y2="631.9" stroke="#a8a8a8" stroke-width="1.5" stroke-linecap="round"/>
<line x1="716.0" y1="630.4" x2="714.7" y2="627.4" stroke="#f0f0f0" stroke-width="1.5" stroke-linecap="round"/>
<line x1="716.0" y1="630.4" x2="719.1" y2="628.5" stroke="#f0f0f0" stroke-width="1.5" stroke-linecap="round"/>
<line x1="716.0" y1="630.4" x2="717.2" y2="633.7" stroke="#f0f0f0" stroke-width="1.5" stroke-linecap="round"/>
<line x1="616.8" y1="614.5" x2="613.5" y2="615.8" stroke="#a8a8a8" stroke-width="1.5" stroke-linecap="round"/>
<line x1="616.8" y1="614.5" x2="615.6" y2="611.7" stroke="#f0f0f0" stroke-width="1.5" stroke-linecap="round"/>
<line x1="616.8" y1="614.5" x2="619.9" y2="613.0" stroke="#f0f0f0" stroke-width="1.5" stroke-linecap="round"/>
<line x1="616.8" y1="614.5" x2="618.0" y2="616.7" stroke="#f0f0f0" stroke-width="1.5" stroke-linecap="round"/>
<line x1="686.1" y1="651.7" x2="688.9" y2="650.2" stroke="#a8a8a8" stroke-width="1.5" stroke-linecap="round"/>
<line x1="686.1" y1="651.7" x2="687.4" y2="654.2" stroke="#f0f0f0" stroke-width="1.5" stroke-linecap="round"/>
<line x1="686.1" y1="651.7" x2="683.9" y2="653.1" stroke="#f0f0f0" stroke-width="1.5" stroke-linecap="round"/>
<line x1="686.1" y1="651.7" x2="683.9" y2="649.7" stroke="#f0f0f0" stroke-width="1.5" stroke-linecap="round"/>
<line x1="730.9" y1="612.0" x2="729.0" y2="614.6" stroke="#a8a8a8" stroke-width="1.5" stroke-linecap="round"/>
<line x1="730.9" y1="612.0" x2="729.3" y2="609.7" stroke="#f0f0f0" stroke-width="1.5" stroke-linecap="round"/>
<line x1="730.9" y1="612.0" x2="733.1" y2="609.9" stroke="#f0f0f0" stroke-width="1.5" stroke-linecap="round"/>
<line x1="730.9" y1="612.0" x2="732.8" y2="613.8" stroke="#f0f0f0" stroke-width="1.5" stroke-linecap="round"/>
<line x1="678.1" y1="654.8" x2="681.5" y2="654.4" stroke="#a8a8a8" stroke-width="1.5" stroke-linecap="round"/>
<line x1="678.1" y1="654.8" x2="678.9" y2="658.1" stroke="#f0f0f0" stroke-width="1.5" stroke-linecap="round"/>
<line x1="678.1" y1="654.8" x2="675.0" y2="656.0" stroke="#f0f0f0" stroke-width="1.5" stroke-linecap="round"/>
<line x1="678.1" y1="654.8" x2="677.5" y2="651.4" stroke="#f0f0f0" stroke-width="1.5" stroke-linecap="round"/>
<line x1="712.3" y1="614.2" x2="713.1" y2="611.3" stroke="#e81010" stroke-width="1.6" stroke-linecap="round"/>
<line x1="712.3" y1="614.2" x2="714.5" y2="616.3" stroke="#e81010" stroke-width="1.6" stroke-linecap="round"/>
<line x1="712.3" y1="614.2" x2="709.4" y2="613.5" stroke="#e81010" stroke-width="1.6" stroke-linecap="round"/>
<line x1="712.3" y1="614.2" x2="715.2" y2="613.3" stroke="#e81010" stroke-width="1.6" stroke-linecap="round"/>
<circle cx="712.3" cy="614.2" r="1.2" fill="#e8d800"/>
<line x1="663.9" y1="643.7" x2="664.0" y2="646.7" stroke="#e81010" stroke-width="1.6" stroke-linecap="round"/>
<line x1="663.9" y1="643.7" x2="663.0" y2="646.6" stroke="#e81010" stroke-width="1.6" stroke-linecap="round"/>
<line x1="663.9" y1="643.7" x2="662.5" y2="646.4" stroke="#e81010" stroke-width="1.6" stroke-linecap="round"/>
<line x1="663.9" y1="643.7" x2="666.7" y2="644.9" stroke="#e81010" stroke-width="1.6" stroke-linecap="round"/>
<circle cx="663.9" cy="643.7" r="1.2" fill="#e8d800"/>
<line x1="681.9" y1="678.4" x2="682.9" y2="675.7" stroke="#a8a8a8" stroke-width="1.5" stroke-linecap="round"/>
<line x1="681.9" y1="678.4" x2="684.2" y2="679.5" stroke="#f0f0f0" stroke-width="1.5" stroke-linecap="round"/>
<line x1="681.9" y1="678.4" x2="681.4" y2="681.8" stroke="#f0f0f0" stroke-width="1.5" stroke-linecap="round"/>
<line x1="681.9" y1="678.4" x2="679.0" y2="677.5" stroke="#f0f0f0" stroke-width="1.5" stroke-linecap="round"/>
<line x1="675.2" y1="686.2" x2="677.9" y2="685.8" stroke="#a8a8a8" stroke-width="1.5" stroke-linecap="round"/>
<line x1="675.2" y1="686.2" x2="676.1" y2="689.6" stroke="#f0f0f0" stroke-width="1.5" stroke-linecap="round"/>
<line x1="675.2" y1="686.2" x2="672.5" y2="686.0" stroke="#f0f0f0" stroke-width="1.5" stroke-linecap="round"/>
<line x1="675.2" y1="686.2" x2="675.4" y2="683.4" stroke="#f0f0f0" stroke-width="1.5" stroke-linecap="round"/>
<line x1="654.6" y1="625.7" x2="655.5" y2="629.2" stroke="#a8a8a8" stroke-width="1.5" stroke-linecap="round"/>
<line x1="654.6" y1="625.7" x2="652.1" y2="627.7" stroke="#f0f0f0" stroke-width="1.5" stroke-linecap="round"/>
<line x1="654.6" y1="625.7" x2="652.4" y2="623.0" stroke="#f0f0f0" stroke-width="1.5" stroke-linecap="round"/>
<line x1="654.6" y1="625.7" x2="656.5" y2="623.9" stroke="#f0f0f0" stroke-width="1.5" stroke-linecap="round"/>
<line x1="702.7" y1="674.9" x2="700.6" y2="677.7" stroke="#a8a8a8" stroke-width="1.5" stroke-linecap="round"/>
<line x1="702.7" y1="674.9" x2="700.4" y2="673.6" stroke="#f0f0f0" stroke-width="1.5" stroke-linecap="round"/>
<line x1="702.7" y1="674.9" x2="704.4" y2="671.8" stroke="#f0f0f0" stroke-width="1.5" stroke-linecap="round"/>
<line x1="702.7" y1="674.9" x2="705.1" y2="675.8" stroke="#f0f0f0" stroke-width="1.5" stroke-linecap="round"/>
<line x1="700.4" y1="645.8" x2="699.3" y2="648.6" stroke="#e0e0e0" stroke-width="1.5" stroke-linecap="round"/>
<line x1="700.4" y1="645.8" x2="699.6" y2="642.9" stroke="#e0e0e0" stroke-width="1.5" stroke-linecap="round"/>
<line x1="700.4" y1="645.8" x2="701.4" y2="648.6" stroke="#e0e0e0" stroke-width="1.5" stroke-linecap="round"/>
<circle cx="700.4" cy="645.8" r="1.2" fill="#2040e0"/>
<line x1="615.7" y1="619.5" x2="616.0" y2="622.5" stroke="#e0e0e0" stroke-width="1.5" stroke-linecap="round"/>
<line x1="615.7" y1="619.5" x2="614.2" y2="616.9" stroke="#e0e0e0" stroke-width="1.5" stroke-linecap="round"/>
<line x1="615.7" y1="619.5" x2="616.5" y2="616.6" stroke="#e0e0e0" stroke-width="1.5" stroke-linecap="round"/>
<circle cx="615.7" cy="619.5" r="1.2" fill="#2040e0"/>
<line x1="657.1" y1="624.2" x2="656.1" y2="621.2" stroke="#a8a8a8" stroke-width="1.5" stroke-linecap="round"/>
<line x1="657.1" y1="624.2" x2="659.3" y2="622.3" stroke="#f0f0f0" stroke-width="1.5" stroke-linecap="round"/>
<line x1="657.1" y1="624.2" x2="658.1" y2="627.3" stroke="#f0f0f0" stroke-width="1.5" stroke-linecap="round"/>
<line x1="657.1" y1="624.2" x2="654.6" y2="626.2" stroke="#f0f0f0" stroke-width="1.5" stroke-linecap="round"/>
<line x1="698.1" y1="629.3" x2="701.0" y2="629.0" stroke="#e81010" stroke-width="1.6" stroke-linecap="round"/>
<line x1="698.1" y1="629.3" x2="695.3" y2="630.4" stroke="#e81010" stroke-width="1.6" stroke-linecap="round"/>
<line x1="698.1" y1="629.3" x2="695.1" y2="628.8" stroke="#e81010" stroke-width="1.6" stroke-linecap="round"/>
<line x1="698.1" y1="629.3" x2="695.1" y2="628.7" stroke="#e81010" stroke-width="1.6" stroke-linecap="round"/>
<circle cx="698.1" cy="629.3" r="1.2" fill="#e8d800"/>
<line x1="704.9" y1="640.1" x2="702.5" y2="638.4" stroke="#e81010" stroke-width="1.6" stroke-linecap="round"/>
<line x1="704.9" y1="640.1" x2="704.3" y2="643.1" stroke="#e81010" stroke-width="1.6" stroke-linecap="round"/>
<line x1="704.9" y1="640.1" x2="704.9" y2="643.1" stroke="#e81010" stroke-width="1.6" stroke-linecap="round"/>
<line x1="704.9" y1="640.1" x2="705.9" y2="637.3" stroke="#e81010" stroke-width="1.6" stroke-linecap="round"/>
<circle cx="704.9" cy="640.1" r="1.2" fill="#e8d800"/>
<line x1="666.6" y1="641.1" x2="666.0" y2="644.0" stroke="#e81010" stroke-width="1.6" stroke-linecap="round"/>
<line x1="666.6" y1="641.1" x2="666.7" y2="638.1" stroke="#e81010" stroke-width="1.6" stroke-linecap="round"/>
<line x1="666.6" y1="641.1" x2="666.7" y2="644.1" stroke="#e81010" stroke-width="1.6" stroke-linecap="round"/>
<line x1="666.6" y1="641.1" x2="666.1" y2="644.0" stroke="#e81010" stroke-width="1.6" stroke-linecap="round"/>
<circle cx="666.6" cy="641.1" r="1.2" fill="#e8d800"/>
<line x1="692.7" y1="660.2" x2="693.2" y2="663.8" stroke="#a8a8a8" stroke-width="1.5" stroke-linecap="round"/>
<line x1="692.7" y1="660.2" x2="690.3" y2="662.1" stroke="#f0f0f0" stroke-width="1.5" stroke-linecap="round"/>
<line x1="692.7" y1="660.2" x2="691.9" y2="657.4" stroke="#f0f0f0" stroke-width="1.5" stroke-linecap="round"/>
<line x1="692.7" y1="660.2" x2="695.7" y2="659.8" stroke="#f0f0f0" stroke-width="1.5" stroke-linecap="round"/>
<line x1="661.7" y1="632.0" x2="658.9" y2="630.9" stroke="#e81010" stroke-width="1.6" stroke-linecap="round"/>
<line x1="661.7" y1="632.0" x2="659.8" y2="629.6" stroke="#e81010" stroke-width="1.6" stroke-linecap="round"/>
<line x1="661.7" y1="632.0" x2="659.8" y2="634.3" stroke="#e81010" stroke-width="1.6" stroke-linecap="round"/>
<line x1="661.7" y1="632.0" x2="660.0" y2="629.5" stroke="#e81010" stroke-width="1.6" stroke-linecap="round"/>
<circle cx="661.7" cy="632.0" r="1.2" fill="#e8d800"/>
<line x1="631.4" y1="679.6" x2="628.0" y2="679.2" stroke="#a8a8a8" stroke-width="1.5" stroke-linecap="round"/>
<line x1="631.4" y1="679.6" x2="632.0" y2="676.6" stroke="#f0f0f0" stroke-width="1.5" stroke-linecap="round"/>
<line x1="631.4" y1="679.6" x2="633.9" y2="680.6" stroke="#f0f0f0" stroke-width="1.5" stroke-linecap="round"/>
<line x1="631.4" y1="679.6" x2="630.6" y2="682.2" stroke="#f0f0f0" stroke-width="1.5" stroke-linecap="round"/>
<line x1="727.7" y1="633.4" x2="728.1" y2="636.7" stroke="#a8a8a8" stroke-width="1.5" stroke-linecap="round"/>
<line x1="727.7" y1="633.4" x2="724.3" y2="633.1" stroke="#f0f0f0" stroke-width="1.5" stroke-linecap="round"/>
<line x1="727.7" y1="633.4" x2="726.9" y2="630.4" stroke="#f0f0f0" stroke-width="1.5" stroke-linecap="round"/>
<line x1="727.7" y1="633.4" x2="730.7" y2="632.6" stroke="#f0f0f0" stroke-width="1.5" stroke-linecap="round"/>
<line x1="661.6" y1="606.0" x2="664.8" y2="606.9" stroke="#a8a8a8" stroke-width="1.5" stroke-linecap="round"/>
<line x1="661.6" y1="606.0" x2="660.7" y2="609.3" stroke="#f0f0f0" stroke-width="1.5" stroke-linecap="round"/>
<line x1="661.6" y1="606.0" x2="659.0" y2="605.9" stroke="#f0f0f0" stroke-width="1.5" stroke-linecap="round"/>
<line x1="661.6" y1="606.0" x2="661.4" y2="602.9" stroke="#f0f0f0" stroke-width="1.5" stroke-linecap="round"/>
<line x1="683.8" y1="643.3" x2="680.9" y2="645.0" stroke="#a8a8a8" stroke-width="1.5" stroke-linecap="round"/>
<line x1="683.8" y1="643.3" x2="681.8" y2="640.5" stroke="#f0f0f0" stroke-width="1.5" stroke-linecap="round"/>
<line x1="683.8" y1="643.3" x2="686.7" y2="642.4" stroke="#f0f0f0" stroke-width="1.5" stroke-linecap="round"/>
<line x1="683.8" y1="643.3" x2="684.3" y2="646.1" stroke="#f0f0f0" stroke-width="1.5" stroke-linecap="round"/>
<line x1="752.6" y1="644.4" x2="751.5" y2="647.2" stroke="#e81010" stroke-width="1.6" stroke-linecap="round"/>
<line x1="752.6" y1="644.4" x2="755.5" y2="645.2" stroke="#e81010" stroke-width="1.6" stroke-linecap="round"/>
<line x1="752.6" y1="644.4" x2="751.4" y2="647.1" stroke="#e81010" stroke-width="1.6" stroke-linecap="round"/>
<line x1="752.6" y1="644.4" x2="750.4" y2="642.3" stroke="#e81010" stroke-width="1.6" stroke-linecap="round"/>
<circle cx="752.6" cy="644.4" r="1.2" fill="#e8d800"/>
<line x1="726.2" y1="642.9" x2="725.8" y2="645.5" stroke="#a8a8a8" stroke-width="1.5" stroke-linecap="round"/>
<line x1="726.2" y1="642.9" x2="723.6" y2="642.2" stroke="#f0f0f0" stroke-width="1.5" stroke-linecap="round"/>
<line x1="726.2" y1="642.9" x2="726.1" y2="640.2" stroke="#f0f0f0" stroke-width="1.5" stroke-linecap="round"/>
<line x1="726.2" y1="642.9" x2="729.5" y2="643.6" stroke="#f0f0f0" stroke-width="1.5" stroke-linecap="round"/>
<line x1="623.0" y1="642.7" x2="625.7" y2="643.6" stroke="#a8a8a8" stroke-width="1.5" stroke-linecap="round"/>
<line x1="623.0" y1="642.7" x2="622.2" y2="646.2" stroke="#f0f0f0" stroke-width="1.5" stroke-linecap="round"/>
<line x1="623.0" y1="642.7" x2="619.9" y2="642.3" stroke="#f0f0f0" stroke-width="1.5" stroke-linecap="round"/>
<line x1="623.0" y1="642.7" x2="624.8" y2="639.6" stroke="#f0f0f0" stroke-width="1.5" stroke-linecap="round"/>
<line x1="716.3" y1="652.8" x2="713.4" y2="653.7" stroke="#e81010" stroke-width="1.6" stroke-linecap="round"/>
<line x1="716.3" y1="652.8" x2="716.2" y2="649.8" stroke="#e81010" stroke-width="1.6" stroke-linecap="round"/>
<line x1="716.3" y1="652.8" x2="719.2" y2="653.6" stroke="#e81010" stroke-width="1.6" stroke-linecap="round"/>
<line x1="716.3" y1="652.8" x2="716.4" y2="655.8" stroke="#e81010" stroke-width="1.6" stroke-linecap="round"/>
<circle cx="716.3" cy="652.8" r="1.2" fill="#e8d800"/>
<line x1="673.7" y1="597.7" x2="675.6" y2="599.8" stroke="#a8a8a8" stroke-width="1.5" stroke-linecap="round"/>
<line x1="673.7" y1="597.7" x2="671.7" y2="599.4" stroke="#f0f0f0" stroke-width="1.5" stroke-linecap="round"/>
<line x1="673.7" y1="597.7" x2="670.7" y2="595.6" stroke="#f0f0f0" stroke-width="1.5" stroke-linecap="round"/>
<line x1="673.7" y1="597.7" x2="676.5" y2="596.1" stroke="#f0f0f0" stroke-width="1.5" stroke-linecap="round"/>
<line x1="647.0" y1="669.6" x2="646.9" y2="672.6" stroke="#e0e0e0" stroke-width="1.5" stroke-linecap="round"/>
<line x1="647.0" y1="669.6" x2="644.1" y2="668.7" stroke="#e0e0e0" stroke-width="1.5" stroke-linecap="round"/>
<line x1="647.0" y1="669.6" x2="647.1" y2="672.6" stroke="#e0e0e0" stroke-width="1.5" stroke-linecap="round"/>
<circle cx="647.0" cy="669.6" r="1.2" fill="#2040e0"/>
<line x1="734.2" y1="607.4" x2="736.7" y2="606.0" stroke="#a8a8a8" stroke-width="1.5" stroke-linecap="round"/>
<line x1="734.2" y1="607.4" x2="734.6" y2="610.5" stroke="#f0f0f0" stroke-width="1.5" stroke-linecap="round"/>
<line x1="734.2" y1="607.4" x2="732.0" y2="609.3" stroke="#f0f0f0" stroke-width="1.5" stroke-linecap="round"/>
<line x1="734.2" y1="607.4" x2="733.4" y2="605.0" stroke="#f0f0f0" stroke-width="1.5" stroke-linecap="round"/>
<line x1="625.5" y1="660.8" x2="625.1" y2="657.7" stroke="#a8a8a8" stroke-width="1.5" stroke-linecap="round"/>
<line x1="625.5" y1="660.8" x2="628.5" y2="660.4" stroke="#f0f0f0" stroke-width="1.5" stroke-linecap="round"/>
<line x1="625.5" y1="660.8" x2="626.9" y2="663.9" stroke="#f0f0f0" stroke-width="1.5" stroke-linecap="round"/>
<line x1="625.5" y1="660.8" x2="622.5" y2="662.2" stroke="#f0f0f0" stroke-width="1.5" stroke-linecap="round"/>
<line x1="707.2" y1="612.4" x2="705.5" y2="614.9" stroke="#e0e0e0" stroke-width="1.5" stroke-linecap="round"/>
<line x1="707.2" y1="612.4" x2="708.4" y2="615.2" stroke="#e0e0e0" stroke-width="1.5" stroke-linecap="round"/>
<line x1="707.2" y1="612.4" x2="704.3" y2="611.5" stroke="#e0e0e0" stroke-width="1.5" stroke-linecap="round"/>
<circle cx="707.2" cy="612.4" r="1.2" fill="#2040e0"/>
<line x1="654.3" y1="620.0" x2="655.1" y2="622.9" stroke="#e81010" stroke-width="1.6" stroke-linecap="round"/>
<line x1="654.3" y1="620.0" x2="654.9" y2="622.9" stroke="#e81010" stroke-width="1.6" stroke-linecap="round"/>
<line x1="654.3" y1="620.0" x2="651.3" y2="620.6" stroke="#e81010" stroke-width="1.6" stroke-linecap="round"/>
<line x1="654.3" y1="620.0" x2="653.2" y2="622.8" stroke="#e81010" stroke-width="1.6" stroke-linecap="round"/>
<circle cx="654.3" cy="620.0" r="1.2" fill="#e8d800"/>
<line x1="637.3" y1="620.4" x2="640.8" y2="620.6" stroke="#a8a8a8" stroke-width="1.5" stroke-linecap="round"/>
<line x1="637.3" y1="620.4" x2="638.0" y2="623.2" stroke="#f0f0f0" stroke-width="1.5" stroke-linecap="round"/>
<line x1="637.3" y1="620.4" x2="634.2" y2="621.3" stroke="#f0f0f0" stroke-width="1.5" stroke-linecap="round"/>
<line x1="637.3" y1="620.4" x2="637.0" y2="617.6" stroke="#f0f0f0" stroke-width="1.5" stroke-linecap="round"/>
<line x1="720.8" y1="655.9" x2="722.0" y2="658.6" stroke="#e81010" stroke-width="1.6" stroke-linecap="round"/>
<line x1="720.8" y1="655.9" x2="720.5" y2="658.9" stroke="#e81010" stroke-width="1.6" stroke-linecap="round"/>
<line x1="720.8" y1="655.9" x2="718.4" y2="657.7" stroke="#e81010" stroke-width="1.6" stroke-linecap="round"/>
<line x1="720.8" y1="655.9" x2="723.4" y2="654.5" stroke="#e81010" stroke-width="1.6" stroke-linecap="round"/>
<circle cx="720.8" cy="655.9" r="1.2" fill="#e8d800"/>
<line x1="748.3" y1="635.8" x2="748.2" y2="638.4" stroke="#a8a8a8" stroke-width="1.5" stroke-linecap="round"/>
<line x1="748.3" y1="635.8" x2="745.6" y2="634.7" stroke="#f0f0f0" stroke-width="1.5" stroke-linecap="round"/>
<line x1="748.3" y1="635.8" x2="749.2" y2="632.6" stroke="#f0f0f0" stroke-width="1.5" stroke-linecap="round"/>
<line x1="748.3" y1="635.8" x2="750.7" y2="636.7" stroke="#f0f0f0" stroke-width="1.5" stroke-linecap="round"/>
<line x1="673.4" y1="612.5" x2="671.4" y2="615.4" stroke="#a8a8a8" stroke-width="1.5" stroke-linecap="round"/>
<line x1="673.4" y1="612.5" x2="670.9" y2="610.3" stroke="#f0f0f0" stroke-width="1.5" stroke-linecap="round"/>
<line x1="673.4" y1="612.5" x2="675.3" y2="610.9" stroke="#f0f0f0" stroke-width="1.5" stroke-linecap="round"/>
<line x1="673.4" y1="612.5" x2="675.3" y2="614.5" stroke="#f0f0f0" stroke-width="1.5" stroke-linecap="round"/>
<line x1="673.8" y1="604.0" x2="675.5" y2="606.4" stroke="#e81010" stroke-width="1.6" stroke-linecap="round"/>
<line x1="673.8" y1="604.0" x2="671.3" y2="602.3" stroke="#e81010" stroke-width="1.6" stroke-linecap="round"/>
<line x1="673.8" y1="604.0" x2="676.7" y2="604.6" stroke="#e81010" stroke-width="1.6" stroke-linecap="round"/>
<line x1="673.8" y1="604.0" x2="672.6" y2="606.7" stroke="#e81010" stroke-width="1.6" stroke-linecap="round"/>
<circle cx="673.8" cy="604.0" r="1.2" fill="#e8d800"/>
<line x1="617.2" y1="656.1" x2="613.9" y2="655.9" stroke="#a8a8a8" stroke-width="1.5" stroke-linecap="round"/>
<line x1="617.2" y1="656.1" x2="617.6" y2="652.8" stroke="#f0f0f0" stroke-width="1.5" stroke-linecap="round"/>
<line x1="617.2" y1="656.1" x2="619.7" y2="657.0" stroke="#f0f0f0" stroke-width="1.5" stroke-linecap="round"/>
<line x1="617.2" y1="656.1" x2="616.9" y2="658.9" stroke="#f0f0f0" stroke-width="1.5" stroke-linecap="round"/>
<line x1="727.3" y1="659.7" x2="724.5" y2="661.8" stroke="#a8a8a8" stroke-width="1.5" stroke-linecap="round"/>
<line x1="727.3" y1="659.7" x2="725.3" y2="657.6" stroke="#f0f0f0" stroke-width="1.5" stroke-linecap="round"/>
<line x1="727.3" y1="659.7" x2="729.4" y2="658.0" stroke="#f0f0f0" stroke-width="1.5" stroke-linecap="round"/>
<line x1="727.3" y1="659.7" x2="729.2" y2="661.3" stroke="#f0f0f0" stroke-width="1.5" stroke-linecap="round"/>
<line x1="723.6" y1="644.5" x2="720.6" y2="642.5" stroke="#a8a8a8" stroke-width="1.5" stroke-linecap="round"/>
<line x1="723.6" y1="644.5" x2="724.5" y2="641.4" stroke="#f0f0f0" stroke-width="1.5" stroke-linecap="round"/>
<line x1="723.6" y1="644.5" x2="725.7" y2="646.2" stroke="#f0f0f0" stroke-width="1.5" stroke-linecap="round"/>
<line x1="723.6" y1="644.5" x2="721.9" y2="647.3" stroke="#f0f0f0" stroke-width="1.5" stroke-linecap="round"/>
<line x1="653.4" y1="640.2" x2="655.2" y2="637.6" stroke="#a8a8a8" stroke-width="1.5" stroke-linecap="round"/>
<line x1="653.4" y1="640.2" x2="656.0" y2="641.7" stroke="#f0f0f0" stroke-width="1.5" stroke-linecap="round"/>
<line x1="653.4" y1="640.2" x2="651.8" y2="642.2" stroke="#f0f0f0" stroke-width="1.5" stroke-linecap="round"/>
<line x1="653.4" y1="640.2" x2="651.2" y2="638.5" stroke="#f0f0f0" stroke-width="1.5" stroke-linecap="round"/>
<line x1="665.2" y1="609.2" x2="665.3" y2="612.1" stroke="#a8a8a8" stroke-width="1.5" stroke-linecap="round"/>
<line x1="665.2" y1="609.2" x2="662.6" y2="608.7" stroke="#f0f0f0" stroke-width="1.5" stroke-linecap="round"/>
<line x1="665.2" y1="609.2" x2="666.0" y2="606.5" stroke="#f0f0f0" stroke-width="1.5" stroke-linecap="round"/>
<line x1="665.2" y1="609.2" x2="668.1" y2="609.0" stroke="#f0f0f0" stroke-width="1.5" stroke-linecap="round"/>
<line x1="677.8" y1="641.9" x2="679.6" y2="644.7" stroke="#a8a8a8" stroke-width="1.5" stroke-linecap="round"/>
<line x1="677.8" y1="641.9" x2="675.1" y2="643.7" stroke="#f0f0f0" stroke-width="1.5" stroke-linecap="round"/>
<line x1="677.8" y1="641.9" x2="675.5" y2="640.1" stroke="#f0f0f0" stroke-width="1.5" stroke-linecap="round"/>
<line x1="677.8" y1="641.9" x2="679.8" y2="640.2" stroke="#f0f0f0" stroke-width="1.5" stroke-linecap="round"/>
<line x1="661.8" y1="675.0" x2="664.7" y2="676.1" stroke="#a8a8a8" stroke-width="1.5" stroke-linecap="round"/>
<line x1="661.8" y1="675.0" x2="660.9" y2="677.7" stroke="#f0f0f0" stroke-width="1.5" stroke-linecap="round"/>
<line x1="661.8" y1="675.0" x2="659.3" y2="674.5" stroke="#f0f0f0" stroke-width="1.5" stroke-linecap="round"/>
<line x1="661.8" y1="675.0" x2="662.6" y2="671.7" stroke="#f0f0f0" stroke-width="1.5" stroke-linecap="round"/>
<line x1="684.1" y1="653.1" x2="683.6" y2="655.8" stroke="#a8a8a8" stroke-width="1.5" stroke-linecap="round"/>
<line x1="684.1" y1="653.1" x2="681.0" y2="652.9" stroke="#f0f0f0" stroke-width="1.5" stroke-linecap="round"/>
<line x1="684.1" y1="653.1" x2="685.1" y2="650.4" stroke="#f0f0f0" stroke-width="1.5" stroke-linecap="round"/>
<line x1="684.1" y1="653.1" x2="687.6" y2="653.5" stroke="#f0f0f0" stroke-width="1.5" stroke-linecap="round"/>
<line x1="719.7" y1="616.7" x2="717.8" y2="614.5" stroke="#a8a8a8" stroke-width="1.5" stroke-linecap="round"/>
<line x1="719.7" y1="616.7" x2="721.6" y2="614.7" stroke="#f0f0f0" stroke-width="1.5" stroke-linecap="round"/>
<line x1="719.7" y1="616.7" x2="721.6" y2="619.7" stroke="#f0f0f0" stroke-width="1.5" stroke-linecap="round"/>
<line x1="719.7" y1="616.7" x2="717.3" y2="619.4" stroke="#f0f0f0" stroke-width="1.5" stroke-linecap="round"/>
<line x1="610.6" y1="657.5" x2="612.6" y2="659.8" stroke="#e81010" stroke-width="1.6" stroke-linecap="round"/>
<line x1="610.6" y1="657.5" x2="607.6" y2="657.4" stroke="#e81010" stroke-width="1.6" stroke-linecap="round"/>
<line x1="610.6" y1="657.5" x2="609.6" y2="660.3" stroke="#e81010" stroke-width="1.6" stroke-linecap="round"/>
<line x1="610.6" y1="657.5" x2="608.7" y2="659.8" stroke="#e81010" stroke-width="1.6" stroke-linecap="round"/>
<circle cx="610.6" cy="657.5" r="1.2" fill="#e8d800"/>
<line x1="654.5" y1="672.0" x2="656.5" y2="673.9" stroke="#a8a8a8" stroke-width="1.5" stroke-linecap="round"/>
<line x1="654.5" y1="672.0" x2="652.1" y2="673.4" stroke="#f0f0f0" stroke-width="1.5" stroke-linecap="round"/>
<line x1="654.5" y1="672.0" x2="652.0" y2="670.1" stroke="#f0f0f0" stroke-width="1.5" stroke-linecap="round"/>
<line x1="654.5" y1="672.0" x2="656.6" y2="670.2" stroke="#f0f0f0" stroke-width="1.5" stroke-linecap="round"/>
<line x1="689.5" y1="664.1" x2="687.7" y2="661.5" stroke="#a8a8a8" stroke-width="1.5" stroke-linecap="round"/>
<line x1="689.5" y1="664.1" x2="692.4" y2="662.2" stroke="#f0f0f0" stroke-width="1.5" stroke-linecap="round"/>
<line x1="689.5" y1="664.1" x2="690.5" y2="666.8" stroke="#f0f0f0" stroke-width="1.5" stroke-linecap="round"/>
<line x1="689.5" y1="664.1" x2="686.9" y2="666.4" stroke="#f0f0f0" stroke-width="1.5" stroke-linecap="round"/>
<line x1="702.6" y1="620.6" x2="702.3" y2="617.3" stroke="#a8a8a8" stroke-width="1.5" stroke-linecap="round"/>
<line x1="702.6" y1="620.6" x2="706.0" y2="620.8" stroke="#f0f0f0" stroke-width="1.5" stroke-linecap="round"/>
<line x1="702.6" y1="620.6" x2="703.9" y2="623.5" stroke="#f0f0f0" stroke-width="1.5" stroke-linecap="round"/>
<line x1="702.6" y1="620.6" x2="699.6" y2="621.2" stroke="#f0f0f0" stroke-width="1.5" stroke-linecap="round"/>
<line x1="652.1" y1="626.7" x2="651.0" y2="629.6" stroke="#a8a8a8" stroke-width="1.5" stroke-linecap="round"/>
<line x1="652.1" y1="626.7" x2="649.4" y2="626.5" stroke="#f0f0f0" stroke-width="1.5" stroke-linecap="round"/>
<line x1="652.1" y1="626.7" x2="652.5" y2="624.0" stroke="#f0f0f0" stroke-width="1.5" stroke-linecap="round"/>
<line x1="652.1" y1="626.7" x2="654.7" y2="627.3" stroke="#f0f0f0" stroke-width="1.5" stroke-linecap="round"/>
<line x1="704.3" y1="660.9" x2="707.0" y2="662.2" stroke="#e81010" stroke-width="1.6" stroke-linecap="round"/>
<line x1="704.3" y1="660.9" x2="706.7" y2="662.7" stroke="#e81010" stroke-width="1.6" stroke-linecap="round"/>
<line x1="704.3" y1="660.9" x2="703.4" y2="658.0" stroke="#e81010" stroke-width="1.6" stroke-linecap="round"/>
<line x1="704.3" y1="660.9" x2="706.5" y2="662.9" stroke="#e81010" stroke-width="1.6" stroke-linecap="round"/>
<circle cx="704.3" cy="660.9" r="1.2" fill="#e8d800"/>
<line x1="712.6" y1="595.0" x2="712.9" y2="592.3" stroke="#a8a8a8" stroke-width="1.5" stroke-linecap="round"/>
<line x1="712.6" y1="595.0" x2="715.8" y2="596.2" stroke="#f0f0f0" stroke-width="1.5" stroke-linecap="round"/>
<line x1="712.6" y1="595.0" x2="712.9" y2="597.7" stroke="#f0f0f0" stroke-width="1.5" stroke-linecap="round"/>
<line x1="712.6" y1="595.0" x2="709.2" y2="594.5" stroke="#f0f0f0" stroke-width="1.5" stroke-linecap="round"/>
<line x1="674.5" y1="653.6" x2="673.3" y2="650.5" stroke="#a8a8a8" stroke-width="1.5" stroke-linecap="round"/>
<line x1="674.5" y1="653.6" x2="677.2" y2="652.7" stroke="#f0f0f0" stroke-width="1.5" stroke-linecap="round"/>
<line x1="674.5" y1="653.6" x2="674.7" y2="657.0" stroke="#f0f0f0" stroke-width="1.5" stroke-linecap="round"/>
<line x1="674.5" y1="653.6" x2="671.4" y2="653.6" stroke="#f0f0f0" stroke-width="1.5" stroke-linecap="round"/>
<line x1="651.9" y1="644.3" x2="651.2" y2="641.0" stroke="#a8a8a8" stroke-width="1.5" stroke-linecap="round"/>
<line x1="651.9" y1="644.3" x2="654.5" y2="644.1" stroke="#f0f0f0" stroke-width="1.5" stroke-linecap="round"/>
<line x1="651.9" y1="644.3" x2="653.0" y2="647.4" stroke="#f0f0f0" stroke-width="1.5" stroke-linecap="round"/>
<line x1="651.9" y1="644.3" x2="649.4" y2="645.5" stroke="#f0f0f0" stroke-width="1.5" stroke-linecap="round"/>
<line x1="685.9" y1="664.1" x2="683.3" y2="662.6" stroke="#e81010" stroke-width="1.6" stroke-linecap="round"/>
<line x1="685.9" y1="664.1" x2="688.7" y2="663.0" stroke="#e81010" stroke-width="1.6" stroke-linecap="round"/>
<line x1="685.9" y1="664.1" x2="688.9" y2="663.6" stroke="#e81010" stroke-width="1.6" stroke-linecap="round"/>
<line x1="685.9" y1="664.1" x2="687.9" y2="666.4" stroke="#e81010" stroke-width="1.6" stroke-linecap="round"/>
<circle cx="685.9" cy="664.1" r="1.2" fill="#e8d800"/>
<line x1="649.9" y1="616.5" x2="647.2" y2="617.7" stroke="#a8a8a8" stroke-width="1.5" stroke-linecap="round"/>
<line x1="649.9" y1="616.5" x2="649.0" y2="613.0" stroke="#f0f0f0" stroke-width="1.5" stroke-linecap="round"/>
<line x1="649.9" y1="616.5" x2="652.2" y2="614.2" stroke="#f0f0f0" stroke-width="1.5" stroke-linecap="round"/>
<line x1="649.9" y1="616.5" x2="651.6" y2="618.4" stroke="#f0f0f0" stroke-width="1.5" stroke-linecap="round"/>
<line x1="651.9" y1="683.4" x2="652.4" y2="680.8" stroke="#a8a8a8" stroke-width="1.5" stroke-linecap="round"/>
<line x1="651.9" y1="683.4" x2="654.4" y2="682.9" stroke="#f0f0f0" stroke-width="1.5" stroke-linecap="round"/>
<line x1="651.9" y1="683.4" x2="652.2" y2="686.4" stroke="#f0f0f0" stroke-width="1.5" stroke-linecap="round"/>
<line x1="651.9" y1="683.4" x2="649.1" y2="684.0" stroke="#f0f0f0" stroke-width="1.5" stroke-linecap="round"/>
<line x1="715.3" y1="634.8" x2="716.5" y2="632.1" stroke="#a8a8a8" stroke-width="1.5" stroke-linecap="round"/>
<line x1="715.3" y1="634.8" x2="718.0" y2="636.8" stroke="#f0f0f0" stroke-width="1.5" stroke-linecap="round"/>
<line x1="715.3" y1="634.8" x2="713.1" y2="636.7" stroke="#f0f0f0" stroke-width="1.5" stroke-linecap="round"/>
<line x1="715.3" y1="634.8" x2="712.9" y2="632.9" stroke="#f0f0f0" stroke-width="1.5" stroke-linecap="round"/>
<line x1="685.7" y1="641.0" x2="687.7" y2="642.7" stroke="#a8a8a8" stroke-width="1.5" stroke-linecap="round"/>
<line x1="685.7" y1="641.0" x2="683.1" y2="642.0" stroke="#f0f0f0" stroke-width="1.5" stroke-linecap="round"/>
<line x1="685.7" y1="641.0" x2="684.1" y2="638.9" stroke="#f0f0f0" stroke-width="1.5" stroke-linecap="round"/>
<line x1="685.7" y1="641.0" x2="687.6" y2="639.2" stroke="#f0f0f0" stroke-width="1.5" stroke-linecap="round"/>
<line x1="684.9" y1="632.6" x2="686.5" y2="634.9" stroke="#a8a8a8" stroke-width="1.5" stroke-linecap="round"/>
<line x1="684.9" y1="632.6" x2="682.9" y2="634.8" stroke="#f0f0f0" stroke-width="1.5" stroke-linecap="round"/>
<line x1="684.9" y1="632.6" x2="683.0" y2="630.6" stroke="#f0f0f0" stroke-width="1.5" stroke-linecap="round"/>
<line x1="684.9" y1="632.6" x2="686.5" y2="630.5" stroke="#f0f0f0" stroke-width="1.5" stroke-linecap="round"/>
<line x1="666.6" y1="605.4" x2="666.2" y2="608.1" stroke="#a8a8a8" stroke-width="1.5" stroke-linecap="round"/>
<line x1="666.6" y1="605.4" x2="663.2" y2="604.2" stroke="#f0f0f0" stroke-width="1.5" stroke-linecap="round"/>
<line x1="666.6" y1="605.4" x2="667.2" y2="602.0" stroke="#f0f0f0" stroke-width="1.5" stroke-linecap="round"/>
<line x1="666.6" y1="605.4" x2="669.3" y2="606.5" stroke="#f0f0f0" stroke-width="1.5" stroke-linecap="round"/>
<line x1="656.0" y1="680.8" x2="654.2" y2="683.2" stroke="#a8a8a8" stroke-width="1.5" stroke-linecap="round"/>
<line x1="656.0" y1="680.8" x2="654.4" y2="678.1" stroke="#f0f0f0" stroke-width="1.5" stroke-linecap="round"/>
<line x1="656.0" y1="680.8" x2="658.5" y2="678.3" stroke="#f0f0f0" stroke-width="1.5" stroke-linecap="round"/>
<line x1="656.0" y1="680.8" x2="657.6" y2="684.0" stroke="#f0f0f0" stroke-width="1.5" stroke-linecap="round"/>
<line x1="696.4" y1="639.7" x2="698.0" y2="637.6" stroke="#a8a8a8" stroke-width="1.5" stroke-linecap="round"/>
<line x1="696.4" y1="639.7" x2="699.0" y2="640.3" stroke="#f0f0f0" stroke-width="1.5" stroke-linecap="round"/>
<line x1="696.4" y1="639.7" x2="695.6" y2="642.1" stroke="#f0f0f0" stroke-width="1.5" stroke-linecap="round"/>
<line x1="696.4" y1="639.7" x2="693.3" y2="638.3" stroke="#f0f0f0" stroke-width="1.5" stroke-linecap="round"/>
<line x1="670.7" y1="639.6" x2="668.0" y2="640.2" stroke="#a8a8a8" stroke-width="1.5" stroke-linecap="round"/>
<line x1="670.7" y1="639.6" x2="671.5" y2="637.3" stroke="#f0f0f0" stroke-width="1.5" stroke-linecap="round"/>
<line x1="670.7" y1="639.6" x2="674.0" y2="640.0" stroke="#f0f0f0" stroke-width="1.5" stroke-linecap="round"/>
<line x1="670.7" y1="639.6" x2="669.8" y2="642.8" stroke="#f0f0f0" stroke-width="1.5" stroke-linecap="round"/>
<line x1="690.1" y1="621.3" x2="691.8" y2="618.4" stroke="#a8a8a8" stroke-width="1.5" stroke-linecap="round"/>
<line x1="690.1" y1="621.3" x2="692.2" y2="622.8" stroke="#f0f0f0" stroke-width="1.5" stroke-linecap="round"/>
<line x1="690.1" y1="621.3" x2="688.4" y2="623.7" stroke="#f0f0f0" stroke-width="1.5" stroke-linecap="round"/>
<line x1="690.1" y1="621.3" x2="687.6" y2="620.0" stroke="#f0f0f0" stroke-width="1.5" stroke-linecap="round"/>
<line x1="684.7" y1="644.2" x2="687.4" y2="644.8" stroke="#a8a8a8" stroke-width="1.5" stroke-linecap="round"/>
<line x1="684.7" y1="644.2" x2="684.5" y2="647.1" stroke="#f0f0f0" stroke-width="1.5" stroke-linecap="round"/>
<line x1="684.7" y1="644.2" x2="681.4" y2="643.4" stroke="#f0f0f0" stroke-width="1.5" stroke-linecap="round"/>
<line x1="684.7" y1="644.2" x2="684.9" y2="641.0" stroke="#f0f0f0" stroke-width="1.5" stroke-linecap="round"/>
<line x1="652.4" y1="617.5" x2="651.2" y2="620.1" stroke="#a8a8a8" stroke-width="1.5" stroke-linecap="round"/>
<line x1="652.4" y1="617.5" x2="649.5" y2="617.7" stroke="#f0f0f0" stroke-width="1.5" stroke-linecap="round"/>
<line x1="652.4" y1="617.5" x2="653.3" y2="615.0" stroke="#f0f0f0" stroke-width="1.5" stroke-linecap="round"/>
<line x1="652.4" y1="617.5" x2="655.3" y2="618.6" stroke="#f0f0f0" stroke-width="1.5" stroke-linecap="round"/>
<line x1="643.8" y1="610.4" x2="645.5" y2="612.5" stroke="#a8a8a8" stroke-width="1.5" stroke-linecap="round"/>
<line x1="643.8" y1="610.4" x2="641.3" y2="612.0" stroke="#f0f0f0" stroke-width="1.5" stroke-linecap="round"/>
<line x1="643.8" y1="610.4" x2="641.8" y2="608.2" stroke="#f0f0f0" stroke-width="1.5" stroke-linecap="round"/>
<line x1="643.8" y1="610.4" x2="646.3" y2="609.0" stroke="#f0f0f0" stroke-width="1.5" stroke-linecap="round"/>
<line x1="668.9" y1="622.2" x2="672.0" y2="620.6" stroke="#a8a8a8" stroke-width="1.5" stroke-linecap="round"/>
<line x1="668.9" y1="622.2" x2="670.2" y2="625.2" stroke="#f0f0f0" stroke-width="1.5" stroke-linecap="round"/>
<line x1="668.9" y1="622.2" x2="665.8" y2="624.0" stroke="#f0f0f0" stroke-width="1.5" stroke-linecap="round"/>
<line x1="668.9" y1="622.2" x2="667.7" y2="618.8" stroke="#f0f0f0" stroke-width="1.5" stroke-linecap="round"/>
<line x1="656.8" y1="640.5" x2="654.3" y2="642.2" stroke="#e0e0e0" stroke-width="1.5" stroke-linecap="round"/>
<line x1="656.8" y1="640.5" x2="656.0" y2="637.6" stroke="#e0e0e0" stroke-width="1.5" stroke-linecap="round"/>
<line x1="656.8" y1="640.5" x2="658.1" y2="643.2" stroke="#e0e0e0" stroke-width="1.5" stroke-linecap="round"/>
<circle cx="656.8" cy="640.5" r="1.2" fill="#2040e0"/>
<line x1="716.6" y1="640.0" x2="715.3" y2="637.3" stroke="#e0e0e0" stroke-width="1.5" stroke-linecap="round"/>
<line x1="716.6" y1="640.0" x2="719.4" y2="639.0" stroke="#e0e0e0" stroke-width="1.5" stroke-linecap="round"/>
<line x1="716.6" y1="640.0" x2="715.3" y2="642.7" stroke="#e0e0e0" stroke-width="1.5" stroke-linecap="round"/>
<circle cx="716.6" cy="640.0" r="1.2" fill="#2040e0"/>
<line x1="673.2" y1="622.1" x2="671.3" y2="624.5" stroke="#e0e0e0" stroke-width="1.5" stroke-linecap="round"/>
<line x1="673.2" y1="622.1" x2="676.2" y2="621.9" stroke="#e0e0e0" stroke-width="1.5" stroke-linecap="round"/>
<line x1="673.2" y1="622.1" x2="675.0" y2="624.5" stroke="#e0e0e0" stroke-width="1.5" stroke-linecap="round"/>
<circle cx="673.2" cy="622.1" r="1.2" fill="#2040e0"/>
<line x1="673.6" y1="661.6" x2="671.5" y2="663.4" stroke="#a8a8a8" stroke-width="1.5" stroke-linecap="round"/>
<line x1="673.6" y1="661.6" x2="671.4" y2="659.0" stroke="#f0f0f0" stroke-width="1.5" stroke-linecap="round"/>
<line x1="673.6" y1="661.6" x2="676.3" y2="660.0" stroke="#f0f0f0" stroke-width="1.5" stroke-linecap="round"/>
<line x1="673.6" y1="661.6" x2="675.7" y2="663.9" stroke="#f0f0f0" stroke-width="1.5" stroke-linecap="round"/>
<line x1="664.5" y1="608.3" x2="666.1" y2="605.7" stroke="#e81010" stroke-width="1.6" stroke-linecap="round"/>
<line x1="664.5" y1="608.3" x2="663.4" y2="605.5" stroke="#e81010" stroke-width="1.6" stroke-linecap="round"/>
<line x1="664.5" y1="608.3" x2="661.7" y2="609.2" stroke="#e81010" stroke-width="1.6" stroke-linecap="round"/>
<line x1="664.5" y1="608.3" x2="663.0" y2="605.7" stroke="#e81010" stroke-width="1.6" stroke-linecap="round"/>
<circle cx="664.5" cy="608.3" r="1.2" fill="#e8d800"/>
<line x1="634.8" y1="609.3" x2="632.8" y2="611.8" stroke="#a8a8a8" stroke-width="1.5" stroke-linecap="round"/>
<line x1="634.8" y1="609.3" x2="632.8" y2="606.9" stroke="#f0f0f0" stroke-width="1.5" stroke-linecap="round"/>
<line x1="634.8" y1="609.3" x2="636.5" y2="606.6" stroke="#f0f0f0" stroke-width="1.5" stroke-linecap="round"/>
<line x1="634.8" y1="609.3" x2="636.9" y2="611.6" stroke="#f0f0f0" stroke-width="1.5" stroke-linecap="round"/>
<line x1="630.5" y1="666.5" x2="632.9" y2="664.7" stroke="#a8a8a8" stroke-width="1.5" stroke-linecap="round"/>
<line x1="630.5" y1="666.5" x2="630.9" y2="669.8" stroke="#f0f0f0" stroke-width="1.5" stroke-linecap="round"/>
<line x1="630.5" y1="666.5" x2="627.6" y2="668.2" stroke="#f0f0f0" stroke-width="1.5" stroke-linecap="round"/>
<line x1="630.5" y1="666.5" x2="630.1" y2="663.6" stroke="#f0f0f0" stroke-width="1.5" stroke-linecap="round"/>
<line x1="690.1" y1="631.8" x2="691.6" y2="634.5" stroke="#a8a8a8" stroke-width="1.5" stroke-linecap="round"/>
<line x1="690.1" y1="631.8" x2="688.1" y2="634.6" stroke="#f0f0f0" stroke-width="1.5" stroke-linecap="round"/>
<line x1="690.1" y1="631.8" x2="687.9" y2="629.1" stroke="#f0f0f0" stroke-width="1.5" stroke-linecap="round"/>
<line x1="690.1" y1="631.8" x2="693.0" y2="630.0" stroke="#f0f0f0" stroke-width="1.5" stroke-linecap="round"/>
<line x1="727.9" y1="620.9" x2="731.2" y2="619.9" stroke="#a8a8a8" stroke-width="1.5" stroke-linecap="round"/>
<line x1="727.9" y1="620.9" x2="727.7" y2="623.7" stroke="#f0f0f0" stroke-width="1.5" stroke-linecap="round"/>
<line x1="727.9" y1="620.9" x2="724.9" y2="620.5" stroke="#f0f0f0" stroke-width="1.5" stroke-linecap="round"/>
<line x1="727.9" y1="620.9" x2="727.9" y2="617.5" stroke="#f0f0f0" stroke-width="1.5" stroke-linecap="round"/>
<line x1="703.8" y1="658.8" x2="703.2" y2="661.7" stroke="#e0e0e0" stroke-width="1.5" stroke-linecap="round"/>
<line x1="703.8" y1="658.8" x2="701.9" y2="656.4" stroke="#e0e0e0" stroke-width="1.5" stroke-linecap="round"/>
<line x1="703.8" y1="658.8" x2="706.4" y2="660.1" stroke="#e0e0e0" stroke-width="1.5" stroke-linecap="round"/>
<circle cx="703.8" cy="658.8" r="1.2" fill="#2040e0"/>
<line x1="646.3" y1="661.5" x2="646.9" y2="658.8" stroke="#a8a8a8" stroke-width="1.5" stroke-linecap="round"/>
<line x1="646.3" y1="661.5" x2="649.4" y2="662.9" stroke="#f0f0f0" stroke-width="1.5" stroke-linecap="round"/>
<line x1="646.3" y1="661.5" x2="645.1" y2="664.4" stroke="#f0f0f0" stroke-width="1.5" stroke-linecap="round"/>
<line x1="646.3" y1="661.5" x2="643.3" y2="660.0" stroke="#f0f0f0" stroke-width="1.5" stroke-linecap="round"/>
<line x1="722.3" y1="606.2" x2="720.3" y2="608.4" stroke="#e81010" stroke-width="1.6" stroke-linecap="round"/>
<line x1="722.3" y1="606.2" x2="724.7" y2="607.9" stroke="#e81010" stroke-width="1.6" stroke-linecap="round"/>
<line x1="722.3" y1="606.2" x2="725.2" y2="606.9" stroke="#e81010" stroke-width="1.6" stroke-linecap="round"/>
<line x1="722.3" y1="606.2" x2="720.6" y2="608.7" stroke="#e81010" stroke-width="1.6" stroke-linecap="round"/>
<circle cx="722.3" cy="606.2" r="1.2" fill="#e8d800"/>
<line x1="713.9" y1="628.1" x2="714.7" y2="625.5" stroke="#a8a8a8" stroke-width="1.5" stroke-linecap="round"/>
<line x1="713.9" y1="628.1" x2="716.9" y2="629.6" stroke="#f0f0f0" stroke-width="1.5" stroke-linecap="round"/>
<line x1="713.9" y1="628.1" x2="711.9" y2="631.0" stroke="#f0f0f0" stroke-width="1.5" stroke-linecap="round"/>
<line x1="713.9" y1="628.1" x2="710.4" y2="627.1" stroke="#f0f0f0" stroke-width="1.5" stroke-linecap="round"/>
<line x1="664.5" y1="623.7" x2="662.5" y2="621.5" stroke="#e0e0e0" stroke-width="1.5" stroke-linecap="round"/>
<line x1="664.5" y1="623.7" x2="666.7" y2="621.6" stroke="#e0e0e0" stroke-width="1.5" stroke-linecap="round"/>
<line x1="664.5" y1="623.7" x2="664.1" y2="620.7" stroke="#e0e0e0" stroke-width="1.5" stroke-linecap="round"/>
<circle cx="664.5" cy="623.7" r="1.2" fill="#2040e0"/>
<line x1="666.9" y1="590.9" x2="665.4" y2="588.3" stroke="#e0e0e0" stroke-width="1.5" stroke-linecap="round"/>
<line x1="666.9" y1="590.9" x2="664.2" y2="592.1" stroke="#e0e0e0" stroke-width="1.5" stroke-linecap="round"/>
<line x1="666.9" y1="590.9" x2="669.9" y2="591.2" stroke="#e0e0e0" stroke-width="1.5" stroke-linecap="round"/>
<circle cx="666.9" cy="590.9" r="1.2" fill="#2040e0"/>
<line x1="643.8" y1="606.0" x2="642.4" y2="608.5" stroke="#a8a8a8" stroke-width="1.5" stroke-linecap="round"/>
<line x1="643.8" y1="606.0" x2="640.9" y2="604.5" stroke="#f0f0f0" stroke-width="1.5" stroke-linecap="round"/>
<line x1="643.8" y1="606.0" x2="644.3" y2="603.4" stroke="#f0f0f0" stroke-width="1.5" stroke-linecap="round"/>
<line x1="643.8" y1="606.0" x2="646.4" y2="607.5" stroke="#f0f0f0" stroke-width="1.5" stroke-linecap="round"/>
<line x1="619.1" y1="627.4" x2="621.4" y2="629.4" stroke="#e81010" stroke-width="1.6" stroke-linecap="round"/>
<line x1="619.1" y1="627.4" x2="621.9" y2="626.4" stroke="#e81010" stroke-width="1.6" stroke-linecap="round"/>
<line x1="619.1" y1="627.4" x2="616.8" y2="625.5" stroke="#e81010" stroke-width="1.6" stroke-linecap="round"/>
<line x1="619.1" y1="627.4" x2="617.3" y2="629.8" stroke="#e81010" stroke-width="1.6" stroke-linecap="round"/>
<circle cx="619.1" cy="627.4" r="1.2" fill="#e8d800"/>
<line x1="697.5" y1="619.1" x2="700.5" y2="619.0" stroke="#e0e0e0" stroke-width="1.5" stroke-linecap="round"/>
<line x1="697.5" y1="619.1" x2="696.5" y2="616.3" stroke="#e0e0e0" stroke-width="1.5" stroke-linecap="round"/>
<line x1="697.5" y1="619.1" x2="697.3" y2="616.1" stroke="#e0e0e0" stroke-width="1.5" stroke-linecap="round"/>
<circle cx="697.5" cy="619.1" r="1.2" fill="#2040e0"/>
<line x1="710.0" y1="651.9" x2="709.2" y2="654.4" stroke="#a8a8a8" stroke-width="1.5" stroke-linecap="round"/>
<line x1="710.0" y1="651.9" x2="707.3" y2="650.6" stroke="#f0f0f0" stroke-width="1.5" stroke-linecap="round"/>
<line x1="710.0" y1="651.9" x2="711.6" y2="649.4" stroke="#f0f0f0" stroke-width="1.5" stroke-linecap="round"/>
<line x1="710.0" y1="651.9" x2="712.9" y2="652.9" stroke="#f0f0f0" stroke-width="1.5" stroke-linecap="round"/>
<line x1="622.4" y1="624.2" x2="620.6" y2="626.3" stroke="#a8a8a8" stroke-width="1.5" stroke-linecap="round"/>
<line x1="622.4" y1="624.2" x2="620.2" y2="622.5" stroke="#f0f0f0" stroke-width="1.5" stroke-linecap="round"/>
<line x1="622.4" y1="624.2" x2="624.5" y2="622.3" stroke="#f0f0f0" stroke-width="1.5" stroke-linecap="round"/>
<line x1="622.4" y1="624.2" x2="624.6" y2="626.6" stroke="#f0f0f0" stroke-width="1.5" stroke-linecap="round"/>
<line x1="669.8" y1="638.5" x2="672.8" y2="636.9" stroke="#a8a8a8" stroke-width="1.5" stroke-linecap="round"/>
<line x1="669.8" y1="638.5" x2="670.9" y2="641.3" stroke="#f0f0f0" stroke-width="1.5" stroke-linecap="round"/>
<line x1="669.8" y1="638.5" x2="667.5" y2="640.3" stroke="#f0f0f0" stroke-width="1.5" stroke-linecap="round"/>
<line x1="669.8" y1="638.5" x2="668.3" y2="635.9" stroke="#f0f0f0" stroke-width="1.5" stroke-linecap="round"/>
<line x1="682.5" y1="629.2" x2="681.3" y2="632.2" stroke="#a8a8a8" stroke-width="1.5" stroke-linecap="round"/>
<line x1="682.5" y1="629.2" x2="679.6" y2="628.9" stroke="#f0f0f0" stroke-width="1.5" stroke-linecap="round"/>
<line x1="682.5" y1="629.2" x2="682.7" y2="625.7" stroke="#f0f0f0" stroke-width="1.5" stroke-linecap="round"/>
<line x1="682.5" y1="629.2" x2="685.5" y2="629.6" stroke="#f0f0f0" stroke-width="1.5" stroke-linecap="round"/>
<line x1="684.5" y1="622.8" x2="686.4" y2="620.3" stroke="#a8a8a8" stroke-width="1.5" stroke-linecap="round"/>
<line x1="684.5" y1="622.8" x2="686.8" y2="624.0" stroke="#f0f0f0" stroke-width="1.5" stroke-linecap="round"/>
<line x1="684.5" y1="622.8" x2="682.9" y2="624.8" stroke="#f0f0f0" stroke-width="1.5" stroke-linecap="round"/>
<line x1="684.5" y1="622.8" x2="681.8" y2="621.8" stroke="#f0f0f0" stroke-width="1.5" stroke-linecap="round"/>
<line x1="647.3" y1="677.3" x2="645.4" y2="674.4" stroke="#a8a8a8" stroke-width="1.5" stroke-linecap="round"/>
<line x1="647.3" y1="677.3" x2="649.8" y2="676.7" stroke="#f0f0f0" stroke-width="1.5" stroke-linecap="round"/>
<line x1="647.3" y1="677.3" x2="648.6" y2="680.0" stroke="#f0f0f0" stroke-width="1.5" stroke-linecap="round"/>
<line x1="647.3" y1="677.3" x2="644.8" y2="679.0" stroke="#f0f0f0" stroke-width="1.5" stroke-linecap="round"/>
<line x1="690.3" y1="649.4" x2="688.8" y2="646.1" stroke="#a8a8a8" stroke-width="1.5" stroke-linecap="round"/>
<line x1="690.3" y1="649.4" x2="693.8" y2="648.6" stroke="#f0f0f0" stroke-width="1.5" stroke-linecap="round"/>
<line x1="690.3" y1="649.4" x2="692.1" y2="652.3" stroke="#f0f0f0" stroke-width="1.5" stroke-linecap="round"/>
<line x1="690.3" y1="649.4" x2="687.3" y2="650.7" stroke="#f0f0f0" stroke-width="1.5" stroke-linecap="round"/>
<line x1="623.5" y1="633.7" x2="626.2" y2="634.8" stroke="#a8a8a8" stroke-width="1.5" stroke-linecap="round"/>
<line x1="623.5" y1="633.7" x2="622.1" y2="636.1" stroke="#f0f0f0" stroke-width="1.5" stroke-linecap="round"/>
<line x1="623.5" y1="633.7" x2="621.4" y2="631.9" stroke="#f0f0f0" stroke-width="1.5" stroke-linecap="round"/>
<line x1="623.5" y1="633.7" x2="624.3" y2="631.2" stroke="#f0f0f0" stroke-width="1.5" stroke-linecap="round"/>
<line x1="706.0" y1="604.5" x2="705.2" y2="602.0" stroke="#a8a8a8" stroke-width="1.5" stroke-linecap="round"/>
<line x1="706.0" y1="604.5" x2="709.2" y2="604.7" stroke="#f0f0f0" stroke-width="1.5" stroke-linecap="round"/>
<line x1="706.0" y1="604.5" x2="705.8" y2="607.3" stroke="#f0f0f0" stroke-width="1.5" stroke-linecap="round"/>
<line x1="706.0" y1="604.5" x2="702.7" y2="604.1" stroke="#f0f0f0" stroke-width="1.5" stroke-linecap="round"/>
<line x1="715.5" y1="627.9" x2="717.4" y2="629.6" stroke="#a8a8a8" stroke-width="1.5" stroke-linecap="round"/>
<line x1="715.5" y1="627.9" x2="712.6" y2="629.9" stroke="#f0f0f0" stroke-width="1.5" stroke-linecap="round"/>
<line x1="715.5" y1="627.9" x2="714.2" y2="625.8" stroke="#f0f0f0" stroke-width="1.5" stroke-linecap="round"/>
<line x1="715.5" y1="627.9" x2="717.4" y2="625.5" stroke="#f0f0f0" stroke-width="1.5" stroke-linecap="round"/>
<line x1="691.8" y1="634.5" x2="693.6" y2="636.7" stroke="#a8a8a8" stroke-width="1.5" stroke-linecap="round"/>
<line x1="691.8" y1="634.5" x2="690.1" y2="636.6" stroke="#f0f0f0" stroke-width="1.5" stroke-linecap="round"/>
<line x1="691.8" y1="634.5" x2="689.8" y2="632.8" stroke="#f0f0f0" stroke-width="1.5" stroke-linecap="round"/>
<line x1="691.8" y1="634.5" x2="693.1" y2="631.8" stroke="#f0f0f0" stroke-width="1.5" stroke-linecap="round"/>
<line x1="685.5" y1="669.2" x2="685.5" y2="666.2" stroke="#a8a8a8" stroke-width="1.5" stroke-linecap="round"/>
<line x1="685.5" y1="669.2" x2="688.2" y2="668.9" stroke="#f0f0f0" stroke-width="1.5" stroke-linecap="round"/>
<line x1="685.5" y1="669.2" x2="685.0" y2="672.3" stroke="#f0f0f0" stroke-width="1.5" stroke-linecap="round"/>
<line x1="685.5" y1="669.2" x2="682.1" y2="668.7" stroke="#f0f0f0" stroke-width="1.5" stroke-linecap="round"/>
<line x1="664.2" y1="678.5" x2="666.0" y2="676.1" stroke="#e81010" stroke-width="1.6" stroke-linecap="round"/>
<line x1="664.2" y1="678.5" x2="665.9" y2="681.0" stroke="#e81010" stroke-width="1.6" stroke-linecap="round"/>
<line x1="664.2" y1="678.5" x2="667.2" y2="678.0" stroke="#e81010" stroke-width="1.6" stroke-linecap="round"/>
<line x1="664.2" y1="678.5" x2="661.2" y2="678.1" stroke="#e81010" stroke-width="1.6" stroke-linecap="round"/>
<circle cx="664.2" cy="678.5" r="1.2" fill="#e8d800"/>
<line x1="651.3" y1="613.9" x2="649.1" y2="611.0" stroke="#a8a8a8" stroke-width="1.5" stroke-linecap="round"/>
<line x1="651.3" y1="613.9" x2="652.8" y2="611.9" stroke="#f0f0f0" stroke-width="1.5" stroke-linecap="round"/>
<line x1="651.3" y1="613.9" x2="654.2" y2="615.5" stroke="#f0f0f0" stroke-width="1.5" stroke-linecap="round"/>
<line x1="651.3" y1="613.9" x2="648.8" y2="616.0" stroke="#f0f0f0" stroke-width="1.5" stroke-linecap="round"/>
<line x1="702.3" y1="610.4" x2="699.4" y2="609.8" stroke="#e81010" stroke-width="1.6" stroke-linecap="round"/>
<line x1="702.3" y1="610.4" x2="705.3" y2="610.9" stroke="#e81010" stroke-width="1.6" stroke-linecap="round"/>
<line x1="702.3" y1="610.4" x2="704.6" y2="612.3" stroke="#e81010" stroke-width="1.6" stroke-linecap="round"/>
<line x1="702.3" y1="610.4" x2="701.4" y2="613.2" stroke="#e81010" stroke-width="1.6" stroke-linecap="round"/>
<circle cx="702.3" cy="610.4" r="1.2" fill="#e8d800"/>
<line x1="665.3" y1="661.5" x2="664.2" y2="659.2" stroke="#a8a8a8" stroke-width="1.5" stroke-linecap="round"/>
<line x1="665.3" y1="661.5" x2="667.3" y2="659.8" stroke="#f0f0f0" stroke-width="1.5" stroke-linecap="round"/>
<line x1="665.3" y1="661.5" x2="667.2" y2="663.3" stroke="#f0f0f0" stroke-width="1.5" stroke-linecap="round"/>
<line x1="665.3" y1="661.5" x2="662.7" y2="662.7" stroke="#f0f0f0" stroke-width="1.5" stroke-linecap="round"/>
<line x1="695.3" y1="686.8" x2="694.0" y2="683.5" stroke="#a8a8a8" stroke-width="1.5" stroke-linecap="round"/>
<line x1="695.3" y1="686.8" x2="697.9" y2="685.2" stroke="#f0f0f0" stroke-width="1.5" stroke-linecap="round"/>
<line x1="695.3" y1="686.8" x2="696.3" y2="689.6" stroke="#f0f0f0" stroke-width="1.5" stroke-linecap="round"/>
<line x1="695.3" y1="686.8" x2="692.8" y2="689.0" stroke="#f0f0f0" stroke-width="1.5" stroke-linecap="round"/>
<line x1="718.9" y1="631.8" x2="716.8" y2="634.0" stroke="#e0e0e0" stroke-width="1.5" stroke-linecap="round"/>
<line x1="718.9" y1="631.8" x2="716.2" y2="633.1" stroke="#e0e0e0" stroke-width="1.5" stroke-linecap="round"/>
<line x1="718.9" y1="631.8" x2="715.9" y2="632.2" stroke="#e0e0e0" stroke-width="1.5" stroke-linecap="round"/>
<circle cx="718.9" cy="631.8" r="1.2" fill="#2040e0"/>
<line x1="657.5" y1="630.3" x2="655.2" y2="631.5" stroke="#a8a8a8" stroke-width="1.5" stroke-linecap="round"/>
<line x1="657.5" y1="630.3" x2="656.9" y2="627.8" stroke="#f0f0f0" stroke-width="1.5" stroke-linecap="round"/>
<line x1="657.5" y1="630.3" x2="660.3" y2="629.0" stroke="#f0f0f0" stroke-width="1.5" stroke-linecap="round"/>
<line x1="657.5" y1="630.3" x2="658.8" y2="632.7" stroke="#f0f0f0" stroke-width="1.5" stroke-linecap="round"/>
<line x1="638.6" y1="631.1" x2="636.5" y2="633.3" stroke="#e81010" stroke-width="1.6" stroke-linecap="round"/>
<line x1="638.6" y1="631.1" x2="637.4" y2="633.9" stroke="#e81010" stroke-width="1.6" stroke-linecap="round"/>
<line x1="638.6" y1="631.1" x2="635.6" y2="631.4" stroke="#e81010" stroke-width="1.6" stroke-linecap="round"/>
<line x1="638.6" y1="631.1" x2="638.9" y2="634.1" stroke="#e81010" stroke-width="1.6" stroke-linecap="round"/>
<circle cx="638.6" cy="631.1" r="1.2" fill="#e8d800"/>
<line x1="671.6" y1="634.2" x2="668.9" y2="635.3" stroke="#a8a8a8" stroke-width="1.5" stroke-linecap="round"/>
<line x1="671.6" y1="634.2" x2="672.1" y2="631.8" stroke="#f0f0f0" stroke-width="1.5" stroke-linecap="round"/>
<line x1="671.6" y1="634.2" x2="675.2" y2="634.1" stroke="#f0f0f0" stroke-width="1.5" stroke-linecap="round"/>
<line x1="671.6" y1="634.2" x2="672.1" y2="637.3" stroke="#f0f0f0" stroke-width="1.5" stroke-linecap="round"/>
<line x1="718.4" y1="632.0" x2="717.3" y2="634.9" stroke="#a8a8a8" stroke-width="1.5" stroke-linecap="round"/>
<line x1="718.4" y1="632.0" x2="715.5" y2="631.4" stroke="#f0f0f0" stroke-width="1.5" stroke-linecap="round"/>
<line x1="718.4" y1="632.0" x2="719.5" y2="628.9" stroke="#f0f0f0" stroke-width="1.5" stroke-linecap="round"/>
<line x1="718.4" y1="632.0" x2="721.0" y2="632.2" stroke="#f0f0f0" stroke-width="1.5" stroke-linecap="round"/>
<line x1="628.1" y1="665.2" x2="627.8" y2="668.2" stroke="#e0e0e0" stroke-width="1.5" stroke-linecap="round"/>
<line x1="628.1" y1="665.2" x2="629.0" y2="662.4" stroke="#e0e0e0" stroke-width="1.5" stroke-linecap="round"/>
<line x1="628.1" y1="665.2" x2="625.5" y2="666.6" stroke="#e0e0e0" stroke-width="1.5" stroke-linecap="round"/>
<circle cx="628.1" cy="665.2" r="1.2" fill="#2040e0"/>
<line x1="641.3" y1="626.4" x2="638.9" y2="628.6" stroke="#a8a8a8" stroke-width="1.5" stroke-linecap="round"/>
<line x1="641.3" y1="626.4" x2="638.6" y2="624.1" stroke="#f0f0f0" stroke-width="1.5" stroke-linecap="round"/>
<line x1="641.3" y1="626.4" x2="643.9" y2="625.3" stroke="#f0f0f0" stroke-width="1.5" stroke-linecap="round"/>
<line x1="641.3" y1="626.4" x2="643.6" y2="629.0" stroke="#f0f0f0" stroke-width="1.5" stroke-linecap="round"/>
<line x1="673.4" y1="629.1" x2="670.7" y2="627.1" stroke="#a8a8a8" stroke-width="1.5" stroke-linecap="round"/>
<line x1="673.4" y1="629.1" x2="675.3" y2="626.5" stroke="#f0f0f0" stroke-width="1.5" stroke-linecap="round"/>
<line x1="673.4" y1="629.1" x2="675.5" y2="631.9" stroke="#f0f0f0" stroke-width="1.5" stroke-linecap="round"/>
<line x1="673.4" y1="629.1" x2="671.3" y2="630.5" stroke="#f0f0f0" stroke-width="1.5" stroke-linecap="round"/>
<line x1="643.7" y1="631.5" x2="643.9" y2="629.0" stroke="#a8a8a8" stroke-width="1.5" stroke-linecap="round"/>
<line x1="643.7" y1="631.5" x2="646.6" y2="632.0" stroke="#f0f0f0" stroke-width="1.5" stroke-linecap="round"/>
<line x1="643.7" y1="631.5" x2="643.2" y2="635.1" stroke="#f0f0f0" stroke-width="1.5" stroke-linecap="round"/>
<line x1="643.7" y1="631.5" x2="641.2" y2="630.9" stroke="#f0f0f0" stroke-width="1.5" stroke-linecap="round"/>
<line x1="673.3" y1="667.1" x2="670.5" y2="667.8" stroke="#a8a8a8" stroke-width="1.5" stroke-linecap="round"/>
<line x1="673.3" y1="667.1" x2="672.2" y2="664.4" stroke="#f0f0f0" stroke-width="1.5" stroke-linecap="round"/>
<line x1="673.3" y1="667.1" x2="675.7" y2="665.5" stroke="#f0f0f0" stroke-width="1.5" stroke-linecap="round"/>
<line x1="673.3" y1="667.1" x2="673.9" y2="669.6" stroke="#f0f0f0" stroke-width="1.5" stroke-linecap="round"/>
<line x1="703.5" y1="657.8" x2="705.0" y2="655.2" stroke="#e81010" stroke-width="1.6" stroke-linecap="round"/>
<line x1="703.5" y1="657.8" x2="702.0" y2="655.2" stroke="#e81010" stroke-width="1.6" stroke-linecap="round"/>
<line x1="703.5" y1="657.8" x2="700.6" y2="656.9" stroke="#e81010" stroke-width="1.6" stroke-linecap="round"/>
<line x1="703.5" y1="657.8" x2="705.7" y2="659.7" stroke="#e81010" stroke-width="1.6" stroke-linecap="round"/>
<circle cx="703.5" cy="657.8" r="1.2" fill="#e8d800"/>
<line x1="648.4" y1="641.3" x2="647.3" y2="644.1" stroke="#e81010" stroke-width="1.6" stroke-linecap="round"/>
<line x1="648.4" y1="641.3" x2="651.3" y2="640.5" stroke="#e81010" stroke-width="1.6" stroke-linecap="round"/>
<line x1="648.4" y1="641.3" x2="645.7" y2="640.2" stroke="#e81010" stroke-width="1.6" stroke-linecap="round"/>
<line x1="648.4" y1="641.3" x2="651.1" y2="639.9" stroke="#e81010" stroke-width="1.6" stroke-linecap="round"/>
<circle cx="648.4" cy="641.3" r="1.2" fill="#e8d800"/>
<line x1="695.1" y1="671.5" x2="692.5" y2="673.1" stroke="#e0e0e0" stroke-width="1.5" stroke-linecap="round"/>
<line x1="695.1" y1="671.5" x2="692.1" y2="670.9" stroke="#e0e0e0" stroke-width="1.5" stroke-linecap="round"/>
<line x1="695.1" y1="671.5" x2="696.7" y2="669.0" stroke="#e0e0e0" stroke-width="1.5" stroke-linecap="round"/>
<circle cx="695.1" cy="671.5" r="1.2" fill="#2040e0"/>
<line x1="694.1" y1="631.8" x2="696.2" y2="629.7" stroke="#e81010" stroke-width="1.6" stroke-linecap="round"/>
<line x1="694.1" y1="631.8" x2="691.1" y2="632.3" stroke="#e81010" stroke-width="1.6" stroke-linecap="round"/>
<line x1="694.1" y1="631.8" x2="697.0" y2="632.4" stroke="#e81010" stroke-width="1.6" stroke-linecap="round"/>
<line x1="694.1" y1="631.8" x2="691.3" y2="633.1" stroke="#e81010" stroke-width="1.6" stroke-linecap="round"/>
<circle cx="694.1" cy="631.8" r="1.2" fill="#e8d800"/>
<line x1="679.3" y1="632.5" x2="678.7" y2="629.6" stroke="#a8a8a8" stroke-width="1.5" stroke-linecap="round"/>
<line x1="679.3" y1="632.5" x2="682.1" y2="631.5" stroke="#f0f0f0" stroke-width="1.5" stroke-linecap="round"/>
<line x1="679.3" y1="632.5" x2="680.1" y2="635.0" stroke="#f0f0f0" stroke-width="1.5" stroke-linecap="round"/>
<line x1="679.3" y1="632.5" x2="676.8" y2="633.4" stroke="#f0f0f0" stroke-width="1.5" stroke-linecap="round"/>
<line x1="686.4" y1="655.5" x2="687.5" y2="658.0" stroke="#a8a8a8" stroke-width="1.5" stroke-linecap="round"/>
<line x1="686.4" y1="655.5" x2="683.5" y2="656.7" stroke="#f0f0f0" stroke-width="1.5" stroke-linecap="round"/>
<line x1="686.4" y1="655.5" x2="685.6" y2="652.7" stroke="#f0f0f0" stroke-width="1.5" stroke-linecap="round"/>
<line x1="686.4" y1="655.5" x2="689.8" y2="654.6" stroke="#f0f0f0" stroke-width="1.5" stroke-linecap="round"/>
<line x1="666.4" y1="616.9" x2="663.3" y2="615.1" stroke="#a8a8a8" stroke-width="1.5" stroke-linecap="round"/>
<line x1="666.4" y1="616.9" x2="667.7" y2="613.9" stroke="#f0f0f0" stroke-width="1.5" stroke-linecap="round"/>
<line x1="666.4" y1="616.9" x2="669.0" y2="617.9" stroke="#f0f0f0" stroke-width="1.5" stroke-linecap="round"/>
<line x1="666.4" y1="616.9" x2="664.4" y2="619.4" stroke="#f0f0f0" stroke-width="1.5" stroke-linecap="round"/>
<line x1="648.8" y1="666.4" x2="651.5" y2="667.6" stroke="#e0e0e0" stroke-width="1.5" stroke-linecap="round"/>
<line x1="648.8" y1="666.4" x2="650.1" y2="663.8" stroke="#e0e0e0" stroke-width="1.5" stroke-linecap="round"/>
<line x1="648.8" y1="666.4" x2="646.6" y2="668.5" stroke="#e0e0e0" stroke-width="1.5" stroke-linecap="round"/>
<circle cx="648.8" cy="666.4" r="1.2" fill="#2040e0"/>
<line x1="721.8" y1="663.7" x2="718.9" y2="664.8" stroke="#a8a8a8" stroke-width="1.5" stroke-linecap="round"/>
<line x1="721.8" y1="663.7" x2="721.3" y2="660.2" stroke="#f0f0f0" stroke-width="1.5" stroke-linecap="round"/>
<line x1="721.8" y1="663.7" x2="724.5" y2="662.4" stroke="#f0f0f0" stroke-width="1.5" stroke-linecap="round"/>
<line x1="721.8" y1="663.7" x2="723.6" y2="666.5" stroke="#f0f0f0" stroke-width="1.5" stroke-linecap="round"/>
<line x1="707.3" y1="659.6" x2="706.3" y2="662.4" stroke="#e81010" stroke-width="1.6" stroke-linecap="round"/>
<line x1="707.3" y1="659.6" x2="709.0" y2="657.1" stroke="#e81010" stroke-width="1.6" stroke-linecap="round"/>
<line x1="707.3" y1="659.6" x2="710.2" y2="660.3" stroke="#e81010" stroke-width="1.6" stroke-linecap="round"/>
<line x1="707.3" y1="659.6" x2="706.4" y2="656.8" stroke="#e81010" stroke-width="1.6" stroke-linecap="round"/>
<circle cx="707.3" cy="659.6" r="1.2" fill="#e8d800"/>
<line x1="677.9" y1="655.2" x2="675.3" y2="654.6" stroke="#a8a8a8" stroke-width="1.5" stroke-linecap="round"/>
<line x1="677.9" y1="655.2" x2="679.8" y2="652.4" stroke="#f0f0f0" stroke-width="1.5" stroke-linecap="round"/>
<line x1="677.9" y1="655.2" x2="680.2" y2="656.5" stroke="#f0f0f0" stroke-width="1.5" stroke-linecap="round"/>
<line x1="677.9" y1="655.2" x2="676.6" y2="657.6" stroke="#f0f0f0" stroke-width="1.5" stroke-linecap="round"/>
<line x1="642.0" y1="632.7" x2="639.1" y2="632.1" stroke="#e0e0e0" stroke-width="1.5" stroke-linecap="round"/>
<line x1="642.0" y1="632.7" x2="639.7" y2="630.8" stroke="#e0e0e0" stroke-width="1.5" stroke-linecap="round"/>
<line x1="642.0" y1="632.7" x2="644.2" y2="634.8" stroke="#e0e0e0" stroke-width="1.5" stroke-linecap="round"/>
<circle cx="642.0" cy="632.7" r="1.2" fill="#2040e0"/>
<line x1="652.9" y1="656.8" x2="650.4" y2="654.4" stroke="#a8a8a8" stroke-width="1.5" stroke-linecap="round"/>
<line x1="652.9" y1="656.8" x2="654.6" y2="654.5" stroke="#f0f0f0" stroke-width="1.5" stroke-linecap="round"/>
<line x1="652.9" y1="656.8" x2="655.2" y2="659.2" stroke="#f0f0f0" stroke-width="1.5" stroke-linecap="round"/>
<line x1="652.9" y1="656.8" x2="651.6" y2="660.0" stroke="#f0f0f0" stroke-width="1.5" stroke-linecap="round"/>
<line x1="658.2" y1="635.2" x2="658.3" y2="637.7" stroke="#a8a8a8" stroke-width="1.5" stroke-linecap="round"/>
<line x1="658.2" y1="635.2" x2="655.4" y2="634.9" stroke="#f0f0f0" stroke-width="1.5" stroke-linecap="round"/>
<line x1="658.2" y1="635.2" x2="658.1" y2="632.4" stroke="#f0f0f0" stroke-width="1.5" stroke-linecap="round"/>
<line x1="658.2" y1="635.2" x2="661.2" y2="634.8" stroke="#f0f0f0" stroke-width="1.5" stroke-linecap="round"/>
<line x1="691.7" y1="673.1" x2="691.0" y2="676.0" stroke="#e0e0e0" stroke-width="1.5" stroke-linecap="round"/>
<line x1="691.7" y1="673.1" x2="691.2" y2="676.1" stroke="#e0e0e0" stroke-width="1.5" stroke-linecap="round"/>
<line x1="691.7" y1="673.1" x2="688.7" y2="672.9" stroke="#e0e0e0" stroke-width="1.5" stroke-linecap="round"/>
<circle cx="691.7" cy="673.1" r="1.2" fill="#2040e0"/>
<line x1="650.9" y1="613.7" x2="652.1" y2="616.9" stroke="#a8a8a8" stroke-width="1.5" stroke-linecap="round"/>
<line x1="650.9" y1="613.7" x2="648.2" y2="615.2" stroke="#f0f0f0" stroke-width="1.5" stroke-linecap="round"/>
<line x1="650.9" y1="613.7" x2="649.6" y2="610.9" stroke="#f0f0f0" stroke-width="1.5" stroke-linecap="round"/>
<line x1="650.9" y1="613.7" x2="654.0" y2="612.1" stroke="#f0f0f0" stroke-width="1.5" stroke-linecap="round"/>
<line x1="706.0" y1="609.3" x2="706.7" y2="612.8" stroke="#a8a8a8" stroke-width="1.5" stroke-linecap="round"/>
<line x1="706.0" y1="609.3" x2="702.6" y2="609.4" stroke="#f0f0f0" stroke-width="1.5" stroke-linecap="round"/>
<line x1="706.0" y1="609.3" x2="705.7" y2="606.3" stroke="#f0f0f0" stroke-width="1.5" stroke-linecap="round"/>
<line x1="706.0" y1="609.3" x2="709.3" y2="609.3" stroke="#f0f0f0" stroke-width="1.5" stroke-linecap="round"/>
<line x1="693.5" y1="623.2" x2="690.6" y2="623.0" stroke="#a8a8a8" stroke-width="1.5" stroke-linecap="round"/>
<line x1="693.5" y1="623.2" x2="693.0" y2="619.7" stroke="#f0f0f0" stroke-width="1.5" stroke-linecap="round"/>
<line x1="693.5" y1="623.2" x2="696.9" y2="622.5" stroke="#f0f0f0" stroke-width="1.5" stroke-linecap="round"/>
<line x1="693.5" y1="623.2" x2="693.1" y2="625.8" stroke="#f0f0f0" stroke-width="1.5" stroke-linecap="round"/>
<line x1="674.4" y1="590.8" x2="676.4" y2="592.5" stroke="#a8a8a8" stroke-width="1.5" stroke-linecap="round"/>
<line x1="674.4" y1="590.8" x2="672.1" y2="592.5" stroke="#f0f0f0" stroke-width="1.5" stroke-linecap="round"/>
<line x1="674.4" y1="590.8" x2="672.7" y2="588.8" stroke="#f0f0f0" stroke-width="1.5" stroke-linecap="round"/>
<line x1="674.4" y1="590.8" x2="676.1" y2="588.9" stroke="#f0f0f0" stroke-width="1.5" stroke-linecap="round"/>
<line x1="702.4" y1="625.0" x2="699.7" y2="623.7" stroke="#e81010" stroke-width="1.6" stroke-linecap="round"/>
<line x1="702.4" y1="625.0" x2="705.4" y2="624.7" stroke="#e81010" stroke-width="1.6" stroke-linecap="round"/>
<line x1="702.4" y1="625.0" x2="701.2" y2="622.3" stroke="#e81010" stroke-width="1.6" stroke-linecap="round"/>
<line x1="702.4" y1="625.0" x2="704.2" y2="622.7" stroke="#e81010" stroke-width="1.6" stroke-linecap="round"/>
<circle cx="702.4" cy="625.0" r="1.2" fill="#e8d800"/>
<line x1="691.9" y1="629.0" x2="688.9" y2="629.3" stroke="#a8a8a8" stroke-width="1.5" stroke-linecap="round"/>
<line x1="691.9" y1="629.0" x2="691.8" y2="625.9" stroke="#f0f0f0" stroke-width="1.5" stroke-linecap="round"/>
<line x1="691.9" y1="629.0" x2="695.0" y2="629.1" stroke="#f0f0f0" stroke-width="1.5" stroke-linecap="round"/>
<line x1="691.9" y1="629.0" x2="692.1" y2="632.2" stroke="#f0f0f0" stroke-width="1.5" stroke-linecap="round"/>
<line x1="681.7" y1="679.6" x2="678.8" y2="680.7" stroke="#a8a8a8" stroke-width="1.5" stroke-linecap="round"/>
<line x1="681.7" y1="679.6" x2="681.5" y2="676.1" stroke="#f0f0f0" stroke-width="1.5" stroke-linecap="round"/>
<line x1="681.7" y1="679.6" x2="684.3" y2="679.5" stroke="#f0f0f0" stroke-width="1.5" stroke-linecap="round"/>
<line x1="681.7" y1="679.6" x2="682.3" y2="682.5" stroke="#f0f0f0" stroke-width="1.5" stroke-linecap="round"/>
<line x1="677.1" y1="649.7" x2="680.6" y2="649.3" stroke="#a8a8a8" stroke-width="1.5" stroke-linecap="round"/>
<line x1="677.1" y1="649.7" x2="677.5" y2="653.1" stroke="#f0f0f0" stroke-width="1.5" stroke-linecap="round"/>
<line x1="677.1" y1="649.7" x2="674.6" y2="650.0" stroke="#f0f0f0" stroke-width="1.5" stroke-linecap="round"/>
<line x1="677.1" y1="649.7" x2="675.9" y2="646.8" stroke="#f0f0f0" stroke-width="1.5" stroke-linecap="round"/>
<line x1="695.7" y1="614.4" x2="693.2" y2="611.9" stroke="#a8a8a8" stroke-width="1.5" stroke-linecap="round"/>
<line x1="695.7" y1="614.4" x2="697.0" y2="611.7" stroke="#f0f0f0" stroke-width="1.5" stroke-linecap="round"/>
<line x1="695.7" y1="614.4" x2="697.1" y2="616.5" stroke="#f0f0f0" stroke-width="1.5" stroke-linecap="round"/>
<line x1="695.7" y1="614.4" x2="694.1" y2="617.5" stroke="#f0f0f0" stroke-width="1.5" stroke-linecap="round"/>
<line x1="682.4" y1="625.0" x2="685.8" y2="624.5" stroke="#a8a8a8" stroke-width="1.5" stroke-linecap="round"/>
<line x1="682.4" y1="625.0" x2="681.6" y2="627.9" stroke="#f0f0f0" stroke-width="1.5" stroke-linecap="round"/>
<line x1="682.4" y1="625.0" x2="679.1" y2="624.3" stroke="#f0f0f0" stroke-width="1.5" stroke-linecap="round"/>
<line x1="682.4" y1="625.0" x2="683.2" y2="622.6" stroke="#f0f0f0" stroke-width="1.5" stroke-linecap="round"/>
<line x1="635.4" y1="660.6" x2="636.2" y2="657.7" stroke="#e81010" stroke-width="1.6" stroke-linecap="round"/>
<line x1="635.4" y1="660.6" x2="638.4" y2="660.1" stroke="#e81010" stroke-width="1.6" stroke-linecap="round"/>
<line x1="635.4" y1="660.6" x2="636.9" y2="658.0" stroke="#e81010" stroke-width="1.6" stroke-linecap="round"/>
<line x1="635.4" y1="660.6" x2="632.9" y2="662.2" stroke="#e81010" stroke-width="1.6" stroke-linecap="round"/>
<circle cx="635.4" cy="660.6" r="1.2" fill="#e8d800"/>
<line x1="700.8" y1="639.9" x2="699.7" y2="643.1" stroke="#a8a8a8" stroke-width="1.5" stroke-linecap="round"/>
<line x1="700.8" y1="639.9" x2="698.0" y2="638.5" stroke="#f0f0f0" stroke-width="1.5" stroke-linecap="round"/>
<line x1="700.8" y1="639.9" x2="702.4" y2="637.6" stroke="#f0f0f0" stroke-width="1.5" stroke-linecap="round"/>
<line x1="700.8" y1="639.9" x2="703.0" y2="641.9" stroke="#f0f0f0" stroke-width="1.5" stroke-linecap="round"/>
<line x1="694.6" y1="635.5" x2="696.8" y2="633.4" stroke="#e0e0e0" stroke-width="1.5" stroke-linecap="round"/>
<line x1="694.6" y1="635.5" x2="696.0" y2="638.1" stroke="#e0e0e0" stroke-width="1.5" stroke-linecap="round"/>
<line x1="694.6" y1="635.5" x2="696.4" y2="637.9" stroke="#e0e0e0" stroke-width="1.5" stroke-linecap="round"/>
<circle cx="694.6" cy="635.5" r="1.2" fill="#2040e0"/>
<line x1="620.4" y1="636.4" x2="617.4" y2="636.8" stroke="#e0e0e0" stroke-width="1.5" stroke-linecap="round"/>
<line x1="620.4" y1="636.4" x2="621.0" y2="633.5" stroke="#e0e0e0" stroke-width="1.5" stroke-linecap="round"/>
<line x1="620.4" y1="636.4" x2="618.9" y2="639.0" stroke="#e0e0e0" stroke-width="1.5" stroke-linecap="round"/>
<circle cx="620.4" cy="636.4" r="1.2" fill="#2040e0"/>
<line x1="626.0" y1="637.3" x2="624.3" y2="634.8" stroke="#e0e0e0" stroke-width="1.5" stroke-linecap="round"/>
<line x1="626.0" y1="637.3" x2="625.8" y2="640.3" stroke="#e0e0e0" stroke-width="1.5" stroke-linecap="round"/>
<line x1="626.0" y1="637.3" x2="623.0" y2="636.9" stroke="#e0e0e0" stroke-width="1.5" stroke-linecap="round"/>
<circle cx="626.0" cy="637.3" r="1.2" fill="#2040e0"/>
<line x1="682.9" y1="647.2" x2="685.0" y2="645.1" stroke="#e0e0e0" stroke-width="1.5" stroke-linecap="round"/>
<line x1="682.9" y1="647.2" x2="684.1" y2="649.9" stroke="#e0e0e0" stroke-width="1.5" stroke-linecap="round"/>
<line x1="682.9" y1="647.2" x2="683.2" y2="650.2" stroke="#e0e0e0" stroke-width="1.5" stroke-linecap="round"/>
<circle cx="682.9" cy="647.2" r="1.2" fill="#2040e0"/>
<line x1="685.4" y1="642.4" x2="683.5" y2="645.0" stroke="#a8a8a8" stroke-width="1.5" stroke-linecap="round"/>
<line x1="685.4" y1="642.4" x2="683.0" y2="640.5" stroke="#f0f0f0" stroke-width="1.5" stroke-linecap="round"/>
<line x1="685.4" y1="642.4" x2="686.2" y2="639.2" stroke="#f0f0f0" stroke-width="1.5" stroke-linecap="round"/>
<line x1="685.4" y1="642.4" x2="688.0" y2="643.4" stroke="#f0f0f0" stroke-width="1.5" stroke-linecap="round"/>
<line x1="639.0" y1="628.1" x2="641.9" y2="627.6" stroke="#a8a8a8" stroke-width="1.5" stroke-linecap="round"/>
<line x1="639.0" y1="628.1" x2="638.4" y2="631.6" stroke="#f0f0f0" stroke-width="1.5" stroke-linecap="round"/>
<line x1="639.0" y1="628.1" x2="636.4" y2="628.4" stroke="#f0f0f0" stroke-width="1.5" stroke-linecap="round"/>
<line x1="639.0" y1="628.1" x2="639.4" y2="624.7" stroke="#f0f0f0" stroke-width="1.5" stroke-linecap="round"/>
<line x1="660.5" y1="631.9" x2="661.0" y2="629.1" stroke="#a8a8a8" stroke-width="1.5" stroke-linecap="round"/>
<line x1="660.5" y1="631.9" x2="663.7" y2="632.9" stroke="#f0f0f0" stroke-width="1.5" stroke-linecap="round"/>
<line x1="660.5" y1="631.9" x2="659.7" y2="635.2" stroke="#f0f0f0" stroke-width="1.5" stroke-linecap="round"/>
<line x1="660.5" y1="631.9" x2="657.5" y2="632.0" stroke="#f0f0f0" stroke-width="1.5" stroke-linecap="round"/>
<line x1="687.2" y1="654.0" x2="689.3" y2="655.7" stroke="#a8a8a8" stroke-width="1.5" stroke-linecap="round"/>
<line x1="687.2" y1="654.0" x2="686.4" y2="657.4" stroke="#f0f0f0" stroke-width="1.5" stroke-linecap="round"/>
<line x1="687.2" y1="654.0" x2="684.5" y2="651.8" stroke="#f0f0f0" stroke-width="1.5" stroke-linecap="round"/>
<line x1="687.2" y1="654.0" x2="688.3" y2="650.7" stroke="#f0f0f0" stroke-width="1.5" stroke-linecap="round"/>
<line x1="691.7" y1="632.9" x2="691.1" y2="629.9" stroke="#e81010" stroke-width="1.6" stroke-linecap="round"/>
<line x1="691.7" y1="632.9" x2="694.5" y2="631.9" stroke="#e81010" stroke-width="1.6" stroke-linecap="round"/>
<line x1="691.7" y1="632.9" x2="692.8" y2="635.7" stroke="#e81010" stroke-width="1.6" stroke-linecap="round"/>
<line x1="691.7" y1="632.9" x2="693.7" y2="635.1" stroke="#e81010" stroke-width="1.6" stroke-linecap="round"/>
<circle cx="691.7" cy="632.9" r="1.2" fill="#e8d800"/>
<line x1="621.5" y1="648.4" x2="624.4" y2="646.4" stroke="#a8a8a8" stroke-width="1.5" stroke-linecap="round"/>
<line x1="621.5" y1="648.4" x2="623.5" y2="650.5" stroke="#f0f0f0" stroke-width="1.5" stroke-linecap="round"/>
<line x1="621.5" y1="648.4" x2="619.9" y2="650.7" stroke="#f0f0f0" stroke-width="1.5" stroke-linecap="round"/>
<line x1="621.5" y1="648.4" x2="620.3" y2="646.1" stroke="#f0f0f0" stroke-width="1.5" stroke-linecap="round"/>
<line x1="660.2" y1="663.8" x2="658.5" y2="666.2" stroke="#e0e0e0" stroke-width="1.5" stroke-linecap="round"/>
<line x1="660.2" y1="663.8" x2="663.0" y2="664.7" stroke="#e0e0e0" stroke-width="1.5" stroke-linecap="round"/>
<line x1="660.2" y1="663.8" x2="659.1" y2="666.6" stroke="#e0e0e0" stroke-width="1.5" stroke-linecap="round"/>
<circle cx="660.2" cy="663.8" r="1.2" fill="#2040e0"/>
<line x1="641.9" y1="635.4" x2="644.1" y2="637.5" stroke="#e0e0e0" stroke-width="1.5" stroke-linecap="round"/>
<line x1="641.9" y1="635.4" x2="638.9" y2="634.9" stroke="#e0e0e0" stroke-width="1.5" stroke-linecap="round"/>
<line x1="641.9" y1="635.4" x2="639.0" y2="634.6" stroke="#e0e0e0" stroke-width="1.5" stroke-linecap="round"/>
<circle cx="641.9" cy="635.4" r="1.2" fill="#2040e0"/>
<line x1="673.5" y1="635.5" x2="673.8" y2="632.0" stroke="#a8a8a8" stroke-width="1.5" stroke-linecap="round"/>
<line x1="673.5" y1="635.5" x2="676.2" y2="635.0" stroke="#f0f0f0" stroke-width="1.5" stroke-linecap="round"/>
<line x1="673.5" y1="635.5" x2="674.0" y2="638.3" stroke="#f0f0f0" stroke-width="1.5" stroke-linecap="round"/>
<line x1="673.5" y1="635.5" x2="670.1" y2="634.7" stroke="#f0f0f0" stroke-width="1.5" stroke-linecap="round"/>
<line x1="658.0" y1="590.4" x2="660.0" y2="592.8" stroke="#a8a8a8" stroke-width="1.5" stroke-linecap="round"/>
<line x1="658.0" y1="590.4" x2="655.4" y2="592.5" stroke="#f0f0f0" stroke-width="1.5" stroke-linecap="round"/>
<line x1="658.0" y1="590.4" x2="657.2" y2="587.5" stroke="#f0f0f0" stroke-width="1.5" stroke-linecap="round"/>
<line x1="658.0" y1="590.4" x2="661.0" y2="588.7" stroke="#f0f0f0" stroke-width="1.5" stroke-linecap="round"/>
<line x1="693.7" y1="663.9" x2="694.1" y2="667.5" stroke="#a8a8a8" stroke-width="1.5" stroke-linecap="round"/>
<line x1="693.7" y1="663.9" x2="691.1" y2="665.9" stroke="#f0f0f0" stroke-width="1.5" stroke-linecap="round"/>
<line x1="693.7" y1="663.9" x2="692.7" y2="661.6" stroke="#f0f0f0" stroke-width="1.5" stroke-linecap="round"/>
<line x1="693.7" y1="663.9" x2="696.0" y2="662.4" stroke="#f0f0f0" stroke-width="1.5" stroke-linecap="round"/>
<line x1="675.7" y1="611.6" x2="677.1" y2="614.0" stroke="#a8a8a8" stroke-width="1.5" stroke-linecap="round"/>
<line x1="675.7" y1="611.6" x2="672.6" y2="611.8" stroke="#f0f0f0" stroke-width="1.5" stroke-linecap="round"/>
<line x1="675.7" y1="611.6" x2="675.2" y2="608.7" stroke="#f0f0f0" stroke-width="1.5" stroke-linecap="round"/>
<line x1="675.7" y1="611.6" x2="678.0" y2="610.6" stroke="#f0f0f0" stroke-width="1.5" stroke-linecap="round"/>
<line x1="684.9" y1="652.7" x2="688.1" y2="653.0" stroke="#a8a8a8" stroke-width="1.5" stroke-linecap="round"/>
<line x1="684.9" y1="652.7" x2="684.4" y2="655.6" stroke="#f0f0f0" stroke-width="1.5" stroke-linecap="round"/>
<line x1="684.9" y1="652.7" x2="682.3" y2="651.7" stroke="#f0f0f0" stroke-width="1.5" stroke-linecap="round"/>
<line x1="684.9" y1="652.7" x2="685.5" y2="649.2" stroke="#f0f0f0" stroke-width="1.5" stroke-linecap="round"/>
<line x1="672.0" y1="637.6" x2="669.3" y2="639.1" stroke="#a8a8a8" stroke-width="1.5" stroke-linecap="round"/>
<line x1="672.0" y1="637.6" x2="669.9" y2="634.8" stroke="#f0f0f0" stroke-width="1.5" stroke-linecap="round"/>
<line x1="672.0" y1="637.6" x2="674.7" y2="635.4" stroke="#f0f0f0" stroke-width="1.5" stroke-linecap="round"/>
<line x1="672.0" y1="637.6" x2="673.0" y2="640.9" stroke="#f0f0f0" stroke-width="1.5" stroke-linecap="round"/>
<line x1="726.2" y1="609.0" x2="723.2" y2="608.8" stroke="#e81010" stroke-width="1.6" stroke-linecap="round"/>
<line x1="726.2" y1="609.0" x2="729.2" y2="608.7" stroke="#e81010" stroke-width="1.6" stroke-linecap="round"/>
<line x1="726.2" y1="609.0" x2="725.5" y2="611.9" stroke="#e81010" stroke-width="1.6" stroke-linecap="round"/>
<line x1="726.2" y1="609.0" x2="727.6" y2="611.6" stroke="#e81010" stroke-width="1.6" stroke-linecap="round"/>
<circle cx="726.2" cy="609.0" r="1.2" fill="#e8d800"/>
<line x1="658.9" y1="588.6" x2="659.0" y2="591.3" stroke="#a8a8a8" stroke-width="1.5" stroke-linecap="round"/>
<line x1="658.9" y1="588.6" x2="656.2" y2="588.1" stroke="#f0f0f0" stroke-width="1.5" stroke-linecap="round"/>
<line x1="658.9" y1="588.6" x2="657.8" y2="585.5" stroke="#f0f0f0" stroke-width="1.5" stroke-linecap="round"/>
<line x1="658.9" y1="588.6" x2="662.0" y2="588.0" stroke="#f0f0f0" stroke-width="1.5" stroke-linecap="round"/>
<line x1="654.1" y1="618.8" x2="656.7" y2="617.5" stroke="#a8a8a8" stroke-width="1.5" stroke-linecap="round"/>
<line x1="654.1" y1="618.8" x2="656.2" y2="621.0" stroke="#f0f0f0" stroke-width="1.5" stroke-linecap="round"/>
<line x1="654.1" y1="618.8" x2="651.5" y2="620.7" stroke="#f0f0f0" stroke-width="1.5" stroke-linecap="round"/>
<line x1="654.1" y1="618.8" x2="652.9" y2="616.1" stroke="#f0f0f0" stroke-width="1.5" stroke-linecap="round"/>
<line x1="645.2" y1="620.0" x2="642.2" y2="620.1" stroke="#e81010" stroke-width="1.6" stroke-linecap="round"/>
<line x1="645.2" y1="620.0" x2="642.2" y2="620.4" stroke="#e81010" stroke-width="1.6" stroke-linecap="round"/>
<line x1="645.2" y1="620.0" x2="643.3" y2="617.7" stroke="#e81010" stroke-width="1.6" stroke-linecap="round"/>
<line x1="645.2" y1="620.0" x2="648.1" y2="619.5" stroke="#e81010" stroke-width="1.6" stroke-linecap="round"/>
<circle cx="645.2" cy="620.0" r="1.2" fill="#e8d800"/>
<line x1="739.5" y1="632.9" x2="736.7" y2="634.8" stroke="#a8a8a8" stroke-width="1.5" stroke-linecap="round"/>
<line x1="739.5" y1="632.9" x2="737.8" y2="629.9" stroke="#f0f0f0" stroke-width="1.5" stroke-linecap="round"/>
<line x1="739.5" y1="632.9" x2="742.2" y2="632.4" stroke="#f0f0f0" stroke-width="1.5" stroke-linecap="round"/>
<line x1="739.5" y1="632.9" x2="739.8" y2="635.9" stroke="#f0f0f0" stroke-width="1.5" stroke-linecap="round"/>
<line x1="675.9" y1="593.1" x2="673.4" y2="591.3" stroke="#a8a8a8" stroke-width="1.5" stroke-linecap="round"/>
<line x1="675.9" y1="593.1" x2="676.9" y2="590.4" stroke="#f0f0f0" stroke-width="1.5" stroke-linecap="round"/>
<line x1="675.9" y1="593.1" x2="678.5" y2="594.7" stroke="#f0f0f0" stroke-width="1.5" stroke-linecap="round"/>
<line x1="675.9" y1="593.1" x2="675.2" y2="595.7" stroke="#f0f0f0" stroke-width="1.5" stroke-linecap="round"/>
<line x1="691.8" y1="613.7" x2="693.3" y2="611.1" stroke="#e0e0e0" stroke-width="1.5" stroke-linecap="round"/>
<line x1="691.8" y1="613.7" x2="692.8" y2="610.9" stroke="#e0e0e0" stroke-width="1.5" stroke-linecap="round"/>
<line x1="691.8" y1="613.7" x2="694.8" y2="613.3" stroke="#e0e0e0" stroke-width="1.5" stroke-linecap="round"/>
<circle cx="691.8" cy="613.7" r="1.2" fill="#2040e0"/>
<line x1="734.0" y1="605.7" x2="733.3" y2="602.5" stroke="#a8a8a8" stroke-width="1.5" stroke-linecap="round"/>
<line x1="734.0" y1="605.7" x2="737.3" y2="605.0" stroke="#f0f0f0" stroke-width="1.5" stroke-linecap="round"/>
<line x1="734.0" y1="605.7" x2="736.0" y2="608.5" stroke="#f0f0f0" stroke-width="1.5" stroke-linecap="round"/>
<line x1="734.0" y1="605.7" x2="731.7" y2="607.1" stroke="#f0f0f0" stroke-width="1.5" stroke-linecap="round"/>
<line x1="658.1" y1="596.4" x2="661.0" y2="596.8" stroke="#a8a8a8" stroke-width="1.5" stroke-linecap="round"/>
<line x1="658.1" y1="596.4" x2="657.2" y2="599.4" stroke="#f0f0f0" stroke-width="1.5" stroke-linecap="round"/>
<line x1="658.1" y1="596.4" x2="654.9" y2="595.0" stroke="#f0f0f0" stroke-width="1.5" stroke-linecap="round"/>
<line x1="658.1" y1="596.4" x2="658.7" y2="593.9" stroke="#f0f0f0" stroke-width="1.5" stroke-linecap="round"/>
<line x1="681.3" y1="611.7" x2="683.3" y2="614.5" stroke="#a8a8a8" stroke-width="1.5" stroke-linecap="round"/>
<line x1="681.3" y1="611.7" x2="679.9" y2="613.9" stroke="#f0f0f0" stroke-width="1.5" stroke-linecap="round"/>
<line x1="681.3" y1="611.7" x2="679.0" y2="609.3" stroke="#f0f0f0" stroke-width="1.5" stroke-linecap="round"/>
<line x1="681.3" y1="611.7" x2="684.0" y2="609.9" stroke="#f0f0f0" stroke-width="1.5" stroke-linecap="round"/>
<line x1="675.8" y1="628.2" x2="675.3" y2="625.3" stroke="#e81010" stroke-width="1.6" stroke-linecap="round"/>
<line x1="675.8" y1="628.2" x2="678.6" y2="629.3" stroke="#e81010" stroke-width="1.6" stroke-linecap="round"/>
<line x1="675.8" y1="628.2" x2="677.8" y2="626.0" stroke="#e81010" stroke-width="1.6" stroke-linecap="round"/>
<line x1="675.8" y1="628.2" x2="676.1" y2="625.3" stroke="#e81010" stroke-width="1.6" stroke-linecap="round"/>
<circle cx="675.8" cy="628.2" r="1.2" fill="#e8d800"/>
<line x1="657.0" y1="662.4" x2="659.6" y2="660.0" stroke="#a8a8a8" stroke-width="1.5" stroke-linecap="round"/>
<line x1="657.0" y1="662.4" x2="659.0" y2="664.8" stroke="#f0f0f0" stroke-width="1.5" stroke-linecap="round"/>
<line x1="657.0" y1="662.4" x2="655.2" y2="664.6" stroke="#f0f0f0" stroke-width="1.5" stroke-linecap="round"/>
<line x1="657.0" y1="662.4" x2="654.7" y2="661.2" stroke="#f0f0f0" stroke-width="1.5" stroke-linecap="round"/>
<line x1="710.0" y1="639.6" x2="710.1" y2="643.0" stroke="#a8a8a8" stroke-width="1.5" stroke-linecap="round"/>
<line x1="710.0" y1="639.6" x2="706.9" y2="639.7" stroke="#f0f0f0" stroke-width="1.5" stroke-linecap="round"/>
<line x1="710.0" y1="639.6" x2="709.3" y2="636.9" stroke="#f0f0f0" stroke-width="1.5" stroke-linecap="round"/>
<line x1="710.0" y1="639.6" x2="713.0" y2="638.6" stroke="#f0f0f0" stroke-width="1.5" stroke-linecap="round"/>
<line x1="647.2" y1="610.3" x2="650.4" y2="608.7" stroke="#a8a8a8" stroke-width="1.5" stroke-linecap="round"/>
<line x1="647.2" y1="610.3" x2="647.5" y2="613.1" stroke="#f0f0f0" stroke-width="1.5" stroke-linecap="round"/>
<line x1="647.2" y1="610.3" x2="644.0" y2="610.5" stroke="#f0f0f0" stroke-width="1.5" stroke-linecap="round"/>
<line x1="647.2" y1="610.3" x2="646.9" y2="606.9" stroke="#f0f0f0" stroke-width="1.5" stroke-linecap="round"/>
<line x1="662.4" y1="617.7" x2="661.8" y2="620.6" stroke="#a8a8a8" stroke-width="1.5" stroke-linecap="round"/>
<line x1="662.4" y1="617.7" x2="658.9" y2="618.0" stroke="#f0f0f0" stroke-width="1.5" stroke-linecap="round"/>
<line x1="662.4" y1="617.7" x2="663.0" y2="614.7" stroke="#f0f0f0" stroke-width="1.5" stroke-linecap="round"/>
<line x1="662.4" y1="617.7" x2="665.0" y2="618.6" stroke="#f0f0f0" stroke-width="1.5" stroke-linecap="round"/>
<line x1="654.1" y1="609.6" x2="651.5" y2="608.2" stroke="#e0e0e0" stroke-width="1.5" stroke-linecap="round"/>
<line x1="654.1" y1="609.6" x2="654.3" y2="612.6" stroke="#e0e0e0" stroke-width="1.5" stroke-linecap="round"/>
<line x1="654.1" y1="609.6" x2="652.7" y2="612.3" stroke="#e0e0e0" stroke-width="1.5" stroke-linecap="round"/>
<circle cx="654.1" cy="609.6" r="1.2" fill="#2040e0"/>
<line x1="644.7" y1="632.7" x2="647.6" y2="633.7" stroke="#e81010" stroke-width="1.6" stroke-linecap="round"/>
<line x1="644.7" y1="632.7" x2="642.9" y2="635.1" stroke="#e81010" stroke-width="1.6" stroke-linecap="round"/>
<line x1="644.7" y1="632.7" x2="641.8" y2="632.2" stroke="#e81010" stroke-width="1.6" stroke-linecap="round"/>
<line x1="644.7" y1="632.7" x2="647.6" y2="631.7" stroke="#e81010" stroke-width="1.6" stroke-linecap="round"/>
<circle cx="644.7" cy="632.7" r="1.2" fill="#e8d800"/>
<line x1="727.0" y1="638.0" x2="724.8" y2="639.5" stroke="#a8a8a8" stroke-width="1.5" stroke-linecap="round"/>
<line x1="727.0" y1="638.0" x2="725.2" y2="634.9" stroke="#f0f0f0" stroke-width="1.5" stroke-linecap="round"/>
<line x1="727.0" y1="638.0" x2="729.2" y2="635.9" stroke="#f0f0f0" stroke-width="1.5" stroke-linecap="round"/>
<line x1="727.0" y1="638.0" x2="728.4" y2="641.0" stroke="#f0f0f0" stroke-width="1.5" stroke-linecap="round"/>
<line x1="660.5" y1="596.1" x2="659.1" y2="593.0" stroke="#a8a8a8" stroke-width="1.5" stroke-linecap="round"/>
<line x1="660.5" y1="596.1" x2="662.6" y2="593.9" stroke="#f0f0f0" stroke-width="1.5" stroke-linecap="round"/>
<line x1="660.5" y1="596.1" x2="661.7" y2="599.0" stroke="#f0f0f0" stroke-width="1.5" stroke-linecap="round"/>
<line x1="660.5" y1="596.1" x2="658.4" y2="598.7" stroke="#f0f0f0" stroke-width="1.5" stroke-linecap="round"/>
<line x1="685.3" y1="637.3" x2="687.0" y2="639.7" stroke="#e81010" stroke-width="1.6" stroke-linecap="round"/>
<line x1="685.3" y1="637.3" x2="682.4" y2="636.4" stroke="#e81010" stroke-width="1.6" stroke-linecap="round"/>
<line x1="685.3" y1="637.3" x2="684.9" y2="640.3" stroke="#e81010" stroke-width="1.6" stroke-linecap="round"/>
<line x1="685.3" y1="637.3" x2="684.7" y2="634.4" stroke="#e81010" stroke-width="1.6" stroke-linecap="round"/>
<circle cx="685.3" cy="637.3" r="1.2" fill="#e8d800"/>
<line x1="636.1" y1="609.8" x2="634.3" y2="612.5" stroke="#a8a8a8" stroke-width="1.5" stroke-linecap="round"/>
<line x1="636.1" y1="609.8" x2="633.5" y2="608.2" stroke="#f0f0f0" stroke-width="1.5" stroke-linecap="round"/>
<line x1="636.1" y1="609.8" x2="637.1" y2="607.4" stroke="#f0f0f0" stroke-width="1.5" stroke-linecap="round"/>
<line x1="636.1" y1="609.8" x2="639.3" y2="611.3" stroke="#f0f0f0" stroke-width="1.5" stroke-linecap="round"/>
<line x1="676.6" y1="664.2" x2="679.3" y2="664.5" stroke="#a8a8a8" stroke-width="1.5" stroke-linecap="round"/>
<line x1="676.6" y1="664.2" x2="675.2" y2="666.9" stroke="#f0f0f0" stroke-width="1.5" stroke-linecap="round"/>
<line x1="676.6" y1="664.2" x2="673.6" y2="663.9" stroke="#f0f0f0" stroke-width="1.5" stroke-linecap="round"/>
<line x1="676.6" y1="664.2" x2="677.8" y2="661.2" stroke="#f0f0f0" stroke-width="1.5" stroke-linecap="round"/>
<line x1="699.4" y1="643.3" x2="697.8" y2="640.6" stroke="#a8a8a8" stroke-width="1.5" stroke-linecap="round"/>
<line x1="699.4" y1="643.3" x2="701.5" y2="640.8" stroke="#f0f0f0" stroke-width="1.5" stroke-linecap="round"/>
<line x1="699.4" y1="643.3" x2="701.4" y2="645.0" stroke="#f0f0f0" stroke-width="1.5" stroke-linecap="round"/>
<line x1="699.4" y1="643.3" x2="697.4" y2="644.8" stroke="#f0f0f0" stroke-width="1.5" stroke-linecap="round"/>
<line x1="666.9" y1="646.3" x2="664.6" y2="648.2" stroke="#e81010" stroke-width="1.6" stroke-linecap="round"/>
<line x1="666.9" y1="646.3" x2="664.0" y2="646.9" stroke="#e81010" stroke-width="1.6" stroke-linecap="round"/>
<line x1="666.9" y1="646.3" x2="669.3" y2="648.2" stroke="#e81010" stroke-width="1.6" stroke-linecap="round"/>
<line x1="666.9" y1="646.3" x2="669.8" y2="645.4" stroke="#e81010" stroke-width="1.6" stroke-linecap="round"/>
<circle cx="666.9" cy="646.3" r="1.2" fill="#e8d800"/>
<line x1="639.3" y1="628.5" x2="636.4" y2="628.5" stroke="#a8a8a8" stroke-width="1.5" stroke-linecap="round"/>
<line x1="639.3" y1="628.5" x2="639.8" y2="625.9" stroke="#f0f0f0" stroke-width="1.5" stroke-linecap="round"/>
<line x1="639.3" y1="628.5" x2="642.0" y2="627.9" stroke="#f0f0f0" stroke-width="1.5" stroke-linecap="round"/>
<line x1="639.3" y1="628.5" x2="638.9" y2="631.5" stroke="#f0f0f0" stroke-width="1.5" stroke-linecap="round"/>
<line x1="721.4" y1="631.1" x2="718.8" y2="632.2" stroke="#a8a8a8" stroke-width="1.5" stroke-linecap="round"/>
<line x1="721.4" y1="631.1" x2="719.9" y2="628.2" stroke="#f0f0f0" stroke-width="1.5" stroke-linecap="round"/>
<line x1="721.4" y1="631.1" x2="723.6" y2="629.3" stroke="#f0f0f0" stroke-width="1.5" stroke-linecap="round"/>
<line x1="721.4" y1="631.1" x2="723.2" y2="633.5" stroke="#f0f0f0" stroke-width="1.5" stroke-linecap="round"/>
<line x1="726.7" y1="636.9" x2="724.6" y2="635.0" stroke="#a8a8a8" stroke-width="1.5" stroke-linecap="round"/>
<line x1="726.7" y1="636.9" x2="729.2" y2="635.1" stroke="#f0f0f0" stroke-width="1.5" stroke-linecap="round"/>
<line x1="726.7" y1="636.9" x2="729.2" y2="639.3" stroke="#f0f0f0" stroke-width="1.5" stroke-linecap="round"/>
<line x1="726.7" y1="636.9" x2="724.7" y2="639.0" stroke="#f0f0f0" stroke-width="1.5" stroke-linecap="round"/>
<line x1="683.0" y1="628.4" x2="685.9" y2="628.5" stroke="#a8a8a8" stroke-width="1.5" stroke-linecap="round"/>
<line x1="683.0" y1="628.4" x2="683.1" y2="631.7" stroke="#f0f0f0" stroke-width="1.5" stroke-linecap="round"/>
<line x1="683.0" y1="628.4" x2="679.8" y2="629.3" stroke="#f0f0f0" stroke-width="1.5" stroke-linecap="round"/>
<line x1="683.0" y1="628.4" x2="683.4" y2="625.2" stroke="#f0f0f0" stroke-width="1.5" stroke-linecap="round"/>
<line x1="630.8" y1="612.8" x2="628.2" y2="613.7" stroke="#a8a8a8" stroke-width="1.5" stroke-linecap="round"/>
<line x1="630.8" y1="612.8" x2="630.0" y2="609.8" stroke="#f0f0f0" stroke-width="1.5" stroke-linecap="round"/>
<line x1="630.8" y1="612.8" x2="633.6" y2="612.5" stroke="#f0f0f0" stroke-width="1.5" stroke-linecap="round"/>
<line x1="630.8" y1="612.8" x2="631.5" y2="615.3" stroke="#f0f0f0" stroke-width="1.5" stroke-linecap="round"/>
<line x1="698.7" y1="662.7" x2="698.6" y2="659.5" stroke="#a8a8a8" stroke-width="1.5" stroke-linecap="round"/>
<line x1="698.7" y1="662.7" x2="701.6" y2="662.5" stroke="#f0f0f0" stroke-width="1.5" stroke-linecap="round"/>
<line x1="698.7" y1="662.7" x2="697.7" y2="665.2" stroke="#f0f0f0" stroke-width="1.5" stroke-linecap="round"/>
<line x1="698.7" y1="662.7" x2="696.3" y2="661.8" stroke="#f0f0f0" stroke-width="1.5" stroke-linecap="round"/>
<line x1="697.5" y1="664.5" x2="699.2" y2="662.2" stroke="#a8a8a8" stroke-width="1.5" stroke-linecap="round"/>
<line x1="697.5" y1="664.5" x2="700.3" y2="666.1" stroke="#f0f0f0" stroke-width="1.5" stroke-linecap="round"/>
<line x1="697.5" y1="664.5" x2="695.6" y2="667.2" stroke="#f0f0f0" stroke-width="1.5" stroke-linecap="round"/>
<line x1="697.5" y1="664.5" x2="695.0" y2="663.2" stroke="#f0f0f0" stroke-width="1.5" stroke-linecap="round"/>
<line x1="668.9" y1="632.2" x2="665.6" y2="630.8" stroke="#a8a8a8" stroke-width="1.5" stroke-linecap="round"/>
<line x1="668.9" y1="632.2" x2="669.5" y2="628.9" stroke="#f0f0f0" stroke-width="1.5" stroke-linecap="round"/>
<line x1="668.9" y1="632.2" x2="672.1" y2="633.1" stroke="#f0f0f0" stroke-width="1.5" stroke-linecap="round"/>
<line x1="668.9" y1="632.2" x2="667.2" y2="634.4" stroke="#f0f0f0" stroke-width="1.5" stroke-linecap="round"/>
<line x1="711.6" y1="628.9" x2="709.0" y2="628.4" stroke="#a8a8a8" stroke-width="1.5" stroke-linecap="round"/>
<line x1="711.6" y1="628.9" x2="712.5" y2="625.5" stroke="#f0f0f0" stroke-width="1.5" stroke-linecap="round"/>
<line x1="711.6" y1="628.9" x2="714.4" y2="629.6" stroke="#f0f0f0" stroke-width="1.5" stroke-linecap="round"/>
<line x1="711.6" y1="628.9" x2="710.6" y2="631.6" stroke="#f0f0f0" stroke-width="1.5" stroke-linecap="round"/>
<line x1="632.5" y1="632.1" x2="630.1" y2="630.3" stroke="#e81010" stroke-width="1.6" stroke-linecap="round"/>
<line x1="632.5" y1="632.1" x2="629.6" y2="632.9" stroke="#e81010" stroke-width="1.6" stroke-linecap="round"/>
<line x1="632.5" y1="632.1" x2="629.5" y2="631.6" stroke="#e81010" stroke-width="1.6" stroke-linecap="round"/>
<line x1="632.5" y1="632.1" x2="635.5" y2="632.0" stroke="#e81010" stroke-width="1.6" stroke-linecap="round"/>
<circle cx="632.5" cy="632.1" r="1.2" fill="#e8d800"/>
<line x1="659.4" y1="653.9" x2="662.5" y2="652.7" stroke="#a8a8a8" stroke-width="1.5" stroke-linecap="round"/>
<line x1="659.4" y1="653.9" x2="660.8" y2="656.3" stroke="#f0f0f0" stroke-width="1.5" stroke-linecap="round"/>
<line x1="659.4" y1="653.9" x2="656.2" y2="654.5" stroke="#f0f0f0" stroke-width="1.5" stroke-linecap="round"/>
<line x1="659.4" y1="653.9" x2="659.1" y2="651.0" stroke="#f0f0f0" stroke-width="1.5" stroke-linecap="round"/>
<line x1="653.4" y1="610.5" x2="651.5" y2="612.8" stroke="#e0e0e0" stroke-width="1.5" stroke-linecap="round"/>
<line x1="653.4" y1="610.5" x2="650.5" y2="609.8" stroke="#e0e0e0" stroke-width="1.5" stroke-linecap="round"/>
<line x1="653.4" y1="610.5" x2="656.3" y2="610.9" stroke="#e0e0e0" stroke-width="1.5" stroke-linecap="round"/>
<circle cx="653.4" cy="610.5" r="1.2" fill="#2040e0"/>
<line x1="666.6" y1="678.3" x2="664.6" y2="676.3" stroke="#a8a8a8" stroke-width="1.5" stroke-linecap="round"/>
<line x1="666.6" y1="678.3" x2="669.9" y2="677.0" stroke="#f0f0f0" stroke-width="1.5" stroke-linecap="round"/>
<line x1="666.6" y1="678.3" x2="668.4" y2="680.3" stroke="#f0f0f0" stroke-width="1.5" stroke-linecap="round"/>
<line x1="666.6" y1="678.3" x2="664.9" y2="680.1" stroke="#f0f0f0" stroke-width="1.5" stroke-linecap="round"/>
<line x1="676.4" y1="642.2" x2="675.7" y2="639.2" stroke="#a8a8a8" stroke-width="1.5" stroke-linecap="round"/>
<line x1="676.4" y1="642.2" x2="678.9" y2="642.3" stroke="#f0f0f0" stroke-width="1.5" stroke-linecap="round"/>
<line x1="676.4" y1="642.2" x2="675.9" y2="645.6" stroke="#f0f0f0" stroke-width="1.5" stroke-linecap="round"/>
<line x1="676.4" y1="642.2" x2="673.2" y2="643.0" stroke="#f0f0f0" stroke-width="1.5" stroke-linecap="round"/>
<line x1="678.3" y1="645.7" x2="676.4" y2="647.6" stroke="#a8a8a8" stroke-width="1.5" stroke-linecap="round"/>
<line x1="678.3" y1="645.7" x2="675.9" y2="644.2" stroke="#f0f0f0" stroke-width="1.5" stroke-linecap="round"/>
<line x1="678.3" y1="645.7" x2="680.0" y2="642.7" stroke="#f0f0f0" stroke-width="1.5" stroke-linecap="round"/>
<line x1="678.3" y1="645.7" x2="681.0" y2="647.4" stroke="#f0f0f0" stroke-width="1.5" stroke-linecap="round"/>
<line x1="709.8" y1="674.2" x2="710.8" y2="677.2" stroke="#a8a8a8" stroke-width="1.5" stroke-linecap="round"/>
<line x1="709.8" y1="674.2" x2="706.4" y2="675.5" stroke="#f0f0f0" stroke-width="1.5" stroke-linecap="round"/>
<line x1="709.8" y1="674.2" x2="709.0" y2="671.3" stroke="#f0f0f0" stroke-width="1.5" stroke-linecap="round"/>
<line x1="709.8" y1="674.2" x2="713.1" y2="673.5" stroke="#f0f0f0" stroke-width="1.5" stroke-linecap="round"/>
<line x1="621.8" y1="673.3" x2="620.0" y2="671.0" stroke="#a8a8a8" stroke-width="1.5" stroke-linecap="round"/>
<line x1="621.8" y1="673.3" x2="624.3" y2="672.4" stroke="#f0f0f0" stroke-width="1.5" stroke-linecap="round"/>
<line x1="621.8" y1="673.3" x2="622.5" y2="676.6" stroke="#f0f0f0" stroke-width="1.5" stroke-linecap="round"/>
<line x1="621.8" y1="673.3" x2="619.4" y2="675.0" stroke="#f0f0f0" stroke-width="1.5" stroke-linecap="round"/>
<path d="M662,598 L670,594 L678,598 L686,594 L694,600 L690,608 L680,612 L672,620 L664,628 L656,636 L650,646 L656,656 L666,652 L674,644 L684,650 L694,645 L704,652 L714,646 L724,652 L734,648 L744,655 L738,664 L728,670 L718,676 L708,672 L700,666 L694,658 L700,650" fill="none" stroke="#e020e0" stroke-width="2" stroke-linejoin="round"/>
<path d="M640,650 L632,642 L638,632 L646,626 L654,620 M700,630 L710,622 L720,628 L716,640 L726,636 M670,665 L680,672 L690,668" fill="none" stroke="#e020e0" stroke-width="2"/>
</g>
<text x="713.0" y="575.8" font-size="11.35" font-weight="bold" fill="#e020e0" text-anchor="middle" >PolyTA backbone</text>
<line x1="699.2" y1="587.3" x2="684" y2="598.8" stroke="#fff" stroke-width="1.3"/>
<polygon points="681.5,600.8 684.5,594.8 687.8,599" fill="#fff"/>
<defs><linearGradient id="barG" x1="0" y1="0" x2="0" y2="1"><stop offset="0" stop-color="#38a02c"/><stop offset="0.55" stop-color="#a8d020"/><stop offset="1" stop-color="#ffff00"/></linearGradient></defs>
<rect x="834.6" y="676.3" width="19.6" height="14.1" fill="url(#barG)"/>
<path d="M844.4,668.2 V686.5 M842.4,668.2 H846.4 M842.4,686.5 H846.4" stroke="#222" stroke-width="1"/>
<rect x="867.4" y="658.8" width="19.6" height="31.6" fill="url(#barG)"/>
<path d="M877.2,654.3 V664.5 M875.2,654.3 H879.2 M875.2,664.5 H879.2" stroke="#222" stroke-width="1"/>
<rect x="900.4" y="651.5" width="19.6" height="38.9" fill="url(#barG)"/>
<path d="M910.2,645.6 V658.4 M908.2,645.6 H912.2 M908.2,658.4 H912.2" stroke="#222" stroke-width="1"/>
<rect x="933.2" y="630" width="19.6" height="60.4" fill="url(#barG)"/>
<path d="M943.0,622 V640 M941.0,622 H945.0 M941.0,640 H945.0" stroke="#222" stroke-width="1"/>
<rect x="966.1" y="599.7" width="19.6" height="90.7" fill="url(#barG)"/>
<path d="M975.9,591.4 V611.8 M973.9,591.4 H977.9 M973.9,611.8 H977.9" stroke="#222" stroke-width="1"/>
<rect x="827.8" y="558.3" width="164.5" height="132.1" fill="none" stroke="#222" stroke-width="1.3"/>
<line x1="825.3" y1="677.4" x2="827.8" y2="677.4" stroke="#222" stroke-width="1"/>
<text x="824.3" y="680.4" font-size="8.8" fill="#222" text-anchor="end">10<tspan font-size="6" dy="-3.8">0</tspan></text>
<line x1="825.3" y1="617.9" x2="827.8" y2="617.9" stroke="#222" stroke-width="1"/>
<text x="824.3" y="620.9" font-size="8.8" fill="#222" text-anchor="end">10<tspan font-size="6" dy="-3.8">1</tspan></text>
<line x1="825.3" y1="558.4" x2="827.8" y2="558.4" stroke="#222" stroke-width="1"/>
<text x="824.3" y="561.4" font-size="8.8" fill="#222" text-anchor="end">10<tspan font-size="6" dy="-3.8">2</tspan></text>
<line x1="826.3" y1="686.6" x2="827.8" y2="686.6" stroke="#222" stroke-width="0.8"/>
<line x1="826.3" y1="683.2" x2="827.8" y2="683.2" stroke="#222" stroke-width="0.8"/>
<line x1="826.3" y1="680.1" x2="827.8" y2="680.1" stroke="#222" stroke-width="0.8"/>
<line x1="826.3" y1="659.5" x2="827.8" y2="659.5" stroke="#222" stroke-width="0.8"/>
<line x1="826.3" y1="649.0" x2="827.8" y2="649.0" stroke="#222" stroke-width="0.8"/>
<line x1="826.3" y1="641.6" x2="827.8" y2="641.6" stroke="#222" stroke-width="0.8"/>
<line x1="826.3" y1="635.8" x2="827.8" y2="635.8" stroke="#222" stroke-width="0.8"/>
<line x1="826.3" y1="631.1" x2="827.8" y2="631.1" stroke="#222" stroke-width="0.8"/>
<line x1="826.3" y1="627.1" x2="827.8" y2="627.1" stroke="#222" stroke-width="0.8"/>
<line x1="826.3" y1="623.7" x2="827.8" y2="623.7" stroke="#222" stroke-width="0.8"/>
<line x1="826.3" y1="620.6" x2="827.8" y2="620.6" stroke="#222" stroke-width="0.8"/>
<line x1="826.3" y1="600.0" x2="827.8" y2="600.0" stroke="#222" stroke-width="0.8"/>
<line x1="826.3" y1="589.5" x2="827.8" y2="589.5" stroke="#222" stroke-width="0.8"/>
<line x1="826.3" y1="582.1" x2="827.8" y2="582.1" stroke="#222" stroke-width="0.8"/>
<line x1="826.3" y1="576.3" x2="827.8" y2="576.3" stroke="#222" stroke-width="0.8"/>
<line x1="826.3" y1="571.6" x2="827.8" y2="571.6" stroke="#222" stroke-width="0.8"/>
<line x1="826.3" y1="567.6" x2="827.8" y2="567.6" stroke="#222" stroke-width="0.8"/>
<line x1="826.3" y1="564.2" x2="827.8" y2="564.2" stroke="#222" stroke-width="0.8"/>
<line x1="826.3" y1="561.1" x2="827.8" y2="561.1" stroke="#222" stroke-width="0.8"/>
<line x1="844.4" y1="690.4" x2="844.4" y2="692.9" stroke="#222" stroke-width="1"/>
<text x="844.4" y="703.0" font-size="9.6" font-weight="normal" fill="#222" text-anchor="middle" >10:1</text>
<line x1="877.2" y1="690.4" x2="877.2" y2="692.9" stroke="#222" stroke-width="1"/>
<text x="877.2" y="703.0" font-size="9.6" font-weight="normal" fill="#222" text-anchor="middle" >8:1</text>
<line x1="910.2" y1="690.4" x2="910.2" y2="692.9" stroke="#222" stroke-width="1"/>
<text x="910.2" y="703.0" font-size="9.6" font-weight="normal" fill="#222" text-anchor="middle" >7:1</text>
<line x1="943.0" y1="690.4" x2="943.0" y2="692.9" stroke="#222" stroke-width="1"/>
<text x="943.0" y="703.0" font-size="9.6" font-weight="normal" fill="#222" text-anchor="middle" >5:1</text>
<line x1="975.9" y1="690.4" x2="975.9" y2="692.9" stroke="#222" stroke-width="1"/>
<text x="975.9" y="703.0" font-size="9.6" font-weight="normal" fill="#222" text-anchor="middle" >3:1</text>
<text x="911.2" y="718.0" font-size="11.4" font-weight="normal" fill="#222" text-anchor="middle" >TA:IL (molar ratio)</text>
<text transform="translate(801,624.7) rotate(-90)" font-size="11.2" fill="#222" text-anchor="middle">Conductivity (mS m<tspan font-size="7.5" dy="-4">-1</tspan><tspan dy="4">)</tspan></text>
</svg>
</body></html>
